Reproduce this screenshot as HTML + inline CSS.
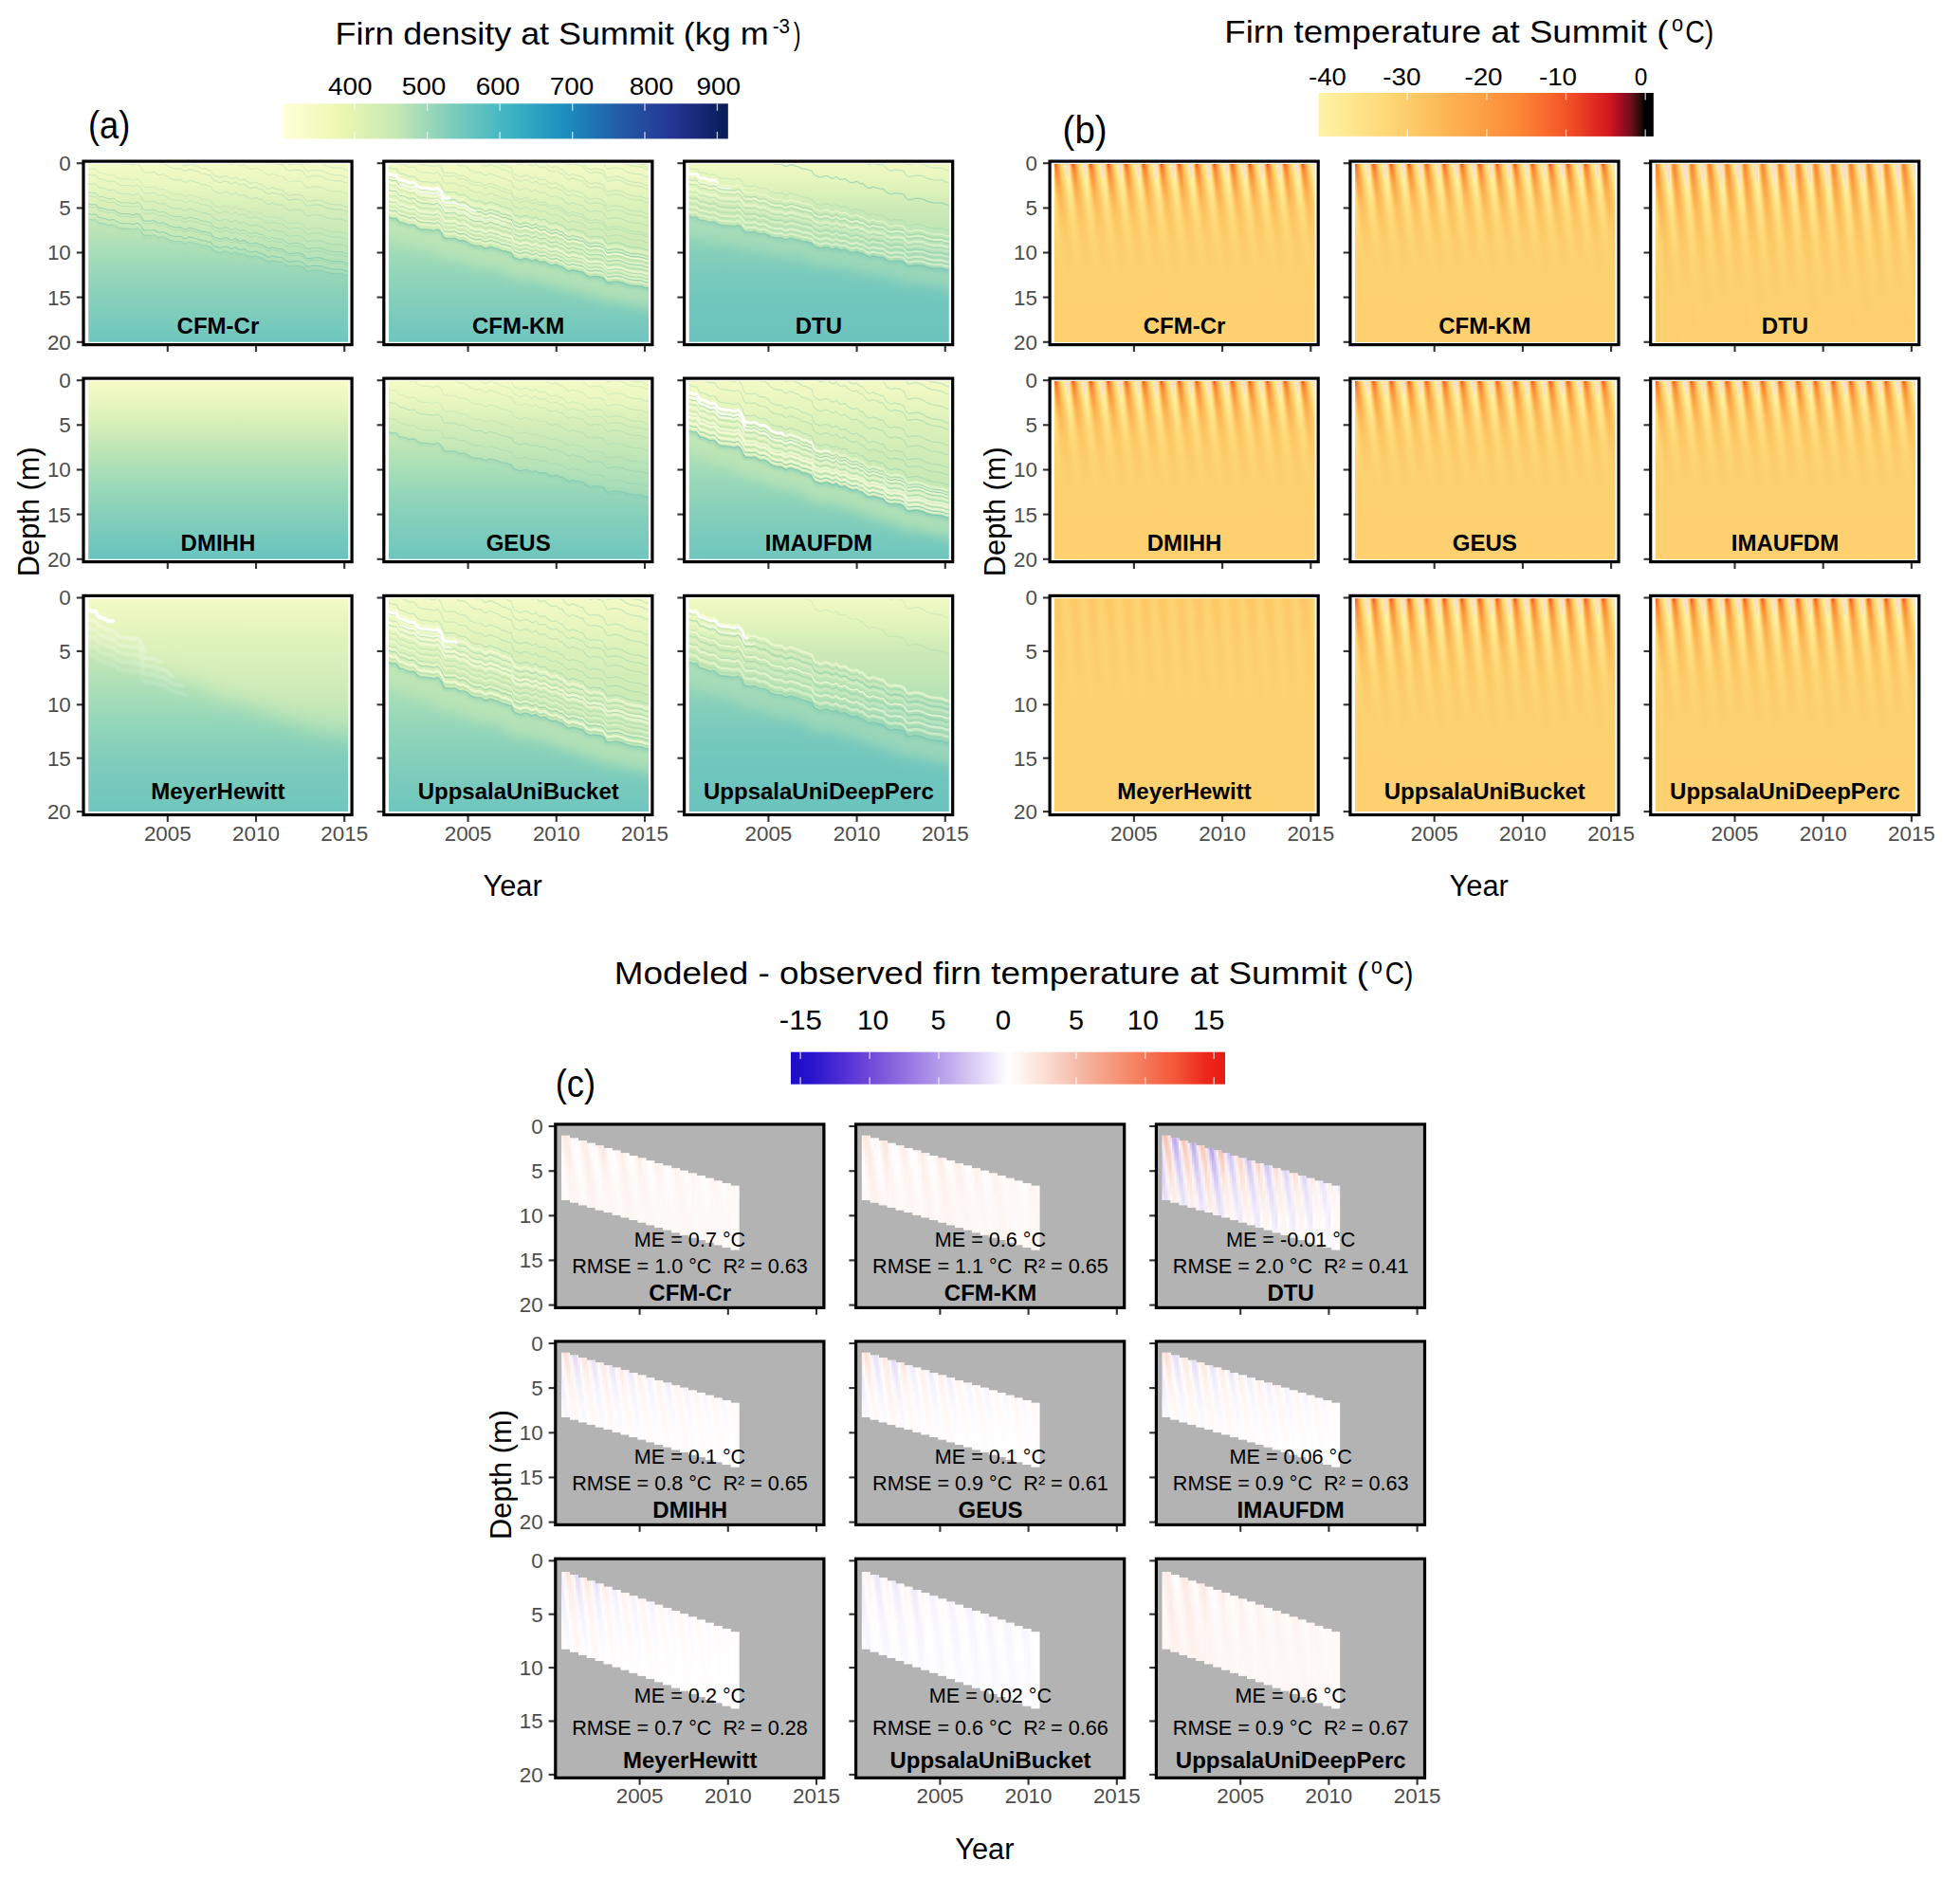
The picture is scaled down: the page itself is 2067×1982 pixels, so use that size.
<!DOCTYPE html>
<html><head><meta charset="utf-8"><title>Firn model comparison at Summit</title>
<style>html,body{margin:0;padding:0;background:#fff}svg{display:block}</style></head>
<body>
<svg width="2067" height="1982" viewBox="0 0 2067 1982" font-family='"Liberation Sans", sans-serif'>
<defs>
<clipPath id="cp0"><rect x="6.8" y="4.6" width="274" height="187.6"/></clipPath>
<clipPath id="cp2"><rect x="6.8" y="4.6" width="274" height="224.6"/></clipPath>
<linearGradient id="tn0" x1="0" y1="0" x2="0" y2="1"><stop offset="0" stop-color="#feea96"/><stop offset="0.0075" stop-color="#fee993"/><stop offset="0.0175" stop-color="#fee68f"/><stop offset="0.03" stop-color="#fee48a"/><stop offset="0.045" stop-color="#fee084"/><stop offset="0.065" stop-color="#fedc7d"/><stop offset="0.09" stop-color="#fed776"/><stop offset="0.12" stop-color="#fed06e"/><stop offset="0.155" stop-color="#fdc967"/><stop offset="0.2" stop-color="#fdc462"/><stop offset="0.25" stop-color="#fdc361"/><stop offset="0.31" stop-color="#fdc563"/><stop offset="0.375" stop-color="#fdca68"/><stop offset="0.45" stop-color="#fdce6d"/><stop offset="0.55" stop-color="#fed16f"/><stop offset="0.675" stop-color="#fed16f"/><stop offset="0.825" stop-color="#fed06f"/><stop offset="1" stop-color="#fed06f"/></linearGradient>
<linearGradient id="tn1" x1="0" y1="0" x2="0" y2="1"><stop offset="0" stop-color="#fff3a8"/><stop offset="0.0075" stop-color="#fff2a6"/><stop offset="0.0175" stop-color="#fff0a2"/><stop offset="0.03" stop-color="#ffed9c"/><stop offset="0.045" stop-color="#fee994"/><stop offset="0.065" stop-color="#fee48b"/><stop offset="0.09" stop-color="#fedf82"/><stop offset="0.12" stop-color="#fed978"/><stop offset="0.155" stop-color="#fed170"/><stop offset="0.2" stop-color="#fdca68"/><stop offset="0.25" stop-color="#fdc765"/><stop offset="0.31" stop-color="#fdc765"/><stop offset="0.375" stop-color="#fdc967"/><stop offset="0.45" stop-color="#fdcd6b"/><stop offset="0.55" stop-color="#fed06f"/><stop offset="0.675" stop-color="#fed16f"/><stop offset="0.825" stop-color="#fed06f"/><stop offset="1" stop-color="#fed06f"/></linearGradient>
<linearGradient id="tn2" x1="0" y1="0" x2="0" y2="1"><stop offset="0" stop-color="#fbdcd0"/><stop offset="0.0075" stop-color="#fbdcd0"/><stop offset="0.0175" stop-color="#fbdcd0"/><stop offset="0.03" stop-color="#fbdcd0"/><stop offset="0.045" stop-color="#fff2a7"/><stop offset="0.065" stop-color="#ffed9d"/><stop offset="0.09" stop-color="#fee790"/><stop offset="0.12" stop-color="#fee084"/><stop offset="0.155" stop-color="#feda79"/><stop offset="0.2" stop-color="#fed16f"/><stop offset="0.25" stop-color="#fdcb69"/><stop offset="0.31" stop-color="#fdc967"/><stop offset="0.375" stop-color="#fdca68"/><stop offset="0.45" stop-color="#fdcc6b"/><stop offset="0.55" stop-color="#fdcf6e"/><stop offset="0.675" stop-color="#fed16f"/><stop offset="0.825" stop-color="#fed06f"/><stop offset="1" stop-color="#fed06f"/></linearGradient>
<linearGradient id="tn3" x1="0" y1="0" x2="0" y2="1"><stop offset="0" stop-color="#fbdcd0"/><stop offset="0.0075" stop-color="#fbdcd0"/><stop offset="0.0175" stop-color="#fbdcd0"/><stop offset="0.03" stop-color="#fbdcd0"/><stop offset="0.045" stop-color="#fbdcd0"/><stop offset="0.065" stop-color="#fbdcd0"/><stop offset="0.09" stop-color="#ffefa0"/><stop offset="0.12" stop-color="#fee892"/><stop offset="0.155" stop-color="#fee085"/><stop offset="0.2" stop-color="#fed978"/><stop offset="0.25" stop-color="#fed06f"/><stop offset="0.31" stop-color="#fdcc6a"/><stop offset="0.375" stop-color="#fdcb69"/><stop offset="0.45" stop-color="#fdcc6b"/><stop offset="0.55" stop-color="#fdcf6d"/><stop offset="0.675" stop-color="#fed06f"/><stop offset="0.825" stop-color="#fed06f"/><stop offset="1" stop-color="#fed06f"/></linearGradient>
<linearGradient id="tn4" x1="0" y1="0" x2="0" y2="1"><stop offset="0" stop-color="#fff2a5"/><stop offset="0.0075" stop-color="#fbdcd0"/><stop offset="0.0175" stop-color="#fbdcd0"/><stop offset="0.03" stop-color="#fbdcd0"/><stop offset="0.045" stop-color="#fbdcd0"/><stop offset="0.065" stop-color="#fbdcd0"/><stop offset="0.09" stop-color="#fff3a8"/><stop offset="0.12" stop-color="#ffed9d"/><stop offset="0.155" stop-color="#fee68f"/><stop offset="0.2" stop-color="#fede81"/><stop offset="0.25" stop-color="#fed775"/><stop offset="0.31" stop-color="#fdcf6e"/><stop offset="0.375" stop-color="#fdcc6b"/><stop offset="0.45" stop-color="#fdcd6b"/><stop offset="0.55" stop-color="#fdcf6d"/><stop offset="0.675" stop-color="#fed06f"/><stop offset="0.825" stop-color="#fed06f"/><stop offset="1" stop-color="#fed06f"/></linearGradient>
<linearGradient id="tn5" x1="0" y1="0" x2="0" y2="1"><stop offset="0" stop-color="#fedd7f"/><stop offset="0.0075" stop-color="#fee084"/><stop offset="0.0175" stop-color="#fee48b"/><stop offset="0.03" stop-color="#fee893"/><stop offset="0.045" stop-color="#feec9a"/><stop offset="0.065" stop-color="#ffefa0"/><stop offset="0.09" stop-color="#fff0a2"/><stop offset="0.12" stop-color="#ffee9f"/><stop offset="0.155" stop-color="#feea96"/><stop offset="0.2" stop-color="#fee388"/><stop offset="0.25" stop-color="#fedb7c"/><stop offset="0.31" stop-color="#fed472"/><stop offset="0.375" stop-color="#fdcf6d"/><stop offset="0.45" stop-color="#fdcd6c"/><stop offset="0.55" stop-color="#fdce6d"/><stop offset="0.675" stop-color="#fed06e"/><stop offset="0.825" stop-color="#fed06f"/><stop offset="1" stop-color="#fed06f"/></linearGradient>
<linearGradient id="tn6" x1="0" y1="0" x2="0" y2="1"><stop offset="0" stop-color="#fdb756"/><stop offset="0.0075" stop-color="#fdbe5c"/><stop offset="0.0175" stop-color="#fdc664"/><stop offset="0.03" stop-color="#fdcf6e"/><stop offset="0.045" stop-color="#fed977"/><stop offset="0.065" stop-color="#fee083"/><stop offset="0.09" stop-color="#fee58d"/><stop offset="0.12" stop-color="#fee993"/><stop offset="0.155" stop-color="#fee893"/><stop offset="0.2" stop-color="#fee58c"/><stop offset="0.25" stop-color="#fedf81"/><stop offset="0.31" stop-color="#fed877"/><stop offset="0.375" stop-color="#fed270"/><stop offset="0.45" stop-color="#fdcf6d"/><stop offset="0.55" stop-color="#fdcf6d"/><stop offset="0.675" stop-color="#fed06e"/><stop offset="0.825" stop-color="#fed06f"/><stop offset="1" stop-color="#fed06f"/></linearGradient>
<linearGradient id="tn7" x1="0" y1="0" x2="0" y2="1"><stop offset="0" stop-color="#fc8636"/><stop offset="0.0075" stop-color="#fc903c"/><stop offset="0.0175" stop-color="#fd9d43"/><stop offset="0.03" stop-color="#fda94b"/><stop offset="0.045" stop-color="#fdb654"/><stop offset="0.065" stop-color="#fdc563"/><stop offset="0.09" stop-color="#fed372"/><stop offset="0.12" stop-color="#fedd7f"/><stop offset="0.155" stop-color="#fee287"/><stop offset="0.2" stop-color="#fee389"/><stop offset="0.25" stop-color="#fee083"/><stop offset="0.31" stop-color="#feda7a"/><stop offset="0.375" stop-color="#fed473"/><stop offset="0.45" stop-color="#fed06f"/><stop offset="0.55" stop-color="#fdcf6d"/><stop offset="0.675" stop-color="#fed06e"/><stop offset="0.825" stop-color="#fed06f"/><stop offset="1" stop-color="#fed06f"/></linearGradient>
<linearGradient id="tn8" x1="0" y1="0" x2="0" y2="1"><stop offset="0" stop-color="#cc171f"/><stop offset="0.0075" stop-color="#ec4524"/><stop offset="0.0175" stop-color="#f9692d"/><stop offset="0.03" stop-color="#fc8536"/><stop offset="0.045" stop-color="#fd963f"/><stop offset="0.065" stop-color="#fda749"/><stop offset="0.09" stop-color="#fdb857"/><stop offset="0.12" stop-color="#fdca68"/><stop offset="0.155" stop-color="#fed776"/><stop offset="0.2" stop-color="#fedd7f"/><stop offset="0.25" stop-color="#fede81"/><stop offset="0.31" stop-color="#fedb7c"/><stop offset="0.375" stop-color="#fed675"/><stop offset="0.45" stop-color="#fed270"/><stop offset="0.55" stop-color="#fdcf6e"/><stop offset="0.675" stop-color="#fed06e"/><stop offset="0.825" stop-color="#fed06f"/><stop offset="1" stop-color="#fed06f"/></linearGradient>
<linearGradient id="tn9" x1="0" y1="0" x2="0" y2="1"><stop offset="0" stop-color="#f75f2a"/><stop offset="0.0075" stop-color="#f9672c"/><stop offset="0.0175" stop-color="#f96f2f"/><stop offset="0.03" stop-color="#fb7932"/><stop offset="0.045" stop-color="#fc8736"/><stop offset="0.065" stop-color="#fd933d"/><stop offset="0.09" stop-color="#fda347"/><stop offset="0.12" stop-color="#fdb453"/><stop offset="0.155" stop-color="#fdc664"/><stop offset="0.2" stop-color="#fed472"/><stop offset="0.25" stop-color="#feda7a"/><stop offset="0.31" stop-color="#fedb7b"/><stop offset="0.375" stop-color="#fed876"/><stop offset="0.45" stop-color="#fed372"/><stop offset="0.55" stop-color="#fed06f"/><stop offset="0.675" stop-color="#fed06e"/><stop offset="0.825" stop-color="#fed06f"/><stop offset="1" stop-color="#fed06f"/></linearGradient>
<linearGradient id="tn10" x1="0" y1="0" x2="0" y2="1"><stop offset="0" stop-color="#fc8a38"/><stop offset="0.0075" stop-color="#fc8837"/><stop offset="0.0175" stop-color="#fc8736"/><stop offset="0.03" stop-color="#fc8736"/><stop offset="0.045" stop-color="#fc8938"/><stop offset="0.065" stop-color="#fc8e3b"/><stop offset="0.09" stop-color="#fd9941"/><stop offset="0.12" stop-color="#fda649"/><stop offset="0.155" stop-color="#fdb655"/><stop offset="0.2" stop-color="#fdc866"/><stop offset="0.25" stop-color="#fed371"/><stop offset="0.31" stop-color="#fed877"/><stop offset="0.375" stop-color="#fed776"/><stop offset="0.45" stop-color="#fed473"/><stop offset="0.55" stop-color="#fed16f"/><stop offset="0.675" stop-color="#fed06e"/><stop offset="0.825" stop-color="#fed06f"/><stop offset="1" stop-color="#fed06f"/></linearGradient>
<linearGradient id="tn11" x1="0" y1="0" x2="0" y2="1"><stop offset="0" stop-color="#fda649"/><stop offset="0.0075" stop-color="#fda347"/><stop offset="0.0175" stop-color="#fda045"/><stop offset="0.03" stop-color="#fd9c43"/><stop offset="0.045" stop-color="#fd9941"/><stop offset="0.065" stop-color="#fd9840"/><stop offset="0.09" stop-color="#fd9b42"/><stop offset="0.12" stop-color="#fda246"/><stop offset="0.155" stop-color="#fdad4e"/><stop offset="0.2" stop-color="#fdbd5b"/><stop offset="0.25" stop-color="#fdca69"/><stop offset="0.31" stop-color="#fed372"/><stop offset="0.375" stop-color="#fed674"/><stop offset="0.45" stop-color="#fed473"/><stop offset="0.55" stop-color="#fed170"/><stop offset="0.675" stop-color="#fed06f"/><stop offset="0.825" stop-color="#fed06f"/><stop offset="1" stop-color="#fed06f"/></linearGradient>
<linearGradient id="tn12" x1="0" y1="0" x2="0" y2="1"><stop offset="0" stop-color="#fdc05e"/><stop offset="0.0075" stop-color="#fdbc5b"/><stop offset="0.0175" stop-color="#fdb857"/><stop offset="0.03" stop-color="#fdb352"/><stop offset="0.045" stop-color="#fdae4e"/><stop offset="0.065" stop-color="#fda94b"/><stop offset="0.09" stop-color="#fda649"/><stop offset="0.12" stop-color="#fda74a"/><stop offset="0.155" stop-color="#fdac4d"/><stop offset="0.2" stop-color="#fdb756"/><stop offset="0.25" stop-color="#fdc462"/><stop offset="0.31" stop-color="#fdce6c"/><stop offset="0.375" stop-color="#fed372"/><stop offset="0.45" stop-color="#fed472"/><stop offset="0.55" stop-color="#fed270"/><stop offset="0.675" stop-color="#fed06f"/><stop offset="0.825" stop-color="#fed06f"/><stop offset="1" stop-color="#fed06f"/></linearGradient>
<linearGradient id="tn13" x1="0" y1="0" x2="0" y2="1"><stop offset="0" stop-color="#fed270"/><stop offset="0.0075" stop-color="#fdcf6e"/><stop offset="0.0175" stop-color="#fdcb6a"/><stop offset="0.03" stop-color="#fdc765"/><stop offset="0.045" stop-color="#fdc160"/><stop offset="0.065" stop-color="#fdbb59"/><stop offset="0.09" stop-color="#fdb554"/><stop offset="0.12" stop-color="#fdb150"/><stop offset="0.155" stop-color="#fdb150"/><stop offset="0.2" stop-color="#fdb655"/><stop offset="0.25" stop-color="#fdbf5e"/><stop offset="0.31" stop-color="#fdc968"/><stop offset="0.375" stop-color="#fed06f"/><stop offset="0.45" stop-color="#fed371"/><stop offset="0.55" stop-color="#fed271"/><stop offset="0.675" stop-color="#fed06f"/><stop offset="0.825" stop-color="#fed06f"/><stop offset="1" stop-color="#fed06f"/></linearGradient>
<linearGradient id="tn14" x1="0" y1="0" x2="0" y2="1"><stop offset="0" stop-color="#fedc7d"/><stop offset="0.0075" stop-color="#feda7a"/><stop offset="0.0175" stop-color="#fed877"/><stop offset="0.03" stop-color="#fed473"/><stop offset="0.045" stop-color="#fdcf6e"/><stop offset="0.065" stop-color="#fdc967"/><stop offset="0.09" stop-color="#fdc361"/><stop offset="0.12" stop-color="#fdbc5b"/><stop offset="0.155" stop-color="#fdb957"/><stop offset="0.2" stop-color="#fdb958"/><stop offset="0.25" stop-color="#fdbe5d"/><stop offset="0.31" stop-color="#fdc765"/><stop offset="0.375" stop-color="#fdcd6c"/><stop offset="0.45" stop-color="#fed170"/><stop offset="0.55" stop-color="#fed270"/><stop offset="0.675" stop-color="#fed16f"/><stop offset="0.825" stop-color="#fed06f"/><stop offset="1" stop-color="#fed06f"/></linearGradient>
<linearGradient id="tn15" x1="0" y1="0" x2="0" y2="1"><stop offset="0" stop-color="#fee288"/><stop offset="0.0075" stop-color="#fee185"/><stop offset="0.0175" stop-color="#fedf82"/><stop offset="0.03" stop-color="#fedc7e"/><stop offset="0.045" stop-color="#fed978"/><stop offset="0.065" stop-color="#fed472"/><stop offset="0.09" stop-color="#fdcd6c"/><stop offset="0.12" stop-color="#fdc765"/><stop offset="0.155" stop-color="#fdc15f"/><stop offset="0.2" stop-color="#fdbe5d"/><stop offset="0.25" stop-color="#fdc05e"/><stop offset="0.31" stop-color="#fdc563"/><stop offset="0.375" stop-color="#fdcb69"/><stop offset="0.45" stop-color="#fed06e"/><stop offset="0.55" stop-color="#fed170"/><stop offset="0.675" stop-color="#fed16f"/><stop offset="0.825" stop-color="#fed06f"/><stop offset="1" stop-color="#fed06f"/></linearGradient>
<g id="Tn0"><rect x="0" width="2.46" height="188.6" fill="url(#tn0)"/><rect x="1.17" width="2.46" height="188.6" fill="url(#tn1)"/><rect x="2.33" width="2.46" height="188.6" fill="url(#tn2)"/><rect x="3.5" width="2.46" height="188.6" fill="url(#tn3)"/><rect x="4.66" width="2.46" height="188.6" fill="url(#tn4)"/><rect x="5.83" width="2.46" height="188.6" fill="url(#tn5)"/><rect x="6.99" width="2.46" height="188.6" fill="url(#tn6)"/><rect x="8.16" width="2.46" height="188.6" fill="url(#tn7)"/><rect x="9.32" width="2.46" height="188.6" fill="url(#tn8)"/><rect x="10.48" width="2.46" height="188.6" fill="url(#tn9)"/><rect x="11.65" width="2.46" height="188.6" fill="url(#tn10)"/><rect x="12.82" width="2.46" height="188.6" fill="url(#tn11)"/><rect x="13.98" width="2.46" height="188.6" fill="url(#tn12)"/><rect x="15.14" width="2.46" height="188.6" fill="url(#tn13)"/><rect x="16.31" width="2.46" height="188.6" fill="url(#tn14)"/><rect x="17.48" width="2.46" height="188.6" fill="url(#tn15)"/></g>
<g id="Tn2"><rect x="0" width="2.46" height="225.6" fill="url(#tn0)"/><rect x="1.17" width="2.46" height="225.6" fill="url(#tn1)"/><rect x="2.33" width="2.46" height="225.6" fill="url(#tn2)"/><rect x="3.5" width="2.46" height="225.6" fill="url(#tn3)"/><rect x="4.66" width="2.46" height="225.6" fill="url(#tn4)"/><rect x="5.83" width="2.46" height="225.6" fill="url(#tn5)"/><rect x="6.99" width="2.46" height="225.6" fill="url(#tn6)"/><rect x="8.16" width="2.46" height="225.6" fill="url(#tn7)"/><rect x="9.32" width="2.46" height="225.6" fill="url(#tn8)"/><rect x="10.48" width="2.46" height="225.6" fill="url(#tn9)"/><rect x="11.65" width="2.46" height="225.6" fill="url(#tn10)"/><rect x="12.82" width="2.46" height="225.6" fill="url(#tn11)"/><rect x="13.98" width="2.46" height="225.6" fill="url(#tn12)"/><rect x="15.14" width="2.46" height="225.6" fill="url(#tn13)"/><rect x="16.31" width="2.46" height="225.6" fill="url(#tn14)"/><rect x="17.48" width="2.46" height="225.6" fill="url(#tn15)"/></g>
<linearGradient id="td0" x1="0" y1="0" x2="0" y2="1"><stop offset="0" stop-color="#fbdcd0"/><stop offset="0.0075" stop-color="#fff3a7"/><stop offset="0.0175" stop-color="#ffefa1"/><stop offset="0.03" stop-color="#feec99"/><stop offset="0.045" stop-color="#fee791"/><stop offset="0.065" stop-color="#fee287"/><stop offset="0.09" stop-color="#fedd7e"/><stop offset="0.12" stop-color="#fed675"/><stop offset="0.155" stop-color="#fdce6d"/><stop offset="0.2" stop-color="#fdc765"/><stop offset="0.25" stop-color="#fdc361"/><stop offset="0.31" stop-color="#fdc15f"/><stop offset="0.375" stop-color="#fdc362"/><stop offset="0.45" stop-color="#fdc866"/><stop offset="0.55" stop-color="#fdcd6b"/><stop offset="0.675" stop-color="#fed06f"/><stop offset="0.825" stop-color="#fed06f"/><stop offset="1" stop-color="#fed06e"/></linearGradient>
<linearGradient id="td1" x1="0" y1="0" x2="0" y2="1"><stop offset="0" stop-color="#fbdcd0"/><stop offset="0.0075" stop-color="#fbdcd0"/><stop offset="0.0175" stop-color="#fbdcd0"/><stop offset="0.03" stop-color="#fbdcd0"/><stop offset="0.045" stop-color="#fff2a6"/><stop offset="0.065" stop-color="#feec9a"/><stop offset="0.09" stop-color="#fee68e"/><stop offset="0.12" stop-color="#fedf83"/><stop offset="0.155" stop-color="#fed978"/><stop offset="0.2" stop-color="#fed06e"/><stop offset="0.25" stop-color="#fdc967"/><stop offset="0.31" stop-color="#fdc563"/><stop offset="0.375" stop-color="#fdc563"/><stop offset="0.45" stop-color="#fdc866"/><stop offset="0.55" stop-color="#fdcc6a"/><stop offset="0.675" stop-color="#fdcf6e"/><stop offset="0.825" stop-color="#fed06f"/><stop offset="1" stop-color="#fed06e"/></linearGradient>
<linearGradient id="td2" x1="0" y1="0" x2="0" y2="1"><stop offset="0" stop-color="#fbdcd0"/><stop offset="0.0075" stop-color="#fbdcd0"/><stop offset="0.0175" stop-color="#fbdcd0"/><stop offset="0.03" stop-color="#fbdcd0"/><stop offset="0.045" stop-color="#fbdcd0"/><stop offset="0.065" stop-color="#fbdcd0"/><stop offset="0.09" stop-color="#fff0a1"/><stop offset="0.12" stop-color="#fee993"/><stop offset="0.155" stop-color="#fee186"/><stop offset="0.2" stop-color="#fed979"/><stop offset="0.25" stop-color="#fed16f"/><stop offset="0.31" stop-color="#fdca69"/><stop offset="0.375" stop-color="#fdc866"/><stop offset="0.45" stop-color="#fdc866"/><stop offset="0.55" stop-color="#fdcb69"/><stop offset="0.675" stop-color="#fdcf6d"/><stop offset="0.825" stop-color="#fed06e"/><stop offset="1" stop-color="#fed06e"/></linearGradient>
<linearGradient id="td3" x1="0" y1="0" x2="0" y2="1"><stop offset="0" stop-color="#fbdcd0"/><stop offset="0.0075" stop-color="#fbdcd0"/><stop offset="0.0175" stop-color="#fbdcd0"/><stop offset="0.03" stop-color="#fbdcd0"/><stop offset="0.045" stop-color="#fbdcd0"/><stop offset="0.065" stop-color="#fbdcd0"/><stop offset="0.09" stop-color="#fbdcd0"/><stop offset="0.12" stop-color="#fff1a3"/><stop offset="0.155" stop-color="#fee994"/><stop offset="0.2" stop-color="#fee185"/><stop offset="0.25" stop-color="#fed978"/><stop offset="0.31" stop-color="#fed06f"/><stop offset="0.375" stop-color="#fdcb6a"/><stop offset="0.45" stop-color="#fdca68"/><stop offset="0.55" stop-color="#fdcb69"/><stop offset="0.675" stop-color="#fdce6c"/><stop offset="0.825" stop-color="#fed06e"/><stop offset="1" stop-color="#fed06e"/></linearGradient>
<linearGradient id="td4" x1="0" y1="0" x2="0" y2="1"><stop offset="0" stop-color="#fbdcd0"/><stop offset="0.0075" stop-color="#fbdcd0"/><stop offset="0.0175" stop-color="#fbdcd0"/><stop offset="0.03" stop-color="#fbdcd0"/><stop offset="0.045" stop-color="#fbdcd0"/><stop offset="0.065" stop-color="#fbdcd0"/><stop offset="0.09" stop-color="#fbdcd0"/><stop offset="0.12" stop-color="#fbdcd0"/><stop offset="0.155" stop-color="#ffefa0"/><stop offset="0.2" stop-color="#fee790"/><stop offset="0.25" stop-color="#fedf82"/><stop offset="0.31" stop-color="#fed776"/><stop offset="0.375" stop-color="#fed06e"/><stop offset="0.45" stop-color="#fdcc6a"/><stop offset="0.55" stop-color="#fdcc6a"/><stop offset="0.675" stop-color="#fdce6c"/><stop offset="0.825" stop-color="#fdcf6e"/><stop offset="1" stop-color="#fed06e"/></linearGradient>
<linearGradient id="td5" x1="0" y1="0" x2="0" y2="1"><stop offset="0" stop-color="#fee38a"/><stop offset="0.0075" stop-color="#fee58d"/><stop offset="0.0175" stop-color="#fee791"/><stop offset="0.03" stop-color="#feea96"/><stop offset="0.045" stop-color="#ffed9b"/><stop offset="0.065" stop-color="#ffefa1"/><stop offset="0.09" stop-color="#fff1a4"/><stop offset="0.12" stop-color="#fff1a5"/><stop offset="0.155" stop-color="#ffefa0"/><stop offset="0.2" stop-color="#feea97"/><stop offset="0.25" stop-color="#fee48a"/><stop offset="0.31" stop-color="#fedc7d"/><stop offset="0.375" stop-color="#fed574"/><stop offset="0.45" stop-color="#fdcf6e"/><stop offset="0.55" stop-color="#fdcd6b"/><stop offset="0.675" stop-color="#fdce6c"/><stop offset="0.825" stop-color="#fdcf6e"/><stop offset="1" stop-color="#fed06e"/></linearGradient>
<linearGradient id="td6" x1="0" y1="0" x2="0" y2="1"><stop offset="0" stop-color="#fdc160"/><stop offset="0.0075" stop-color="#fdc563"/><stop offset="0.0175" stop-color="#fdca68"/><stop offset="0.03" stop-color="#fdcf6e"/><stop offset="0.045" stop-color="#fed675"/><stop offset="0.065" stop-color="#fedc7e"/><stop offset="0.09" stop-color="#fee287"/><stop offset="0.12" stop-color="#fee78f"/><stop offset="0.155" stop-color="#fee994"/><stop offset="0.2" stop-color="#fee994"/><stop offset="0.25" stop-color="#fee58d"/><stop offset="0.31" stop-color="#fedf83"/><stop offset="0.375" stop-color="#fed979"/><stop offset="0.45" stop-color="#fed271"/><stop offset="0.55" stop-color="#fdce6d"/><stop offset="0.675" stop-color="#fdce6c"/><stop offset="0.825" stop-color="#fdcf6d"/><stop offset="1" stop-color="#fed06e"/></linearGradient>
<linearGradient id="td7" x1="0" y1="0" x2="0" y2="1"><stop offset="0" stop-color="#fd9b42"/><stop offset="0.0075" stop-color="#fd9f44"/><stop offset="0.0175" stop-color="#fda448"/><stop offset="0.03" stop-color="#fdaa4c"/><stop offset="0.045" stop-color="#fdb351"/><stop offset="0.065" stop-color="#fdbe5c"/><stop offset="0.09" stop-color="#fdca68"/><stop offset="0.12" stop-color="#fed675"/><stop offset="0.155" stop-color="#fede80"/><stop offset="0.2" stop-color="#fee288"/><stop offset="0.25" stop-color="#fee389"/><stop offset="0.31" stop-color="#fee084"/><stop offset="0.375" stop-color="#fedc7c"/><stop offset="0.45" stop-color="#fed674"/><stop offset="0.55" stop-color="#fed06e"/><stop offset="0.675" stop-color="#fdce6d"/><stop offset="0.825" stop-color="#fdcf6d"/><stop offset="1" stop-color="#fdcf6e"/></linearGradient>
<linearGradient id="td8" x1="0" y1="0" x2="0" y2="1"><stop offset="0" stop-color="#fa702f"/><stop offset="0.0075" stop-color="#fb7c33"/><stop offset="0.0175" stop-color="#fc8737"/><stop offset="0.03" stop-color="#fc8e3b"/><stop offset="0.045" stop-color="#fd973f"/><stop offset="0.065" stop-color="#fda146"/><stop offset="0.09" stop-color="#fdad4e"/><stop offset="0.12" stop-color="#fdbc5b"/><stop offset="0.155" stop-color="#fdcb69"/><stop offset="0.2" stop-color="#fed876"/><stop offset="0.25" stop-color="#fedd7f"/><stop offset="0.31" stop-color="#fede81"/><stop offset="0.375" stop-color="#fedc7d"/><stop offset="0.45" stop-color="#fed877"/><stop offset="0.55" stop-color="#fed270"/><stop offset="0.675" stop-color="#fdcf6d"/><stop offset="0.825" stop-color="#fdcf6d"/><stop offset="1" stop-color="#fdcf6e"/></linearGradient>
<linearGradient id="td9" x1="0" y1="0" x2="0" y2="1"><stop offset="0" stop-color="#fc8636"/><stop offset="0.0075" stop-color="#fc8636"/><stop offset="0.0175" stop-color="#fc8636"/><stop offset="0.03" stop-color="#fc8737"/><stop offset="0.045" stop-color="#fc8b39"/><stop offset="0.065" stop-color="#fc913c"/><stop offset="0.09" stop-color="#fd9b42"/><stop offset="0.12" stop-color="#fda84a"/><stop offset="0.155" stop-color="#fdb655"/><stop offset="0.2" stop-color="#fdc765"/><stop offset="0.25" stop-color="#fed372"/><stop offset="0.31" stop-color="#feda7a"/><stop offset="0.375" stop-color="#fedb7b"/><stop offset="0.45" stop-color="#fed877"/><stop offset="0.55" stop-color="#fed372"/><stop offset="0.675" stop-color="#fed06e"/><stop offset="0.825" stop-color="#fdcf6d"/><stop offset="1" stop-color="#fdcf6e"/></linearGradient>
<linearGradient id="td10" x1="0" y1="0" x2="0" y2="1"><stop offset="0" stop-color="#fd9c42"/><stop offset="0.0075" stop-color="#fd9840"/><stop offset="0.0175" stop-color="#fd953e"/><stop offset="0.03" stop-color="#fd923d"/><stop offset="0.045" stop-color="#fc903c"/><stop offset="0.065" stop-color="#fc913c"/><stop offset="0.09" stop-color="#fd953f"/><stop offset="0.12" stop-color="#fd9e43"/><stop offset="0.155" stop-color="#fda94b"/><stop offset="0.2" stop-color="#fdb857"/><stop offset="0.25" stop-color="#fdc765"/><stop offset="0.31" stop-color="#fed271"/><stop offset="0.375" stop-color="#fed776"/><stop offset="0.45" stop-color="#fed876"/><stop offset="0.55" stop-color="#fed473"/><stop offset="0.675" stop-color="#fed16f"/><stop offset="0.825" stop-color="#fdcf6e"/><stop offset="1" stop-color="#fdcf6e"/></linearGradient>
<linearGradient id="td11" x1="0" y1="0" x2="0" y2="1"><stop offset="0" stop-color="#fdb352"/><stop offset="0.0075" stop-color="#fdaf4f"/><stop offset="0.0175" stop-color="#fdab4c"/><stop offset="0.03" stop-color="#fda649"/><stop offset="0.045" stop-color="#fda246"/><stop offset="0.065" stop-color="#fd9e44"/><stop offset="0.09" stop-color="#fd9d43"/><stop offset="0.12" stop-color="#fd9f44"/><stop offset="0.155" stop-color="#fda548"/><stop offset="0.2" stop-color="#fdaf4f"/><stop offset="0.25" stop-color="#fdbc5b"/><stop offset="0.31" stop-color="#fdc968"/><stop offset="0.375" stop-color="#fed270"/><stop offset="0.45" stop-color="#fed574"/><stop offset="0.55" stop-color="#fed473"/><stop offset="0.675" stop-color="#fed170"/><stop offset="0.825" stop-color="#fdcf6e"/><stop offset="1" stop-color="#fdcf6e"/></linearGradient>
<linearGradient id="td12" x1="0" y1="0" x2="0" y2="1"><stop offset="0" stop-color="#fdcb69"/><stop offset="0.0075" stop-color="#fdc765"/><stop offset="0.0175" stop-color="#fdc160"/><stop offset="0.03" stop-color="#fdbc5a"/><stop offset="0.045" stop-color="#fdb654"/><stop offset="0.065" stop-color="#fdaf4f"/><stop offset="0.09" stop-color="#fdaa4c"/><stop offset="0.12" stop-color="#fda84a"/><stop offset="0.155" stop-color="#fda84a"/><stop offset="0.2" stop-color="#fdad4e"/><stop offset="0.25" stop-color="#fdb755"/><stop offset="0.31" stop-color="#fdc361"/><stop offset="0.375" stop-color="#fdcc6a"/><stop offset="0.45" stop-color="#fed270"/><stop offset="0.55" stop-color="#fed372"/><stop offset="0.675" stop-color="#fed270"/><stop offset="0.825" stop-color="#fed06e"/><stop offset="1" stop-color="#fdcf6e"/></linearGradient>
<linearGradient id="td13" x1="0" y1="0" x2="0" y2="1"><stop offset="0" stop-color="#feda7a"/><stop offset="0.0075" stop-color="#fed776"/><stop offset="0.0175" stop-color="#fed371"/><stop offset="0.03" stop-color="#fdcd6c"/><stop offset="0.045" stop-color="#fdc866"/><stop offset="0.065" stop-color="#fdc15f"/><stop offset="0.09" stop-color="#fdba58"/><stop offset="0.12" stop-color="#fdb453"/><stop offset="0.155" stop-color="#fdb150"/><stop offset="0.2" stop-color="#fdb150"/><stop offset="0.25" stop-color="#fdb654"/><stop offset="0.31" stop-color="#fdbe5d"/><stop offset="0.375" stop-color="#fdc766"/><stop offset="0.45" stop-color="#fdce6d"/><stop offset="0.55" stop-color="#fed271"/><stop offset="0.675" stop-color="#fed270"/><stop offset="0.825" stop-color="#fed06f"/><stop offset="1" stop-color="#fdcf6e"/></linearGradient>
<linearGradient id="td14" x1="0" y1="0" x2="0" y2="1"><stop offset="0" stop-color="#fee389"/><stop offset="0.0075" stop-color="#fee085"/><stop offset="0.0175" stop-color="#fedd7f"/><stop offset="0.03" stop-color="#feda7a"/><stop offset="0.045" stop-color="#fed574"/><stop offset="0.065" stop-color="#fdce6d"/><stop offset="0.09" stop-color="#fdc765"/><stop offset="0.12" stop-color="#fdc05f"/><stop offset="0.155" stop-color="#fdbb59"/><stop offset="0.2" stop-color="#fdb756"/><stop offset="0.25" stop-color="#fdb857"/><stop offset="0.31" stop-color="#fdbd5c"/><stop offset="0.375" stop-color="#fdc462"/><stop offset="0.45" stop-color="#fdcb6a"/><stop offset="0.55" stop-color="#fed06f"/><stop offset="0.675" stop-color="#fed170"/><stop offset="0.825" stop-color="#fed06f"/><stop offset="1" stop-color="#fed06e"/></linearGradient>
<linearGradient id="td15" x1="0" y1="0" x2="0" y2="1"><stop offset="0" stop-color="#feeb98"/><stop offset="0.0075" stop-color="#fee993"/><stop offset="0.0175" stop-color="#fee68d"/><stop offset="0.03" stop-color="#fee287"/><stop offset="0.045" stop-color="#fede81"/><stop offset="0.065" stop-color="#feda79"/><stop offset="0.09" stop-color="#fed271"/><stop offset="0.12" stop-color="#fdcb6a"/><stop offset="0.155" stop-color="#fdc563"/><stop offset="0.2" stop-color="#fdbf5d"/><stop offset="0.25" stop-color="#fdbd5b"/><stop offset="0.31" stop-color="#fdbe5d"/><stop offset="0.375" stop-color="#fdc361"/><stop offset="0.45" stop-color="#fdc967"/><stop offset="0.55" stop-color="#fdcf6d"/><stop offset="0.675" stop-color="#fed16f"/><stop offset="0.825" stop-color="#fed06f"/><stop offset="1" stop-color="#fed06e"/></linearGradient>
<g id="Td0"><rect x="0" width="2.46" height="188.6" fill="url(#td0)"/><rect x="1.17" width="2.46" height="188.6" fill="url(#td1)"/><rect x="2.33" width="2.46" height="188.6" fill="url(#td2)"/><rect x="3.5" width="2.46" height="188.6" fill="url(#td3)"/><rect x="4.66" width="2.46" height="188.6" fill="url(#td4)"/><rect x="5.83" width="2.46" height="188.6" fill="url(#td5)"/><rect x="6.99" width="2.46" height="188.6" fill="url(#td6)"/><rect x="8.16" width="2.46" height="188.6" fill="url(#td7)"/><rect x="9.32" width="2.46" height="188.6" fill="url(#td8)"/><rect x="10.48" width="2.46" height="188.6" fill="url(#td9)"/><rect x="11.65" width="2.46" height="188.6" fill="url(#td10)"/><rect x="12.82" width="2.46" height="188.6" fill="url(#td11)"/><rect x="13.98" width="2.46" height="188.6" fill="url(#td12)"/><rect x="15.14" width="2.46" height="188.6" fill="url(#td13)"/><rect x="16.31" width="2.46" height="188.6" fill="url(#td14)"/><rect x="17.48" width="2.46" height="188.6" fill="url(#td15)"/></g>
<g id="Td2"><rect x="0" width="2.46" height="225.6" fill="url(#td0)"/><rect x="1.17" width="2.46" height="225.6" fill="url(#td1)"/><rect x="2.33" width="2.46" height="225.6" fill="url(#td2)"/><rect x="3.5" width="2.46" height="225.6" fill="url(#td3)"/><rect x="4.66" width="2.46" height="225.6" fill="url(#td4)"/><rect x="5.83" width="2.46" height="225.6" fill="url(#td5)"/><rect x="6.99" width="2.46" height="225.6" fill="url(#td6)"/><rect x="8.16" width="2.46" height="225.6" fill="url(#td7)"/><rect x="9.32" width="2.46" height="225.6" fill="url(#td8)"/><rect x="10.48" width="2.46" height="225.6" fill="url(#td9)"/><rect x="11.65" width="2.46" height="225.6" fill="url(#td10)"/><rect x="12.82" width="2.46" height="225.6" fill="url(#td11)"/><rect x="13.98" width="2.46" height="225.6" fill="url(#td12)"/><rect x="15.14" width="2.46" height="225.6" fill="url(#td13)"/><rect x="16.31" width="2.46" height="225.6" fill="url(#td14)"/><rect x="17.48" width="2.46" height="225.6" fill="url(#td15)"/></g>
<linearGradient id="tm0" x1="0" y1="0" x2="0" y2="1"><stop offset="0" stop-color="#fed271"/><stop offset="0.0075" stop-color="#fed271"/><stop offset="0.0175" stop-color="#fed271"/><stop offset="0.03" stop-color="#fed271"/><stop offset="0.045" stop-color="#fed271"/><stop offset="0.065" stop-color="#fed270"/><stop offset="0.09" stop-color="#fed170"/><stop offset="0.12" stop-color="#fed16f"/><stop offset="0.155" stop-color="#fed06f"/><stop offset="0.2" stop-color="#fed06e"/><stop offset="0.25" stop-color="#fdcf6e"/><stop offset="0.31" stop-color="#fdcf6d"/><stop offset="0.375" stop-color="#fdcf6e"/><stop offset="0.45" stop-color="#fed06e"/><stop offset="0.55" stop-color="#fed06f"/><stop offset="0.675" stop-color="#fed16f"/><stop offset="0.825" stop-color="#fed170"/><stop offset="1" stop-color="#fed170"/></linearGradient>
<linearGradient id="tm1" x1="0" y1="0" x2="0" y2="1"><stop offset="0" stop-color="#fed372"/><stop offset="0.0075" stop-color="#fed372"/><stop offset="0.0175" stop-color="#fed372"/><stop offset="0.03" stop-color="#fed372"/><stop offset="0.045" stop-color="#fed372"/><stop offset="0.065" stop-color="#fed372"/><stop offset="0.09" stop-color="#fed372"/><stop offset="0.12" stop-color="#fed271"/><stop offset="0.155" stop-color="#fed270"/><stop offset="0.2" stop-color="#fed170"/><stop offset="0.25" stop-color="#fed06f"/><stop offset="0.31" stop-color="#fed06e"/><stop offset="0.375" stop-color="#fed06e"/><stop offset="0.45" stop-color="#fed06e"/><stop offset="0.55" stop-color="#fed06f"/><stop offset="0.675" stop-color="#fed16f"/><stop offset="0.825" stop-color="#fed16f"/><stop offset="1" stop-color="#fed170"/></linearGradient>
<linearGradient id="tm2" x1="0" y1="0" x2="0" y2="1"><stop offset="0" stop-color="#fed372"/><stop offset="0.0075" stop-color="#fed372"/><stop offset="0.0175" stop-color="#fed372"/><stop offset="0.03" stop-color="#fed472"/><stop offset="0.045" stop-color="#fed472"/><stop offset="0.065" stop-color="#fed472"/><stop offset="0.09" stop-color="#fed472"/><stop offset="0.12" stop-color="#fed372"/><stop offset="0.155" stop-color="#fed372"/><stop offset="0.2" stop-color="#fed271"/><stop offset="0.25" stop-color="#fed170"/><stop offset="0.31" stop-color="#fed16f"/><stop offset="0.375" stop-color="#fed06f"/><stop offset="0.45" stop-color="#fed06e"/><stop offset="0.55" stop-color="#fed06f"/><stop offset="0.675" stop-color="#fed16f"/><stop offset="0.825" stop-color="#fed16f"/><stop offset="1" stop-color="#fed170"/></linearGradient>
<linearGradient id="tm3" x1="0" y1="0" x2="0" y2="1"><stop offset="0" stop-color="#fed270"/><stop offset="0.0075" stop-color="#fed271"/><stop offset="0.0175" stop-color="#fed271"/><stop offset="0.03" stop-color="#fed371"/><stop offset="0.045" stop-color="#fed372"/><stop offset="0.065" stop-color="#fed472"/><stop offset="0.09" stop-color="#fed472"/><stop offset="0.12" stop-color="#fed472"/><stop offset="0.155" stop-color="#fed472"/><stop offset="0.2" stop-color="#fed372"/><stop offset="0.25" stop-color="#fed271"/><stop offset="0.31" stop-color="#fed170"/><stop offset="0.375" stop-color="#fed16f"/><stop offset="0.45" stop-color="#fed06f"/><stop offset="0.55" stop-color="#fed06f"/><stop offset="0.675" stop-color="#fed16f"/><stop offset="0.825" stop-color="#fed16f"/><stop offset="1" stop-color="#fed16f"/></linearGradient>
<linearGradient id="tm4" x1="0" y1="0" x2="0" y2="1"><stop offset="0" stop-color="#fed06e"/><stop offset="0.0075" stop-color="#fed06f"/><stop offset="0.0175" stop-color="#fed16f"/><stop offset="0.03" stop-color="#fed170"/><stop offset="0.045" stop-color="#fed270"/><stop offset="0.065" stop-color="#fed271"/><stop offset="0.09" stop-color="#fed372"/><stop offset="0.12" stop-color="#fed372"/><stop offset="0.155" stop-color="#fed472"/><stop offset="0.2" stop-color="#fed372"/><stop offset="0.25" stop-color="#fed372"/><stop offset="0.31" stop-color="#fed271"/><stop offset="0.375" stop-color="#fed170"/><stop offset="0.45" stop-color="#fed16f"/><stop offset="0.55" stop-color="#fed06f"/><stop offset="0.675" stop-color="#fed16f"/><stop offset="0.825" stop-color="#fed16f"/><stop offset="1" stop-color="#fed16f"/></linearGradient>
<linearGradient id="tm5" x1="0" y1="0" x2="0" y2="1"><stop offset="0" stop-color="#fdcd6c"/><stop offset="0.0075" stop-color="#fdce6c"/><stop offset="0.0175" stop-color="#fdcf6d"/><stop offset="0.03" stop-color="#fdcf6e"/><stop offset="0.045" stop-color="#fed06e"/><stop offset="0.065" stop-color="#fed16f"/><stop offset="0.09" stop-color="#fed270"/><stop offset="0.12" stop-color="#fed271"/><stop offset="0.155" stop-color="#fed372"/><stop offset="0.2" stop-color="#fed372"/><stop offset="0.25" stop-color="#fed372"/><stop offset="0.31" stop-color="#fed371"/><stop offset="0.375" stop-color="#fed270"/><stop offset="0.45" stop-color="#fed170"/><stop offset="0.55" stop-color="#fed16f"/><stop offset="0.675" stop-color="#fed16f"/><stop offset="0.825" stop-color="#fed16f"/><stop offset="1" stop-color="#fed16f"/></linearGradient>
<linearGradient id="tm6" x1="0" y1="0" x2="0" y2="1"><stop offset="0" stop-color="#fdcb69"/><stop offset="0.0075" stop-color="#fdcc6a"/><stop offset="0.0175" stop-color="#fdcc6a"/><stop offset="0.03" stop-color="#fdcd6b"/><stop offset="0.045" stop-color="#fdce6c"/><stop offset="0.065" stop-color="#fdcf6d"/><stop offset="0.09" stop-color="#fed06e"/><stop offset="0.12" stop-color="#fed16f"/><stop offset="0.155" stop-color="#fed270"/><stop offset="0.2" stop-color="#fed271"/><stop offset="0.25" stop-color="#fed371"/><stop offset="0.31" stop-color="#fed371"/><stop offset="0.375" stop-color="#fed271"/><stop offset="0.45" stop-color="#fed270"/><stop offset="0.55" stop-color="#fed170"/><stop offset="0.675" stop-color="#fed16f"/><stop offset="0.825" stop-color="#fed16f"/><stop offset="1" stop-color="#fed16f"/></linearGradient>
<linearGradient id="tm7" x1="0" y1="0" x2="0" y2="1"><stop offset="0" stop-color="#fdc967"/><stop offset="0.0075" stop-color="#fdc967"/><stop offset="0.0175" stop-color="#fdca68"/><stop offset="0.03" stop-color="#fdcb69"/><stop offset="0.045" stop-color="#fdcc6a"/><stop offset="0.065" stop-color="#fdcd6b"/><stop offset="0.09" stop-color="#fdce6c"/><stop offset="0.12" stop-color="#fdcf6e"/><stop offset="0.155" stop-color="#fed06f"/><stop offset="0.2" stop-color="#fed170"/><stop offset="0.25" stop-color="#fed271"/><stop offset="0.31" stop-color="#fed271"/><stop offset="0.375" stop-color="#fed271"/><stop offset="0.45" stop-color="#fed270"/><stop offset="0.55" stop-color="#fed170"/><stop offset="0.675" stop-color="#fed16f"/><stop offset="0.825" stop-color="#fed16f"/><stop offset="1" stop-color="#fed16f"/></linearGradient>
<linearGradient id="tm8" x1="0" y1="0" x2="0" y2="1"><stop offset="0" stop-color="#fdc765"/><stop offset="0.0075" stop-color="#fdc866"/><stop offset="0.0175" stop-color="#fdc866"/><stop offset="0.03" stop-color="#fdc967"/><stop offset="0.045" stop-color="#fdca68"/><stop offset="0.065" stop-color="#fdcb69"/><stop offset="0.09" stop-color="#fdcc6a"/><stop offset="0.12" stop-color="#fdcd6c"/><stop offset="0.155" stop-color="#fdcf6d"/><stop offset="0.2" stop-color="#fed06f"/><stop offset="0.25" stop-color="#fed170"/><stop offset="0.31" stop-color="#fed270"/><stop offset="0.375" stop-color="#fed271"/><stop offset="0.45" stop-color="#fed270"/><stop offset="0.55" stop-color="#fed170"/><stop offset="0.675" stop-color="#fed170"/><stop offset="0.825" stop-color="#fed16f"/><stop offset="1" stop-color="#fed16f"/></linearGradient>
<linearGradient id="tm9" x1="0" y1="0" x2="0" y2="1"><stop offset="0" stop-color="#fdc765"/><stop offset="0.0075" stop-color="#fdc765"/><stop offset="0.0175" stop-color="#fdc765"/><stop offset="0.03" stop-color="#fdc866"/><stop offset="0.045" stop-color="#fdc867"/><stop offset="0.065" stop-color="#fdc968"/><stop offset="0.09" stop-color="#fdcb69"/><stop offset="0.12" stop-color="#fdcc6a"/><stop offset="0.155" stop-color="#fdcd6c"/><stop offset="0.2" stop-color="#fdcf6d"/><stop offset="0.25" stop-color="#fed06f"/><stop offset="0.31" stop-color="#fed170"/><stop offset="0.375" stop-color="#fed270"/><stop offset="0.45" stop-color="#fed270"/><stop offset="0.55" stop-color="#fed170"/><stop offset="0.675" stop-color="#fed170"/><stop offset="0.825" stop-color="#fed16f"/><stop offset="1" stop-color="#fed16f"/></linearGradient>
<linearGradient id="tm10" x1="0" y1="0" x2="0" y2="1"><stop offset="0" stop-color="#fdc765"/><stop offset="0.0075" stop-color="#fdc765"/><stop offset="0.0175" stop-color="#fdc765"/><stop offset="0.03" stop-color="#fdc866"/><stop offset="0.045" stop-color="#fdc866"/><stop offset="0.065" stop-color="#fdc967"/><stop offset="0.09" stop-color="#fdca68"/><stop offset="0.12" stop-color="#fdcb69"/><stop offset="0.155" stop-color="#fdcc6a"/><stop offset="0.2" stop-color="#fdce6c"/><stop offset="0.25" stop-color="#fdcf6d"/><stop offset="0.31" stop-color="#fed06f"/><stop offset="0.375" stop-color="#fed170"/><stop offset="0.45" stop-color="#fed170"/><stop offset="0.55" stop-color="#fed170"/><stop offset="0.675" stop-color="#fed170"/><stop offset="0.825" stop-color="#fed170"/><stop offset="1" stop-color="#fed16f"/></linearGradient>
<linearGradient id="tm11" x1="0" y1="0" x2="0" y2="1"><stop offset="0" stop-color="#fdc866"/><stop offset="0.0075" stop-color="#fdc866"/><stop offset="0.0175" stop-color="#fdc866"/><stop offset="0.03" stop-color="#fdc866"/><stop offset="0.045" stop-color="#fdc967"/><stop offset="0.065" stop-color="#fdc967"/><stop offset="0.09" stop-color="#fdca68"/><stop offset="0.12" stop-color="#fdca69"/><stop offset="0.155" stop-color="#fdcb6a"/><stop offset="0.2" stop-color="#fdcd6b"/><stop offset="0.25" stop-color="#fdce6c"/><stop offset="0.31" stop-color="#fdcf6e"/><stop offset="0.375" stop-color="#fed06f"/><stop offset="0.45" stop-color="#fed170"/><stop offset="0.55" stop-color="#fed170"/><stop offset="0.675" stop-color="#fed170"/><stop offset="0.825" stop-color="#fed170"/><stop offset="1" stop-color="#fed16f"/></linearGradient>
<linearGradient id="tm12" x1="0" y1="0" x2="0" y2="1"><stop offset="0" stop-color="#fdca68"/><stop offset="0.0075" stop-color="#fdca68"/><stop offset="0.0175" stop-color="#fdca68"/><stop offset="0.03" stop-color="#fdca68"/><stop offset="0.045" stop-color="#fdca68"/><stop offset="0.065" stop-color="#fdca68"/><stop offset="0.09" stop-color="#fdca69"/><stop offset="0.12" stop-color="#fdcb69"/><stop offset="0.155" stop-color="#fdcb6a"/><stop offset="0.2" stop-color="#fdcc6b"/><stop offset="0.25" stop-color="#fdcd6c"/><stop offset="0.31" stop-color="#fdcf6d"/><stop offset="0.375" stop-color="#fed06e"/><stop offset="0.45" stop-color="#fed16f"/><stop offset="0.55" stop-color="#fed170"/><stop offset="0.675" stop-color="#fed170"/><stop offset="0.825" stop-color="#fed170"/><stop offset="1" stop-color="#fed16f"/></linearGradient>
<linearGradient id="tm13" x1="0" y1="0" x2="0" y2="1"><stop offset="0" stop-color="#fdcc6b"/><stop offset="0.0075" stop-color="#fdcc6a"/><stop offset="0.0175" stop-color="#fdcc6a"/><stop offset="0.03" stop-color="#fdcc6a"/><stop offset="0.045" stop-color="#fdcc6a"/><stop offset="0.065" stop-color="#fdcc6a"/><stop offset="0.09" stop-color="#fdcc6a"/><stop offset="0.12" stop-color="#fdcc6a"/><stop offset="0.155" stop-color="#fdcc6a"/><stop offset="0.2" stop-color="#fdcd6b"/><stop offset="0.25" stop-color="#fdcd6c"/><stop offset="0.31" stop-color="#fdce6d"/><stop offset="0.375" stop-color="#fdcf6e"/><stop offset="0.45" stop-color="#fed06f"/><stop offset="0.55" stop-color="#fed16f"/><stop offset="0.675" stop-color="#fed170"/><stop offset="0.825" stop-color="#fed170"/><stop offset="1" stop-color="#fed16f"/></linearGradient>
<linearGradient id="tm14" x1="0" y1="0" x2="0" y2="1"><stop offset="0" stop-color="#fdcf6d"/><stop offset="0.0075" stop-color="#fdcf6d"/><stop offset="0.0175" stop-color="#fdce6d"/><stop offset="0.03" stop-color="#fdce6d"/><stop offset="0.045" stop-color="#fdce6d"/><stop offset="0.065" stop-color="#fdce6c"/><stop offset="0.09" stop-color="#fdce6c"/><stop offset="0.12" stop-color="#fdcd6c"/><stop offset="0.155" stop-color="#fdcd6c"/><stop offset="0.2" stop-color="#fdcd6c"/><stop offset="0.25" stop-color="#fdce6c"/><stop offset="0.31" stop-color="#fdce6d"/><stop offset="0.375" stop-color="#fdcf6d"/><stop offset="0.45" stop-color="#fed06e"/><stop offset="0.55" stop-color="#fed16f"/><stop offset="0.675" stop-color="#fed170"/><stop offset="0.825" stop-color="#fed170"/><stop offset="1" stop-color="#fed170"/></linearGradient>
<linearGradient id="tm15" x1="0" y1="0" x2="0" y2="1"><stop offset="0" stop-color="#fed16f"/><stop offset="0.0075" stop-color="#fed16f"/><stop offset="0.0175" stop-color="#fed16f"/><stop offset="0.03" stop-color="#fed16f"/><stop offset="0.045" stop-color="#fed06f"/><stop offset="0.065" stop-color="#fed06e"/><stop offset="0.09" stop-color="#fed06e"/><stop offset="0.12" stop-color="#fdcf6e"/><stop offset="0.155" stop-color="#fdcf6d"/><stop offset="0.2" stop-color="#fdce6d"/><stop offset="0.25" stop-color="#fdce6d"/><stop offset="0.31" stop-color="#fdce6d"/><stop offset="0.375" stop-color="#fdcf6d"/><stop offset="0.45" stop-color="#fed06e"/><stop offset="0.55" stop-color="#fed06f"/><stop offset="0.675" stop-color="#fed16f"/><stop offset="0.825" stop-color="#fed170"/><stop offset="1" stop-color="#fed170"/></linearGradient>
<g id="Tm0"><rect x="0" width="2.46" height="188.6" fill="url(#tm0)"/><rect x="1.17" width="2.46" height="188.6" fill="url(#tm1)"/><rect x="2.33" width="2.46" height="188.6" fill="url(#tm2)"/><rect x="3.5" width="2.46" height="188.6" fill="url(#tm3)"/><rect x="4.66" width="2.46" height="188.6" fill="url(#tm4)"/><rect x="5.83" width="2.46" height="188.6" fill="url(#tm5)"/><rect x="6.99" width="2.46" height="188.6" fill="url(#tm6)"/><rect x="8.16" width="2.46" height="188.6" fill="url(#tm7)"/><rect x="9.32" width="2.46" height="188.6" fill="url(#tm8)"/><rect x="10.48" width="2.46" height="188.6" fill="url(#tm9)"/><rect x="11.65" width="2.46" height="188.6" fill="url(#tm10)"/><rect x="12.82" width="2.46" height="188.6" fill="url(#tm11)"/><rect x="13.98" width="2.46" height="188.6" fill="url(#tm12)"/><rect x="15.14" width="2.46" height="188.6" fill="url(#tm13)"/><rect x="16.31" width="2.46" height="188.6" fill="url(#tm14)"/><rect x="17.48" width="2.46" height="188.6" fill="url(#tm15)"/></g>
<g id="Tm2"><rect x="0" width="2.46" height="225.6" fill="url(#tm0)"/><rect x="1.17" width="2.46" height="225.6" fill="url(#tm1)"/><rect x="2.33" width="2.46" height="225.6" fill="url(#tm2)"/><rect x="3.5" width="2.46" height="225.6" fill="url(#tm3)"/><rect x="4.66" width="2.46" height="225.6" fill="url(#tm4)"/><rect x="5.83" width="2.46" height="225.6" fill="url(#tm5)"/><rect x="6.99" width="2.46" height="225.6" fill="url(#tm6)"/><rect x="8.16" width="2.46" height="225.6" fill="url(#tm7)"/><rect x="9.32" width="2.46" height="225.6" fill="url(#tm8)"/><rect x="10.48" width="2.46" height="225.6" fill="url(#tm9)"/><rect x="11.65" width="2.46" height="225.6" fill="url(#tm10)"/><rect x="12.82" width="2.46" height="225.6" fill="url(#tm11)"/><rect x="13.98" width="2.46" height="225.6" fill="url(#tm12)"/><rect x="15.14" width="2.46" height="225.6" fill="url(#tm13)"/><rect x="16.31" width="2.46" height="225.6" fill="url(#tm14)"/><rect x="17.48" width="2.46" height="225.6" fill="url(#tm15)"/></g>
<linearGradient id="c0_0" x1="0" y1="0" x2="0" y2="1"><stop offset="0" stop-color="#f8f6fd"/><stop offset="0.05" stop-color="#fef9f7"/><stop offset="0.1" stop-color="#fef0eb"/><stop offset="0.15" stop-color="#fdece5"/><stop offset="0.225" stop-color="#fdebe5"/><stop offset="0.3" stop-color="#fef0eb"/><stop offset="0.4" stop-color="#fef5f2"/><stop offset="0.525" stop-color="#fef7f4"/><stop offset="0.7" stop-color="#fef5f1"/><stop offset="1" stop-color="#fef5f1"/></linearGradient>
<linearGradient id="c0_1" x1="0" y1="0" x2="0" y2="1"><stop offset="0" stop-color="#eee7fa"/><stop offset="0.05" stop-color="#f8f5fd"/><stop offset="0.1" stop-color="#fffcfb"/><stop offset="0.15" stop-color="#fef4f1"/><stop offset="0.225" stop-color="#fdeee9"/><stop offset="0.3" stop-color="#fdeee9"/><stop offset="0.4" stop-color="#fef2ee"/><stop offset="0.525" stop-color="#fef6f3"/><stop offset="0.7" stop-color="#fef5f2"/><stop offset="1" stop-color="#fef4f1"/></linearGradient>
<linearGradient id="c0_2" x1="0" y1="0" x2="0" y2="1"><stop offset="0" stop-color="#f5f1fc"/><stop offset="0.05" stop-color="#f4f0fc"/><stop offset="0.1" stop-color="#f9f7fd"/><stop offset="0.15" stop-color="#fffdfd"/><stop offset="0.225" stop-color="#fef5f2"/><stop offset="0.3" stop-color="#fef0eb"/><stop offset="0.4" stop-color="#fef0ec"/><stop offset="0.525" stop-color="#fef4f1"/><stop offset="0.7" stop-color="#fef6f3"/><stop offset="1" stop-color="#fef4f1"/></linearGradient>
<linearGradient id="c0_3" x1="0" y1="0" x2="0" y2="1"><stop offset="0" stop-color="#fef6f4"/><stop offset="0.05" stop-color="#fffeff"/><stop offset="0.1" stop-color="#fbf9fe"/><stop offset="0.15" stop-color="#fcfbfe"/><stop offset="0.225" stop-color="#fffbfa"/><stop offset="0.3" stop-color="#fef5f2"/><stop offset="0.4" stop-color="#fef1ed"/><stop offset="0.525" stop-color="#fef3ef"/><stop offset="0.7" stop-color="#fef5f2"/><stop offset="1" stop-color="#fef4f1"/></linearGradient>
<linearGradient id="c0_4" x1="0" y1="0" x2="0" y2="1"><stop offset="0" stop-color="#fce5dc"/><stop offset="0.05" stop-color="#fef0ec"/><stop offset="0.1" stop-color="#fef9f7"/><stop offset="0.15" stop-color="#fffefd"/><stop offset="0.225" stop-color="#fffefd"/><stop offset="0.3" stop-color="#fef9f8"/><stop offset="0.4" stop-color="#fef4f0"/><stop offset="0.525" stop-color="#fef2ee"/><stop offset="0.7" stop-color="#fef5f1"/><stop offset="1" stop-color="#fef5f1"/></linearGradient>
<linearGradient id="c0_5" x1="0" y1="0" x2="0" y2="1"><stop offset="0" stop-color="#fbdbd0"/><stop offset="0.05" stop-color="#fce4db"/><stop offset="0.1" stop-color="#fdede7"/><stop offset="0.15" stop-color="#fef5f1"/><stop offset="0.225" stop-color="#fffbf9"/><stop offset="0.3" stop-color="#fffbfa"/><stop offset="0.4" stop-color="#fef7f4"/><stop offset="0.525" stop-color="#fef3ef"/><stop offset="0.7" stop-color="#fef4f0"/><stop offset="1" stop-color="#fef5f1"/></linearGradient>
<linearGradient id="c0_6" x1="0" y1="0" x2="0" y2="1"><stop offset="0" stop-color="#fce2d8"/><stop offset="0.05" stop-color="#fce1d8"/><stop offset="0.1" stop-color="#fde5dd"/><stop offset="0.15" stop-color="#fdece5"/><stop offset="0.225" stop-color="#fef4f1"/><stop offset="0.3" stop-color="#fef9f7"/><stop offset="0.4" stop-color="#fef9f7"/><stop offset="0.525" stop-color="#fef5f2"/><stop offset="0.7" stop-color="#fef3f0"/><stop offset="1" stop-color="#fef5f2"/></linearGradient>
<linearGradient id="c0_7" x1="0" y1="0" x2="0" y2="1"><stop offset="0" stop-color="#fef3ef"/><stop offset="0.05" stop-color="#fdeae3"/><stop offset="0.1" stop-color="#fde7df"/><stop offset="0.15" stop-color="#fde8e0"/><stop offset="0.225" stop-color="#fdeee8"/><stop offset="0.3" stop-color="#fef4f1"/><stop offset="0.4" stop-color="#fef8f6"/><stop offset="0.525" stop-color="#fef6f4"/><stop offset="0.7" stop-color="#fef4f0"/><stop offset="1" stop-color="#fef5f1"/></linearGradient>
<g id="C0"><rect x="0" width="3.63" height="188.6" fill="url(#c0_0)"/><rect x="2.33" width="3.63" height="188.6" fill="url(#c0_1)"/><rect x="4.66" width="3.63" height="188.6" fill="url(#c0_2)"/><rect x="6.99" width="3.63" height="188.6" fill="url(#c0_3)"/><rect x="9.32" width="3.63" height="188.6" fill="url(#c0_4)"/><rect x="11.65" width="3.63" height="188.6" fill="url(#c0_5)"/><rect x="13.98" width="3.63" height="188.6" fill="url(#c0_6)"/><rect x="16.31" width="3.63" height="188.6" fill="url(#c0_7)"/></g>
<linearGradient id="c1_0" x1="0" y1="0" x2="0" y2="1"><stop offset="0" stop-color="#f7f4fd"/><stop offset="0.05" stop-color="#fef9f7"/><stop offset="0.1" stop-color="#fef0eb"/><stop offset="0.15" stop-color="#fdebe5"/><stop offset="0.225" stop-color="#fdebe5"/><stop offset="0.3" stop-color="#fdefea"/><stop offset="0.4" stop-color="#fef5f2"/><stop offset="0.525" stop-color="#fef7f4"/><stop offset="0.7" stop-color="#fef5f1"/><stop offset="1" stop-color="#fef5f1"/></linearGradient>
<linearGradient id="c1_1" x1="0" y1="0" x2="0" y2="1"><stop offset="0" stop-color="#ece5f9"/><stop offset="0.05" stop-color="#f7f3fc"/><stop offset="0.1" stop-color="#fffcfc"/><stop offset="0.15" stop-color="#fef4f1"/><stop offset="0.225" stop-color="#fdeee9"/><stop offset="0.3" stop-color="#fdeee8"/><stop offset="0.4" stop-color="#fef2ee"/><stop offset="0.525" stop-color="#fef6f3"/><stop offset="0.7" stop-color="#fef5f2"/><stop offset="1" stop-color="#fef4f1"/></linearGradient>
<linearGradient id="c1_2" x1="0" y1="0" x2="0" y2="1"><stop offset="0" stop-color="#f4f0fb"/><stop offset="0.05" stop-color="#f3effb"/><stop offset="0.1" stop-color="#f8f6fd"/><stop offset="0.15" stop-color="#fffefd"/><stop offset="0.225" stop-color="#fef5f2"/><stop offset="0.3" stop-color="#fef0eb"/><stop offset="0.4" stop-color="#fef0eb"/><stop offset="0.525" stop-color="#fef4f1"/><stop offset="0.7" stop-color="#fef6f3"/><stop offset="1" stop-color="#fef4f1"/></linearGradient>
<linearGradient id="c1_3" x1="0" y1="0" x2="0" y2="1"><stop offset="0" stop-color="#fef7f4"/><stop offset="0.05" stop-color="#fefeff"/><stop offset="0.1" stop-color="#faf8fd"/><stop offset="0.15" stop-color="#fcfafe"/><stop offset="0.225" stop-color="#fffbfa"/><stop offset="0.3" stop-color="#fef5f2"/><stop offset="0.4" stop-color="#fef1ed"/><stop offset="0.525" stop-color="#fef2ee"/><stop offset="0.7" stop-color="#fef5f2"/><stop offset="1" stop-color="#fef4f1"/></linearGradient>
<linearGradient id="c1_4" x1="0" y1="0" x2="0" y2="1"><stop offset="0" stop-color="#fce4db"/><stop offset="0.05" stop-color="#fef0ec"/><stop offset="0.1" stop-color="#fef9f8"/><stop offset="0.15" stop-color="#fffefe"/><stop offset="0.225" stop-color="#fffefe"/><stop offset="0.3" stop-color="#fefaf8"/><stop offset="0.4" stop-color="#fef4f0"/><stop offset="0.525" stop-color="#fef2ee"/><stop offset="0.7" stop-color="#fef5f1"/><stop offset="1" stop-color="#fef5f1"/></linearGradient>
<linearGradient id="c1_5" x1="0" y1="0" x2="0" y2="1"><stop offset="0" stop-color="#fbdace"/><stop offset="0.05" stop-color="#fce3da"/><stop offset="0.1" stop-color="#fdede7"/><stop offset="0.15" stop-color="#fef5f1"/><stop offset="0.225" stop-color="#fffbfa"/><stop offset="0.3" stop-color="#fffbfa"/><stop offset="0.4" stop-color="#fef7f5"/><stop offset="0.525" stop-color="#fef3ef"/><stop offset="0.7" stop-color="#fef4f0"/><stop offset="1" stop-color="#fef5f1"/></linearGradient>
<linearGradient id="c1_6" x1="0" y1="0" x2="0" y2="1"><stop offset="0" stop-color="#fce1d7"/><stop offset="0.05" stop-color="#fce0d6"/><stop offset="0.1" stop-color="#fce5dc"/><stop offset="0.15" stop-color="#fdebe5"/><stop offset="0.225" stop-color="#fef4f1"/><stop offset="0.3" stop-color="#fef9f7"/><stop offset="0.4" stop-color="#fef9f7"/><stop offset="0.525" stop-color="#fef5f2"/><stop offset="0.7" stop-color="#fef3f0"/><stop offset="1" stop-color="#fef5f2"/></linearGradient>
<linearGradient id="c1_7" x1="0" y1="0" x2="0" y2="1"><stop offset="0" stop-color="#fef3ee"/><stop offset="0.05" stop-color="#fde9e2"/><stop offset="0.1" stop-color="#fde6de"/><stop offset="0.15" stop-color="#fde7e0"/><stop offset="0.225" stop-color="#fdeee8"/><stop offset="0.3" stop-color="#fef4f1"/><stop offset="0.4" stop-color="#fef8f6"/><stop offset="0.525" stop-color="#fef7f4"/><stop offset="0.7" stop-color="#fef4f0"/><stop offset="1" stop-color="#fef5f1"/></linearGradient>
<g id="C1"><rect x="0" width="3.63" height="188.6" fill="url(#c1_0)"/><rect x="2.33" width="3.63" height="188.6" fill="url(#c1_1)"/><rect x="4.66" width="3.63" height="188.6" fill="url(#c1_2)"/><rect x="6.99" width="3.63" height="188.6" fill="url(#c1_3)"/><rect x="9.32" width="3.63" height="188.6" fill="url(#c1_4)"/><rect x="11.65" width="3.63" height="188.6" fill="url(#c1_5)"/><rect x="13.98" width="3.63" height="188.6" fill="url(#c1_6)"/><rect x="16.31" width="3.63" height="188.6" fill="url(#c1_7)"/></g>
<linearGradient id="c2_0" x1="0" y1="0" x2="0" y2="1"><stop offset="0" stop-color="#9373e1"/><stop offset="0.05" stop-color="#c9b7ee"/><stop offset="0.1" stop-color="#fefdff"/><stop offset="0.15" stop-color="#fce1d8"/><stop offset="0.225" stop-color="#f8ccbd"/><stop offset="0.3" stop-color="#fad8cc"/><stop offset="0.4" stop-color="#fef7f5"/><stop offset="0.525" stop-color="#ece5f9"/><stop offset="0.7" stop-color="#f7f4fd"/><stop offset="1" stop-color="#fffdfc"/></linearGradient>
<linearGradient id="c2_1" x1="0" y1="0" x2="0" y2="1"><stop offset="0" stop-color="#7f5adc"/><stop offset="0.05" stop-color="#9575e1"/><stop offset="0.1" stop-color="#b9a3ea"/><stop offset="0.15" stop-color="#e5dbf7"/><stop offset="0.225" stop-color="#fdebe5"/><stop offset="0.3" stop-color="#fbdacf"/><stop offset="0.4" stop-color="#fde6de"/><stop offset="0.525" stop-color="#fcfafe"/><stop offset="0.7" stop-color="#f1ecfb"/><stop offset="1" stop-color="#fffcfb"/></linearGradient>
<linearGradient id="c2_2" x1="0" y1="0" x2="0" y2="1"><stop offset="0" stop-color="#b198e7"/><stop offset="0.05" stop-color="#9c7ee3"/><stop offset="0.1" stop-color="#a083e4"/><stop offset="0.15" stop-color="#b59de9"/><stop offset="0.225" stop-color="#e6ddf7"/><stop offset="0.3" stop-color="#fef2ee"/><stop offset="0.4" stop-color="#fce4db"/><stop offset="0.525" stop-color="#fef4f0"/><stop offset="0.7" stop-color="#f3effb"/><stop offset="1" stop-color="#fffdfc"/></linearGradient>
<linearGradient id="c2_3" x1="0" y1="0" x2="0" y2="1"><stop offset="0" stop-color="#fdede7"/><stop offset="0.05" stop-color="#dccff4"/><stop offset="0.1" stop-color="#baa4ea"/><stop offset="0.15" stop-color="#b098e7"/><stop offset="0.225" stop-color="#c3afed"/><stop offset="0.3" stop-color="#e8e0f8"/><stop offset="0.4" stop-color="#fef2ed"/><stop offset="0.525" stop-color="#fdede7"/><stop offset="0.7" stop-color="#fbfafe"/><stop offset="1" stop-color="#fefdff"/></linearGradient>
<linearGradient id="c2_4" x1="0" y1="0" x2="0" y2="1"><stop offset="0" stop-color="#f69c82"/><stop offset="0.05" stop-color="#f9d2c4"/><stop offset="0.1" stop-color="#ffffff"/><stop offset="0.15" stop-color="#d9cbf3"/><stop offset="0.225" stop-color="#c3afed"/><stop offset="0.3" stop-color="#cfbef0"/><stop offset="0.4" stop-color="#f4f0fc"/><stop offset="0.525" stop-color="#fef1ec"/><stop offset="0.7" stop-color="#fefaf8"/><stop offset="1" stop-color="#fbf9fe"/></linearGradient>
<linearGradient id="c2_5" x1="0" y1="0" x2="0" y2="1"><stop offset="0" stop-color="#f68868"/><stop offset="0.05" stop-color="#f69e83"/><stop offset="0.1" stop-color="#f6c2b1"/><stop offset="0.15" stop-color="#fdebe4"/><stop offset="0.225" stop-color="#e5dcf7"/><stop offset="0.3" stop-color="#d1c1f1"/><stop offset="0.4" stop-color="#dfd3f5"/><stop offset="0.525" stop-color="#fffdfd"/><stop offset="0.7" stop-color="#fef5f2"/><stop offset="1" stop-color="#f9f7fd"/></linearGradient>
<linearGradient id="c2_6" x1="0" y1="0" x2="0" y2="1"><stop offset="0" stop-color="#f5baa7"/><stop offset="0.05" stop-color="#f5a58c"/><stop offset="0.1" stop-color="#f5a991"/><stop offset="0.15" stop-color="#f6beac"/><stop offset="0.225" stop-color="#fdece6"/><stop offset="0.3" stop-color="#eee8fa"/><stop offset="0.4" stop-color="#dccff4"/><stop offset="0.525" stop-color="#f0eafa"/><stop offset="0.7" stop-color="#fef7f4"/><stop offset="1" stop-color="#fbfafe"/></linearGradient>
<linearGradient id="c2_7" x1="0" y1="0" x2="0" y2="1"><stop offset="0" stop-color="#e7def7"/><stop offset="0.05" stop-color="#fce4db"/><stop offset="0.1" stop-color="#f7c3b2"/><stop offset="0.15" stop-color="#f5baa6"/><stop offset="0.225" stop-color="#f8ccbd"/><stop offset="0.3" stop-color="#fdeee8"/><stop offset="0.4" stop-color="#ede7f9"/><stop offset="0.525" stop-color="#e7def7"/><stop offset="0.7" stop-color="#fffdfd"/><stop offset="1" stop-color="#fffeff"/></linearGradient>
<g id="C2"><rect x="0" width="3.63" height="188.6" fill="url(#c2_0)"/><rect x="2.33" width="3.63" height="188.6" fill="url(#c2_1)"/><rect x="4.66" width="3.63" height="188.6" fill="url(#c2_2)"/><rect x="6.99" width="3.63" height="188.6" fill="url(#c2_3)"/><rect x="9.32" width="3.63" height="188.6" fill="url(#c2_4)"/><rect x="11.65" width="3.63" height="188.6" fill="url(#c2_5)"/><rect x="13.98" width="3.63" height="188.6" fill="url(#c2_6)"/><rect x="16.31" width="3.63" height="188.6" fill="url(#c2_7)"/></g>
<linearGradient id="c3_0" x1="0" y1="0" x2="0" y2="1"><stop offset="0" stop-color="#e3d9f6"/><stop offset="0.05" stop-color="#fefdff"/><stop offset="0.1" stop-color="#fef2ed"/><stop offset="0.15" stop-color="#fdebe5"/><stop offset="0.225" stop-color="#fdede7"/><stop offset="0.3" stop-color="#fef5f2"/><stop offset="0.4" stop-color="#ffffff"/><stop offset="0.525" stop-color="#fcfbfe"/><stop offset="0.7" stop-color="#fffdfc"/><stop offset="1" stop-color="#fffdfd"/></linearGradient>
<linearGradient id="c3_1" x1="0" y1="0" x2="0" y2="1"><stop offset="0" stop-color="#ccbbef"/><stop offset="0.05" stop-color="#e0d5f5"/><stop offset="0.1" stop-color="#f5f1fc"/><stop offset="0.15" stop-color="#fffaf9"/><stop offset="0.225" stop-color="#fef1ec"/><stop offset="0.3" stop-color="#fef2ed"/><stop offset="0.4" stop-color="#fefaf8"/><stop offset="0.525" stop-color="#fefdff"/><stop offset="0.7" stop-color="#fffefe"/><stop offset="1" stop-color="#fffdfc"/></linearGradient>
<linearGradient id="c3_2" x1="0" y1="0" x2="0" y2="1"><stop offset="0" stop-color="#d4c5f2"/><stop offset="0.05" stop-color="#d6c7f2"/><stop offset="0.1" stop-color="#e1d7f6"/><stop offset="0.15" stop-color="#f0ebfa"/><stop offset="0.225" stop-color="#fffcfa"/><stop offset="0.3" stop-color="#fef4f1"/><stop offset="0.4" stop-color="#fef6f3"/><stop offset="0.525" stop-color="#fffdfc"/><stop offset="0.7" stop-color="#ffffff"/><stop offset="1" stop-color="#fffdfc"/></linearGradient>
<linearGradient id="c3_3" x1="0" y1="0" x2="0" y2="1"><stop offset="0" stop-color="#f6f3fc"/><stop offset="0.05" stop-color="#e5dcf7"/><stop offset="0.1" stop-color="#e1d6f5"/><stop offset="0.15" stop-color="#e6dcf7"/><stop offset="0.225" stop-color="#f5f1fc"/><stop offset="0.3" stop-color="#fffcfc"/><stop offset="0.4" stop-color="#fef7f4"/><stop offset="0.525" stop-color="#fffaf8"/><stop offset="0.7" stop-color="#ffffff"/><stop offset="1" stop-color="#fffdfc"/></linearGradient>
<linearGradient id="c3_4" x1="0" y1="0" x2="0" y2="1"><stop offset="0" stop-color="#fce5dc"/><stop offset="0.05" stop-color="#fffaf9"/><stop offset="0.1" stop-color="#f3effb"/><stop offset="0.15" stop-color="#ebe4f9"/><stop offset="0.225" stop-color="#ede7f9"/><stop offset="0.3" stop-color="#f8f5fd"/><stop offset="0.4" stop-color="#fffbfa"/><stop offset="0.525" stop-color="#fef9f7"/><stop offset="0.7" stop-color="#fffdfd"/><stop offset="1" stop-color="#fffdfd"/></linearGradient>
<linearGradient id="c3_5" x1="0" y1="0" x2="0" y2="1"><stop offset="0" stop-color="#f9cfc1"/><stop offset="0.05" stop-color="#fce2d9"/><stop offset="0.1" stop-color="#fef3ef"/><stop offset="0.15" stop-color="#fefdff"/><stop offset="0.225" stop-color="#f2edfb"/><stop offset="0.3" stop-color="#f3effb"/><stop offset="0.4" stop-color="#fdfcfe"/><stop offset="0.525" stop-color="#fffaf9"/><stop offset="0.7" stop-color="#fffcfb"/><stop offset="1" stop-color="#fffefd"/></linearGradient>
<linearGradient id="c3_6" x1="0" y1="0" x2="0" y2="1"><stop offset="0" stop-color="#fad7ca"/><stop offset="0.05" stop-color="#fbd9cd"/><stop offset="0.1" stop-color="#fce3da"/><stop offset="0.15" stop-color="#fdefea"/><stop offset="0.225" stop-color="#ffffff"/><stop offset="0.3" stop-color="#f7f3fc"/><stop offset="0.4" stop-color="#f8f6fd"/><stop offset="0.525" stop-color="#fffdfd"/><stop offset="0.7" stop-color="#fffbfa"/><stop offset="1" stop-color="#fffefd"/></linearGradient>
<linearGradient id="c3_7" x1="0" y1="0" x2="0" y2="1"><stop offset="0" stop-color="#fef4f1"/><stop offset="0.05" stop-color="#fde6de"/><stop offset="0.1" stop-color="#fce3da"/><stop offset="0.15" stop-color="#fde7df"/><stop offset="0.225" stop-color="#fef3ef"/><stop offset="0.3" stop-color="#fffefe"/><stop offset="0.4" stop-color="#f9f7fd"/><stop offset="0.525" stop-color="#fdfdfe"/><stop offset="0.7" stop-color="#fffcfa"/><stop offset="1" stop-color="#fffefd"/></linearGradient>
<g id="C3"><rect x="0" width="3.63" height="188.6" fill="url(#c3_0)"/><rect x="2.33" width="3.63" height="188.6" fill="url(#c3_1)"/><rect x="4.66" width="3.63" height="188.6" fill="url(#c3_2)"/><rect x="6.99" width="3.63" height="188.6" fill="url(#c3_3)"/><rect x="9.32" width="3.63" height="188.6" fill="url(#c3_4)"/><rect x="11.65" width="3.63" height="188.6" fill="url(#c3_5)"/><rect x="13.98" width="3.63" height="188.6" fill="url(#c3_6)"/><rect x="16.31" width="3.63" height="188.6" fill="url(#c3_7)"/></g>
<linearGradient id="c4_0" x1="0" y1="0" x2="0" y2="1"><stop offset="0" stop-color="#e5dcf7"/><stop offset="0.05" stop-color="#fefeff"/><stop offset="0.1" stop-color="#fef2ee"/><stop offset="0.15" stop-color="#fdece6"/><stop offset="0.225" stop-color="#fdeee8"/><stop offset="0.3" stop-color="#fef6f3"/><stop offset="0.4" stop-color="#ffffff"/><stop offset="0.525" stop-color="#fcfbfe"/><stop offset="0.7" stop-color="#fffdfc"/><stop offset="1" stop-color="#fffdfd"/></linearGradient>
<linearGradient id="c4_1" x1="0" y1="0" x2="0" y2="1"><stop offset="0" stop-color="#cfbef0"/><stop offset="0.05" stop-color="#e2d7f6"/><stop offset="0.1" stop-color="#f5f2fc"/><stop offset="0.15" stop-color="#fffaf9"/><stop offset="0.225" stop-color="#fef1ed"/><stop offset="0.3" stop-color="#fef2ee"/><stop offset="0.4" stop-color="#fefaf8"/><stop offset="0.525" stop-color="#fefdff"/><stop offset="0.7" stop-color="#fffefe"/><stop offset="1" stop-color="#fffdfc"/></linearGradient>
<linearGradient id="c4_2" x1="0" y1="0" x2="0" y2="1"><stop offset="0" stop-color="#d6c8f2"/><stop offset="0.05" stop-color="#d8caf3"/><stop offset="0.1" stop-color="#e3d9f6"/><stop offset="0.15" stop-color="#f1ecfb"/><stop offset="0.225" stop-color="#fffcfb"/><stop offset="0.3" stop-color="#fef5f2"/><stop offset="0.4" stop-color="#fef6f4"/><stop offset="0.525" stop-color="#fffdfc"/><stop offset="0.7" stop-color="#ffffff"/><stop offset="1" stop-color="#fffdfc"/></linearGradient>
<linearGradient id="c4_3" x1="0" y1="0" x2="0" y2="1"><stop offset="0" stop-color="#f7f4fc"/><stop offset="0.05" stop-color="#e7def7"/><stop offset="0.1" stop-color="#e3d8f6"/><stop offset="0.15" stop-color="#e7def7"/><stop offset="0.225" stop-color="#f5f2fc"/><stop offset="0.3" stop-color="#fffcfc"/><stop offset="0.4" stop-color="#fef7f4"/><stop offset="0.525" stop-color="#fffaf9"/><stop offset="0.7" stop-color="#ffffff"/><stop offset="1" stop-color="#fffdfc"/></linearGradient>
<linearGradient id="c4_4" x1="0" y1="0" x2="0" y2="1"><stop offset="0" stop-color="#fde6de"/><stop offset="0.05" stop-color="#fffaf9"/><stop offset="0.1" stop-color="#f4f0fb"/><stop offset="0.15" stop-color="#ece5f9"/><stop offset="0.225" stop-color="#eee8fa"/><stop offset="0.3" stop-color="#f8f6fd"/><stop offset="0.4" stop-color="#fffbfa"/><stop offset="0.525" stop-color="#fef9f7"/><stop offset="0.7" stop-color="#fffdfd"/><stop offset="1" stop-color="#fffdfd"/></linearGradient>
<linearGradient id="c4_5" x1="0" y1="0" x2="0" y2="1"><stop offset="0" stop-color="#f9d2c4"/><stop offset="0.05" stop-color="#fce4db"/><stop offset="0.1" stop-color="#fef4f0"/><stop offset="0.15" stop-color="#fefdff"/><stop offset="0.225" stop-color="#f3eefb"/><stop offset="0.3" stop-color="#f4f0fb"/><stop offset="0.4" stop-color="#fdfcfe"/><stop offset="0.525" stop-color="#fffaf9"/><stop offset="0.7" stop-color="#fffcfb"/><stop offset="1" stop-color="#fffefd"/></linearGradient>
<linearGradient id="c4_6" x1="0" y1="0" x2="0" y2="1"><stop offset="0" stop-color="#fbd9cd"/><stop offset="0.05" stop-color="#fbdbd0"/><stop offset="0.1" stop-color="#fce5dc"/><stop offset="0.15" stop-color="#fef0eb"/><stop offset="0.225" stop-color="#ffffff"/><stop offset="0.3" stop-color="#f7f4fd"/><stop offset="0.4" stop-color="#f9f7fd"/><stop offset="0.525" stop-color="#fffdfd"/><stop offset="0.7" stop-color="#fffbfa"/><stop offset="1" stop-color="#fffefd"/></linearGradient>
<linearGradient id="c4_7" x1="0" y1="0" x2="0" y2="1"><stop offset="0" stop-color="#fef5f1"/><stop offset="0.05" stop-color="#fde7e0"/><stop offset="0.1" stop-color="#fce4db"/><stop offset="0.15" stop-color="#fde8e0"/><stop offset="0.225" stop-color="#fef3f0"/><stop offset="0.3" stop-color="#fffefd"/><stop offset="0.4" stop-color="#faf8fd"/><stop offset="0.525" stop-color="#fefdff"/><stop offset="0.7" stop-color="#fffcfb"/><stop offset="1" stop-color="#fffdfd"/></linearGradient>
<g id="C4"><rect x="0" width="3.63" height="188.6" fill="url(#c4_0)"/><rect x="2.33" width="3.63" height="188.6" fill="url(#c4_1)"/><rect x="4.66" width="3.63" height="188.6" fill="url(#c4_2)"/><rect x="6.99" width="3.63" height="188.6" fill="url(#c4_3)"/><rect x="9.32" width="3.63" height="188.6" fill="url(#c4_4)"/><rect x="11.65" width="3.63" height="188.6" fill="url(#c4_5)"/><rect x="13.98" width="3.63" height="188.6" fill="url(#c4_6)"/><rect x="16.31" width="3.63" height="188.6" fill="url(#c4_7)"/></g>
<linearGradient id="c5_0" x1="0" y1="0" x2="0" y2="1"><stop offset="0" stop-color="#ded2f5"/><stop offset="0.05" stop-color="#f8f6fd"/><stop offset="0.1" stop-color="#fef5f2"/><stop offset="0.15" stop-color="#fdede7"/><stop offset="0.225" stop-color="#fdede7"/><stop offset="0.3" stop-color="#fef4f1"/><stop offset="0.4" stop-color="#fffefe"/><stop offset="0.525" stop-color="#fcfbfe"/><stop offset="0.7" stop-color="#fffdfd"/><stop offset="1" stop-color="#fffdfc"/></linearGradient>
<linearGradient id="c5_1" x1="0" y1="0" x2="0" y2="1"><stop offset="0" stop-color="#cbb9ef"/><stop offset="0.05" stop-color="#ddd0f4"/><stop offset="0.1" stop-color="#f1ecfb"/><stop offset="0.15" stop-color="#fffdfc"/><stop offset="0.225" stop-color="#fef2ee"/><stop offset="0.3" stop-color="#fef2ed"/><stop offset="0.4" stop-color="#fef9f7"/><stop offset="0.525" stop-color="#fefeff"/><stop offset="0.7" stop-color="#fffffe"/><stop offset="1" stop-color="#fffdfc"/></linearGradient>
<linearGradient id="c5_2" x1="0" y1="0" x2="0" y2="1"><stop offset="0" stop-color="#d8caf3"/><stop offset="0.05" stop-color="#d7c8f2"/><stop offset="0.1" stop-color="#e0d4f5"/><stop offset="0.15" stop-color="#eee7fa"/><stop offset="0.225" stop-color="#fffefd"/><stop offset="0.3" stop-color="#fef5f2"/><stop offset="0.4" stop-color="#fef6f3"/><stop offset="0.525" stop-color="#fffcfc"/><stop offset="0.7" stop-color="#ffffff"/><stop offset="1" stop-color="#fffdfc"/></linearGradient>
<linearGradient id="c5_3" x1="0" y1="0" x2="0" y2="1"><stop offset="0" stop-color="#fdfcfe"/><stop offset="0.05" stop-color="#e9e2f8"/><stop offset="0.1" stop-color="#e3d8f6"/><stop offset="0.15" stop-color="#e5dcf7"/><stop offset="0.225" stop-color="#f3eefb"/><stop offset="0.3" stop-color="#fffefe"/><stop offset="0.4" stop-color="#fef7f5"/><stop offset="0.525" stop-color="#fefaf8"/><stop offset="0.7" stop-color="#fffffe"/><stop offset="1" stop-color="#fffdfc"/></linearGradient>
<linearGradient id="c5_4" x1="0" y1="0" x2="0" y2="1"><stop offset="0" stop-color="#fce0d7"/><stop offset="0.05" stop-color="#fef6f3"/><stop offset="0.1" stop-color="#f7f4fd"/><stop offset="0.15" stop-color="#ede7f9"/><stop offset="0.225" stop-color="#ede7f9"/><stop offset="0.3" stop-color="#f7f3fc"/><stop offset="0.4" stop-color="#fffcfb"/><stop offset="0.525" stop-color="#fef9f7"/><stop offset="0.7" stop-color="#fffdfd"/><stop offset="1" stop-color="#fffdfd"/></linearGradient>
<linearGradient id="c5_5" x1="0" y1="0" x2="0" y2="1"><stop offset="0" stop-color="#f9cec0"/><stop offset="0.05" stop-color="#fcdfd5"/><stop offset="0.1" stop-color="#fef0eb"/><stop offset="0.15" stop-color="#fffdfd"/><stop offset="0.225" stop-color="#f4effb"/><stop offset="0.3" stop-color="#f3effb"/><stop offset="0.4" stop-color="#fcfbfe"/><stop offset="0.525" stop-color="#fffbf9"/><stop offset="0.7" stop-color="#fffcfb"/><stop offset="1" stop-color="#fffefd"/></linearGradient>
<linearGradient id="c5_6" x1="0" y1="0" x2="0" y2="1"><stop offset="0" stop-color="#fbdbcf"/><stop offset="0.05" stop-color="#fbd9ce"/><stop offset="0.1" stop-color="#fce2d9"/><stop offset="0.15" stop-color="#fdede7"/><stop offset="0.225" stop-color="#fffdfc"/><stop offset="0.3" stop-color="#f8f5fd"/><stop offset="0.4" stop-color="#f8f6fd"/><stop offset="0.525" stop-color="#fffefe"/><stop offset="0.7" stop-color="#fffbfa"/><stop offset="1" stop-color="#fffefd"/></linearGradient>
<linearGradient id="c5_7" x1="0" y1="0" x2="0" y2="1"><stop offset="0" stop-color="#fefaf8"/><stop offset="0.05" stop-color="#fdeae3"/><stop offset="0.1" stop-color="#fce4db"/><stop offset="0.15" stop-color="#fde6de"/><stop offset="0.225" stop-color="#fef1ed"/><stop offset="0.3" stop-color="#fffcfc"/><stop offset="0.4" stop-color="#faf8fd"/><stop offset="0.525" stop-color="#fdfcfe"/><stop offset="0.7" stop-color="#fffcfb"/><stop offset="1" stop-color="#fffdfd"/></linearGradient>
<g id="C5"><rect x="0" width="3.63" height="188.6" fill="url(#c5_0)"/><rect x="2.33" width="3.63" height="188.6" fill="url(#c5_1)"/><rect x="4.66" width="3.63" height="188.6" fill="url(#c5_2)"/><rect x="6.99" width="3.63" height="188.6" fill="url(#c5_3)"/><rect x="9.32" width="3.63" height="188.6" fill="url(#c5_4)"/><rect x="11.65" width="3.63" height="188.6" fill="url(#c5_5)"/><rect x="13.98" width="3.63" height="188.6" fill="url(#c5_6)"/><rect x="16.31" width="3.63" height="188.6" fill="url(#c5_7)"/></g>
<linearGradient id="c6_0" x1="0" y1="0" x2="0" y2="1"><stop offset="0" stop-color="#fef5f1"/><stop offset="0.05" stop-color="#fdeae3"/><stop offset="0.1" stop-color="#fde8e1"/><stop offset="0.15" stop-color="#fdece6"/><stop offset="0.225" stop-color="#fef6f3"/><stop offset="0.3" stop-color="#fffefe"/><stop offset="0.4" stop-color="#fcfbfe"/><stop offset="0.525" stop-color="#ffffff"/><stop offset="0.7" stop-color="#fffcfb"/><stop offset="1" stop-color="#fffdfd"/></linearGradient>
<linearGradient id="c6_1" x1="0" y1="0" x2="0" y2="1"><stop offset="0" stop-color="#eae2f8"/><stop offset="0.05" stop-color="#fffffe"/><stop offset="0.1" stop-color="#fef3f0"/><stop offset="0.15" stop-color="#fdefea"/><stop offset="0.225" stop-color="#fef1ed"/><stop offset="0.3" stop-color="#fef8f6"/><stop offset="0.4" stop-color="#ffffff"/><stop offset="0.525" stop-color="#fefeff"/><stop offset="0.7" stop-color="#fffdfc"/><stop offset="1" stop-color="#fffdfd"/></linearGradient>
<linearGradient id="c6_2" x1="0" y1="0" x2="0" y2="1"><stop offset="0" stop-color="#d5c6f2"/><stop offset="0.05" stop-color="#e7def7"/><stop offset="0.1" stop-color="#f8f6fd"/><stop offset="0.15" stop-color="#fffaf9"/><stop offset="0.225" stop-color="#fef4f0"/><stop offset="0.3" stop-color="#fef5f2"/><stop offset="0.4" stop-color="#fffbfa"/><stop offset="0.525" stop-color="#ffffff"/><stop offset="0.7" stop-color="#fffefd"/><stop offset="1" stop-color="#fffdfc"/></linearGradient>
<linearGradient id="c6_3" x1="0" y1="0" x2="0" y2="1"><stop offset="0" stop-color="#dbcdf4"/><stop offset="0.05" stop-color="#ded2f5"/><stop offset="0.1" stop-color="#e9e0f8"/><stop offset="0.15" stop-color="#f5f1fc"/><stop offset="0.225" stop-color="#fffcfb"/><stop offset="0.3" stop-color="#fef7f4"/><stop offset="0.4" stop-color="#fef8f6"/><stop offset="0.525" stop-color="#fffdfd"/><stop offset="0.7" stop-color="#fffefe"/><stop offset="1" stop-color="#fffdfc"/></linearGradient>
<linearGradient id="c6_4" x1="0" y1="0" x2="0" y2="1"><stop offset="0" stop-color="#f7f4fc"/><stop offset="0.05" stop-color="#eae2f8"/><stop offset="0.1" stop-color="#e7dff8"/><stop offset="0.15" stop-color="#ece5f9"/><stop offset="0.225" stop-color="#f8f6fd"/><stop offset="0.3" stop-color="#fffcfc"/><stop offset="0.4" stop-color="#fef9f7"/><stop offset="0.525" stop-color="#fffbfa"/><stop offset="0.7" stop-color="#fffefe"/><stop offset="1" stop-color="#fffdfc"/></linearGradient>
<linearGradient id="c6_5" x1="0" y1="0" x2="0" y2="1"><stop offset="0" stop-color="#fdeae3"/><stop offset="0.05" stop-color="#fffcfb"/><stop offset="0.1" stop-color="#f5f2fc"/><stop offset="0.15" stop-color="#f0eafa"/><stop offset="0.225" stop-color="#f3eefb"/><stop offset="0.3" stop-color="#fbf9fe"/><stop offset="0.4" stop-color="#fffcfb"/><stop offset="0.525" stop-color="#fffaf9"/><stop offset="0.7" stop-color="#fffdfd"/><stop offset="1" stop-color="#fffdfd"/></linearGradient>
<linearGradient id="c6_6" x1="0" y1="0" x2="0" y2="1"><stop offset="0" stop-color="#fad8cc"/><stop offset="0.05" stop-color="#fde8e0"/><stop offset="0.1" stop-color="#fef6f3"/><stop offset="0.15" stop-color="#fefdff"/><stop offset="0.225" stop-color="#f6f2fc"/><stop offset="0.3" stop-color="#f7f4fd"/><stop offset="0.4" stop-color="#fefeff"/><stop offset="0.525" stop-color="#fffbfa"/><stop offset="0.7" stop-color="#fffdfc"/><stop offset="1" stop-color="#fffdfd"/></linearGradient>
<linearGradient id="c6_7" x1="0" y1="0" x2="0" y2="1"><stop offset="0" stop-color="#fbddd3"/><stop offset="0.05" stop-color="#fce0d7"/><stop offset="0.1" stop-color="#fde9e2"/><stop offset="0.15" stop-color="#fef3ef"/><stop offset="0.225" stop-color="#ffffff"/><stop offset="0.3" stop-color="#f9f7fd"/><stop offset="0.4" stop-color="#fbfafe"/><stop offset="0.525" stop-color="#fffdfd"/><stop offset="0.7" stop-color="#fffcfb"/><stop offset="1" stop-color="#fffdfd"/></linearGradient>
<g id="C6"><rect x="0" width="3.63" height="225.6" fill="url(#c6_0)"/><rect x="2.33" width="3.63" height="225.6" fill="url(#c6_1)"/><rect x="4.66" width="3.63" height="225.6" fill="url(#c6_2)"/><rect x="6.99" width="3.63" height="225.6" fill="url(#c6_3)"/><rect x="9.32" width="3.63" height="225.6" fill="url(#c6_4)"/><rect x="11.65" width="3.63" height="225.6" fill="url(#c6_5)"/><rect x="13.98" width="3.63" height="225.6" fill="url(#c6_6)"/><rect x="16.31" width="3.63" height="225.6" fill="url(#c6_7)"/></g>
<linearGradient id="c7_0" x1="0" y1="0" x2="0" y2="1"><stop offset="0" stop-color="#f9f6fd"/><stop offset="0.05" stop-color="#fef9f8"/><stop offset="0.1" stop-color="#fef5f2"/><stop offset="0.15" stop-color="#fef5f2"/><stop offset="0.225" stop-color="#fffbf9"/><stop offset="0.3" stop-color="#fdfcfe"/><stop offset="0.4" stop-color="#f8f6fd"/><stop offset="0.525" stop-color="#f9f7fd"/><stop offset="0.7" stop-color="#fcfbfe"/><stop offset="1" stop-color="#fbfafe"/></linearGradient>
<linearGradient id="c7_1" x1="0" y1="0" x2="0" y2="1"><stop offset="0" stop-color="#e2d7f6"/><stop offset="0.05" stop-color="#f2edfb"/><stop offset="0.1" stop-color="#fefeff"/><stop offset="0.15" stop-color="#fffaf9"/><stop offset="0.225" stop-color="#fef9f8"/><stop offset="0.3" stop-color="#fffdfc"/><stop offset="0.4" stop-color="#fbfafe"/><stop offset="0.525" stop-color="#f9f7fd"/><stop offset="0.7" stop-color="#fbfafe"/><stop offset="1" stop-color="#fbfafe"/></linearGradient>
<linearGradient id="c7_2" x1="0" y1="0" x2="0" y2="1"><stop offset="0" stop-color="#dacdf3"/><stop offset="0.05" stop-color="#e4daf6"/><stop offset="0.1" stop-color="#efe9fa"/><stop offset="0.15" stop-color="#f9f7fd"/><stop offset="0.225" stop-color="#fffdfc"/><stop offset="0.3" stop-color="#fffcfb"/><stop offset="0.4" stop-color="#fefeff"/><stop offset="0.525" stop-color="#faf8fd"/><stop offset="0.7" stop-color="#faf9fe"/><stop offset="1" stop-color="#fbfafe"/></linearGradient>
<linearGradient id="c7_3" x1="0" y1="0" x2="0" y2="1"><stop offset="0" stop-color="#e6dcf7"/><stop offset="0.05" stop-color="#e3d9f6"/><stop offset="0.1" stop-color="#e7dff8"/><stop offset="0.15" stop-color="#efe9fa"/><stop offset="0.225" stop-color="#f9f7fd"/><stop offset="0.3" stop-color="#ffffff"/><stop offset="0.4" stop-color="#fffefe"/><stop offset="0.525" stop-color="#fcfbfe"/><stop offset="0.7" stop-color="#faf8fd"/><stop offset="1" stop-color="#fbfafe"/></linearGradient>
<linearGradient id="c7_4" x1="0" y1="0" x2="0" y2="1"><stop offset="0" stop-color="#fefdff"/><stop offset="0.05" stop-color="#f1ebfa"/><stop offset="0.1" stop-color="#ebe4f9"/><stop offset="0.15" stop-color="#ece5f9"/><stop offset="0.225" stop-color="#f2eefb"/><stop offset="0.3" stop-color="#faf8fd"/><stop offset="0.4" stop-color="#fefeff"/><stop offset="0.525" stop-color="#fdfdfe"/><stop offset="0.7" stop-color="#fbf9fe"/><stop offset="1" stop-color="#fbfafe"/></linearGradient>
<linearGradient id="c7_5" x1="0" y1="0" x2="0" y2="1"><stop offset="0" stop-color="#fdede8"/><stop offset="0.05" stop-color="#fffbf9"/><stop offset="0.1" stop-color="#f9f6fd"/><stop offset="0.15" stop-color="#f2edfb"/><stop offset="0.225" stop-color="#f1ebfa"/><stop offset="0.3" stop-color="#f5f1fc"/><stop offset="0.4" stop-color="#fbfafe"/><stop offset="0.525" stop-color="#fefdff"/><stop offset="0.7" stop-color="#fbfafe"/><stop offset="1" stop-color="#fbfafe"/></linearGradient>
<linearGradient id="c7_6" x1="0" y1="0" x2="0" y2="1"><stop offset="0" stop-color="#fde7df"/><stop offset="0.05" stop-color="#fdefea"/><stop offset="0.1" stop-color="#fef8f6"/><stop offset="0.15" stop-color="#fefdff"/><stop offset="0.225" stop-color="#f5f2fc"/><stop offset="0.3" stop-color="#f4f0fc"/><stop offset="0.4" stop-color="#f8f5fd"/><stop offset="0.525" stop-color="#fcfbfe"/><stop offset="0.7" stop-color="#fcfbfe"/><stop offset="1" stop-color="#fbfafe"/></linearGradient>
<linearGradient id="c7_7" x1="0" y1="0" x2="0" y2="1"><stop offset="0" stop-color="#fef0ec"/><stop offset="0.05" stop-color="#fdeee9"/><stop offset="0.1" stop-color="#fef2ee"/><stop offset="0.15" stop-color="#fef8f5"/><stop offset="0.225" stop-color="#fdfdfe"/><stop offset="0.3" stop-color="#f7f4fd"/><stop offset="0.4" stop-color="#f7f4fc"/><stop offset="0.525" stop-color="#faf9fe"/><stop offset="0.7" stop-color="#fcfbfe"/><stop offset="1" stop-color="#fbfafe"/></linearGradient>
<g id="C7"><rect x="0" width="3.63" height="225.6" fill="url(#c7_0)"/><rect x="2.33" width="3.63" height="225.6" fill="url(#c7_1)"/><rect x="4.66" width="3.63" height="225.6" fill="url(#c7_2)"/><rect x="6.99" width="3.63" height="225.6" fill="url(#c7_3)"/><rect x="9.32" width="3.63" height="225.6" fill="url(#c7_4)"/><rect x="11.65" width="3.63" height="225.6" fill="url(#c7_5)"/><rect x="13.98" width="3.63" height="225.6" fill="url(#c7_6)"/><rect x="16.31" width="3.63" height="225.6" fill="url(#c7_7)"/></g>
<linearGradient id="c8_0" x1="0" y1="0" x2="0" y2="1"><stop offset="0" stop-color="#fffefe"/><stop offset="0.05" stop-color="#fef6f3"/><stop offset="0.1" stop-color="#fef0eb"/><stop offset="0.15" stop-color="#fdede7"/><stop offset="0.225" stop-color="#fdece6"/><stop offset="0.3" stop-color="#fdefea"/><stop offset="0.4" stop-color="#fef4f0"/><stop offset="0.525" stop-color="#fef5f2"/><stop offset="0.7" stop-color="#fef3f0"/><stop offset="1" stop-color="#fef3ef"/></linearGradient>
<linearGradient id="c8_1" x1="0" y1="0" x2="0" y2="1"><stop offset="0" stop-color="#f8f6fd"/><stop offset="0.05" stop-color="#ffffff"/><stop offset="0.1" stop-color="#fef9f7"/><stop offset="0.15" stop-color="#fef3ef"/><stop offset="0.225" stop-color="#fdefe9"/><stop offset="0.3" stop-color="#fdeee9"/><stop offset="0.4" stop-color="#fef1ed"/><stop offset="0.525" stop-color="#fef5f1"/><stop offset="0.7" stop-color="#fef4f1"/><stop offset="1" stop-color="#fef3ef"/></linearGradient>
<linearGradient id="c8_2" x1="0" y1="0" x2="0" y2="1"><stop offset="0" stop-color="#fdfdfe"/><stop offset="0.05" stop-color="#fcfbfe"/><stop offset="0.1" stop-color="#fffefe"/><stop offset="0.15" stop-color="#fffaf8"/><stop offset="0.225" stop-color="#fef4f0"/><stop offset="0.3" stop-color="#fef0eb"/><stop offset="0.4" stop-color="#fef0eb"/><stop offset="0.525" stop-color="#fef3ef"/><stop offset="0.7" stop-color="#fef4f1"/><stop offset="1" stop-color="#fef3ef"/></linearGradient>
<linearGradient id="c8_3" x1="0" y1="0" x2="0" y2="1"><stop offset="0" stop-color="#fef5f1"/><stop offset="0.05" stop-color="#fffbfa"/><stop offset="0.1" stop-color="#fffdfd"/><stop offset="0.15" stop-color="#fffdfc"/><stop offset="0.225" stop-color="#fef8f6"/><stop offset="0.3" stop-color="#fef4f0"/><stop offset="0.4" stop-color="#fef1ec"/><stop offset="0.525" stop-color="#fef2ed"/><stop offset="0.7" stop-color="#fef4f1"/><stop offset="1" stop-color="#fef3ef"/></linearGradient>
<linearGradient id="c8_4" x1="0" y1="0" x2="0" y2="1"><stop offset="0" stop-color="#fde8e1"/><stop offset="0.05" stop-color="#fef0ec"/><stop offset="0.1" stop-color="#fef7f4"/><stop offset="0.15" stop-color="#fffaf8"/><stop offset="0.225" stop-color="#fffaf9"/><stop offset="0.3" stop-color="#fef7f5"/><stop offset="0.4" stop-color="#fef3ef"/><stop offset="0.525" stop-color="#fef1ed"/><stop offset="0.7" stop-color="#fef3f0"/><stop offset="1" stop-color="#fef3f0"/></linearGradient>
<linearGradient id="c8_5" x1="0" y1="0" x2="0" y2="1"><stop offset="0" stop-color="#fce2d9"/><stop offset="0.05" stop-color="#fde8e0"/><stop offset="0.1" stop-color="#fdeee8"/><stop offset="0.15" stop-color="#fef3f0"/><stop offset="0.225" stop-color="#fef8f6"/><stop offset="0.3" stop-color="#fef8f6"/><stop offset="0.4" stop-color="#fef5f2"/><stop offset="0.525" stop-color="#fef2ee"/><stop offset="0.7" stop-color="#fef3ef"/><stop offset="1" stop-color="#fef4f0"/></linearGradient>
<linearGradient id="c8_6" x1="0" y1="0" x2="0" y2="1"><stop offset="0" stop-color="#fde6de"/><stop offset="0.05" stop-color="#fde6dd"/><stop offset="0.1" stop-color="#fde8e1"/><stop offset="0.15" stop-color="#fdede7"/><stop offset="0.225" stop-color="#fef3ef"/><stop offset="0.3" stop-color="#fef7f4"/><stop offset="0.4" stop-color="#fef7f4"/><stop offset="0.525" stop-color="#fef4f0"/><stop offset="0.7" stop-color="#fef2ee"/><stop offset="1" stop-color="#fef4f0"/></linearGradient>
<linearGradient id="c8_7" x1="0" y1="0" x2="0" y2="1"><stop offset="0" stop-color="#fef2ee"/><stop offset="0.05" stop-color="#fdece5"/><stop offset="0.1" stop-color="#fde9e2"/><stop offset="0.15" stop-color="#fdeae3"/><stop offset="0.225" stop-color="#fdeee9"/><stop offset="0.3" stop-color="#fef3ef"/><stop offset="0.4" stop-color="#fef6f3"/><stop offset="0.525" stop-color="#fef5f2"/><stop offset="0.7" stop-color="#fef3ef"/><stop offset="1" stop-color="#fef4f0"/></linearGradient>
<g id="C8"><rect x="0" width="3.63" height="225.6" fill="url(#c8_0)"/><rect x="2.33" width="3.63" height="225.6" fill="url(#c8_1)"/><rect x="4.66" width="3.63" height="225.6" fill="url(#c8_2)"/><rect x="6.99" width="3.63" height="225.6" fill="url(#c8_3)"/><rect x="9.32" width="3.63" height="225.6" fill="url(#c8_4)"/><rect x="11.65" width="3.63" height="225.6" fill="url(#c8_5)"/><rect x="13.98" width="3.63" height="225.6" fill="url(#c8_6)"/><rect x="16.31" width="3.63" height="225.6" fill="url(#c8_7)"/></g>
<clipPath id="cw0"><path d="M7.9 13.4L16.8 13.4L16.8 16.1L25.8 16.1L25.8 18.7L34.7 18.7L34.7 21.4L43.6 21.4L43.6 24L52.5 24L52.5 26.7L61.5 26.7L61.5 29.3L70.4 29.3L70.4 32L79.3 32L79.3 34.6L88.3 34.6L88.3 37.3L97.2 37.3L97.2 39.9L106.1 39.9L106.1 42.6L115 42.6L115 45.2L124 45.2L124 47.9L132.9 47.9L132.9 50.5L141.8 50.5L141.8 53.2L150.8 53.2L150.8 55.8L159.7 55.8L159.7 58.5L168.6 58.5L168.6 61.1L177.5 61.1L177.5 63.8L186.5 63.8L186.5 66.4L195.4 66.4L195.4 134.3L186.5 134.3L186.5 131.7L177.5 131.7L177.5 129L168.6 129L168.6 126.4L159.7 126.4L159.7 123.8L150.8 123.8L150.8 121.1L141.8 121.1L141.8 118.5L132.9 118.5L132.9 115.9L124 115.9L124 113.2L115 113.2L115 110.6L106.1 110.6L106.1 107.9L97.2 107.9L97.2 105.3L88.3 105.3L88.3 102.7L79.3 102.7L79.3 100L70.4 100L70.4 97.4L61.5 97.4L61.5 94.8L52.5 94.8L52.5 92.1L43.6 92.1L43.6 89.5L34.7 89.5L34.7 86.9L25.8 86.9L25.8 84.2L16.8 84.2L16.8 81.6L7.9 81.6Z"/></clipPath>
<clipPath id="cw2"><path d="M7.9 15.3L16.8 15.3L16.8 18.5L25.8 18.5L25.8 21.7L34.7 21.7L34.7 24.8L43.6 24.8L43.6 28L52.5 28L52.5 31.2L61.5 31.2L61.5 34.3L70.4 34.3L70.4 37.5L79.3 37.5L79.3 40.7L88.3 40.7L88.3 43.8L97.2 43.8L97.2 47L106.1 47L106.1 50.2L115 50.2L115 53.4L124 53.4L124 56.5L132.9 56.5L132.9 59.7L141.8 59.7L141.8 62.9L150.8 62.9L150.8 66L159.7 66L159.7 69.2L168.6 69.2L168.6 72.4L177.5 72.4L177.5 75.5L186.5 75.5L186.5 78.7L195.4 78.7L195.4 159.9L186.5 159.9L186.5 156.8L177.5 156.8L177.5 153.6L168.6 153.6L168.6 150.5L159.7 150.5L159.7 147.3L150.8 147.3L150.8 144.2L141.8 144.2L141.8 141L132.9 141L132.9 137.9L124 137.9L124 134.7L115 134.7L115 131.6L106.1 131.6L106.1 128.4L97.2 128.4L97.2 125.2L88.3 125.2L88.3 122.1L79.3 122.1L79.3 118.9L70.4 118.9L70.4 115.8L61.5 115.8L61.5 112.6L52.5 112.6L52.5 109.5L43.6 109.5L43.6 106.3L34.7 106.3L34.7 103.2L25.8 103.2L25.8 100L16.8 100L16.8 96.9L7.9 96.9Z"/></clipPath>
<filter id="bl3" filterUnits="userSpaceOnUse" x="-60" y="-60" width="410" height="360"><feGaussianBlur stdDeviation="4"/></filter>
<filter id="bl9" filterUnits="userSpaceOnUse" x="-60" y="-60" width="410" height="360"><feGaussianBlur stdDeviation="11"/></filter>
<filter id="bl0" filterUnits="userSpaceOnUse" x="-60" y="-60" width="410" height="360"><feGaussianBlur stdDeviation="0.7"/></filter>
<filter id="bl6" filterUnits="userSpaceOnUse" x="-60" y="-60" width="410" height="360"><feGaussianBlur stdDeviation="6.5"/></filter>
<filter id="bl1" filterUnits="userSpaceOnUse" x="-60" y="-60" width="410" height="360"><feGaussianBlur stdDeviation="1.2"/></filter>
<linearGradient id="ab0" gradientUnits="userSpaceOnUse" x1="0" y1="3.7" x2="0" y2="192.3"><stop offset="0" stop-color="#f5fbc6"/><stop offset="0.125" stop-color="#e6f5bf"/><stop offset="0.25" stop-color="#cfebb6"/><stop offset="0.375" stop-color="#bbe4b6"/><stop offset="0.5" stop-color="#a7deb8"/><stop offset="0.625" stop-color="#96d6b9"/><stop offset="0.75" stop-color="#87d0ba"/><stop offset="0.875" stop-color="#7acbbc"/><stop offset="1" stop-color="#6fc6be"/></linearGradient>
<path id="ar0" d="M-38.2 57.1L6.8 62.5L8.8 63L10.8 63.5L12.8 63.2L14.7 63.3L16.7 65.6L18.7 67L20.7 66.9L22.7 67.2L24.7 67.8L26.7 68.6L28.6 69.2L30.6 68.9L32.6 68.6L34.6 69.1L36.6 70.8L38.6 71.6L40.6 72.3L42.5 72.6L44.5 72.5L46.5 72.8L48.5 72.7L50.5 73L52.5 73.3L54.5 73.6L56.4 72.8L58.4 72.2L60.4 73.4L62.4 75.2L64.4 78.8L66.4 80L68.4 79.7L70.3 79.7L72.3 80.1L74.3 79.5L76.3 79.4L78.3 80.6L80.3 81.8L82.2 82L84.2 81.6L86.2 81.5L88.2 82.6L90.2 83.5L92.2 84.8L94.2 85.4L96.1 85.8L98.1 86.4L100.1 86.3L102.1 86.2L104.1 86.1L106.1 87.4L108.1 88.2L110 88.1L112 87.2L114 86.7L116 87.1L118 87.8L120 88.3L122 88.6L123.9 89.4L125.9 90.3L127.9 90.5L129.9 90.4L131.9 91.1L133.9 91.8L135.9 91.8L137.8 94.9L139.8 96.2L141.8 96.8L143.8 97.6L145.8 98L147.8 97.4L149.8 96.7L151.7 96.7L153.7 97.1L155.7 98.2L157.7 98.9L159.7 98.6L161.7 97.3L163.7 98.5L165.6 99.7L167.6 99.8L169.6 99.4L171.6 99.2L173.6 100.8L175.6 101.8L177.6 102.5L179.5 102.5L181.5 102L183.5 101.6L185.5 102.5L187.5 103.6L189.5 103.2L191.5 104.7L193.4 105.9L195.4 107.2L197.4 107.5L199.4 106.6L201.4 106.3L203.4 107.2L205.4 107.3L207.3 107.8L209.3 107.9L211.3 107.9L213.3 109.6L215.3 111.2L217.3 112L219.2 112.6L221.2 112.4L223.2 112L225.2 111.8L227.2 112.1L229.2 112L231.2 112.5L233.1 113L235.1 115.7L237.1 117.3L239.1 117.4L241.1 117.2L243.1 116.8L245.1 116.5L247 116.6L249 116.6L251 116.8L253 117L255 117.8L257 118.7L259 119L260.9 119.6L262.9 119.9L264.9 120.1L266.9 120.2L268.9 120.3L270.9 120.2L272.9 120.3L274.8 120.7L276.8 121.6L278.8 121.9L280.8 122.2L325.8 133.2"/>
<linearGradient id="an0" gradientUnits="userSpaceOnUse" x1="0" y1="3.7" x2="0" y2="192.3"><stop offset="0" stop-color="#f7fcc8" stop-opacity="0.0"/><stop offset="0.15" stop-color="#eef8c2" stop-opacity="0.3"/><stop offset="0.4" stop-color="#d9f0b9" stop-opacity="0.45"/><stop offset="0.65" stop-color="#c2e7b6" stop-opacity="0.4"/><stop offset="1" stop-color="#b0e0b7" stop-opacity="0.3"/></linearGradient>
<linearGradient id="ab1" gradientUnits="userSpaceOnUse" x1="0" y1="3.7" x2="0" y2="192.3"><stop offset="0" stop-color="#d8efb8"/><stop offset="0.25" stop-color="#bfe6b6"/><stop offset="0.375" stop-color="#b0e0b7"/><stop offset="0.5" stop-color="#a0dbb8"/><stop offset="0.625" stop-color="#92d5b9"/><stop offset="0.75" stop-color="#85cfba"/><stop offset="0.875" stop-color="#79cabc"/><stop offset="1" stop-color="#6fc6be"/></linearGradient>
<path id="ar1" d="M-38.2 53.3L6.8 60.6L8.8 61.2L10.8 61.8L12.8 61.6L14.7 61.7L16.7 64.6L18.7 66.2L20.7 66.1L22.7 66.6L24.7 67.4L26.7 68.2L28.6 69L30.6 68.7L32.6 68.5L34.6 69.2L36.6 71.5L38.6 72.5L40.6 73.1L42.5 73.5L44.5 73.4L46.5 73.7L48.5 73.7L50.5 74L52.5 74.4L54.5 74.7L56.4 74L58.4 73.4L60.4 74.9L62.4 77L64.4 81.3L66.4 83L68.4 82.7L70.3 82.8L72.3 83.2L74.3 82.6L76.3 82.6L78.3 83.8L80.3 85L82.2 85.4L84.2 85.1L86.2 85.1L88.2 86.2L90.2 87.1L92.2 89L94.2 89.7L96.1 90.3L98.1 91L100.1 91L102.1 90.9L104.1 90.9L106.1 92.4L108.1 93.3L110 93.2L112 92.3L114 91.8L116 92.4L118 93.1L120 93.6L122 93.9L123.9 94.9L125.9 96L127.9 96.3L129.9 96.2L131.9 97.1L133.9 97.9L135.9 97.9L137.8 101.9L139.8 103.7L141.8 104.2L143.8 105.1L145.8 105.5L147.8 104.9L149.8 104.2L151.7 104.3L153.7 104.7L155.7 105.8L157.7 106.6L159.7 106.4L161.7 105.1L163.7 106.5L165.6 107.8L167.6 108L169.6 107.6L171.6 107.4L173.6 109.1L175.6 110.2L177.6 111L179.5 111.2L181.5 110.8L183.5 110.4L185.5 111.5L187.5 112.8L189.5 112.4L191.5 114.3L193.4 115.7L195.4 116.9L197.4 117.4L199.4 116.5L201.4 116.2L203.4 117.1L205.4 117.2L207.3 117.9L209.3 118.2L211.3 118.2L213.3 120.3L215.3 122.1L217.3 122.9L219.2 123.6L221.2 123.4L223.2 122.9L225.2 122.9L227.2 123.3L229.2 123.2L231.2 124L233.1 124.5L235.1 127.5L237.1 129.4L239.1 129.5L241.1 129.2L243.1 128.9L245.1 128.6L247 128.7L249 128.7L251 129.2L253 129.5L255 130.4L257 131.4L259 131.7L260.9 132.3L262.9 132.6L264.9 132.9L266.9 133L268.9 133.1L270.9 133.2L272.9 133.4L274.8 133.8L276.8 134.8L278.8 135.1L280.8 135.4L325.8 147.1"/>
<linearGradient id="an1" gradientUnits="userSpaceOnUse" x1="0" y1="3.7" x2="0" y2="192.3"><stop offset="0" stop-color="#f4fac5"/><stop offset="0.15" stop-color="#e6f5be"/><stop offset="0.25" stop-color="#dbf1ba"/><stop offset="0.375" stop-color="#d3edb7"/><stop offset="0.5" stop-color="#cbeab5"/><stop offset="0.675" stop-color="#c2e7b5"/><stop offset="1" stop-color="#b5e2b6"/></linearGradient>
<linearGradient id="ab2" gradientUnits="userSpaceOnUse" x1="0" y1="3.7" x2="0" y2="192.3"><stop offset="0" stop-color="#cfebb6"/><stop offset="0.25" stop-color="#b0e0b7"/><stop offset="0.375" stop-color="#99d8b9"/><stop offset="0.5" stop-color="#85cfba"/><stop offset="0.625" stop-color="#78cabc"/><stop offset="0.75" stop-color="#72c7bd"/><stop offset="1" stop-color="#6ac3be"/></linearGradient>
<path id="ar2" d="M-38.2 54.6L6.8 59.7L8.8 60.2L10.8 60.7L12.8 60.3L14.7 60.4L16.7 62.7L18.7 63.9L20.7 63.8L22.7 64.1L24.7 64.7L26.7 65.4L28.6 66.1L30.6 65.7L32.6 65.5L34.6 65.9L36.6 67.5L38.6 68.3L40.6 68.9L42.5 69.3L44.5 69.2L46.5 69.4L48.5 69.4L50.5 69.6L52.5 69.9L54.5 70.2L56.4 69.4L58.4 68.8L60.4 69.9L62.4 71.7L64.4 75.1L66.4 76.3L68.4 76L70.3 76L72.3 76.4L74.3 75.8L76.3 75.7L78.3 76.8L80.3 78L82.2 78.2L84.2 77.7L86.2 77.7L88.2 78.8L90.2 79.6L92.2 80.9L94.2 81.4L96.1 81.8L98.1 82.4L100.1 82.3L102.1 82.2L104.1 82.1L106.1 83.4L108.1 84.1L110 84L112 83.1L114 82.6L116 83L118 83.7L120 84.1L122 84.4L123.9 85.2L125.9 86L127.9 86.3L129.9 86.1L131.9 86.8L133.9 87.5L135.9 87.5L137.8 90.5L139.8 91.7L141.8 92.2L143.8 93.1L145.8 93.4L147.8 92.8L149.8 92.1L151.7 92.2L153.7 92.5L155.7 93.6L157.7 94.3L159.7 94L161.7 92.6L163.7 93.8L165.6 95L167.6 95.1L169.6 94.7L171.6 94.5L173.6 96L175.6 97.1L177.6 97.8L179.5 97.7L181.5 97.2L183.5 96.8L185.5 97.6L187.5 98.7L189.5 98.3L191.5 99.7L193.4 100.9L195.4 102.2L197.4 102.5L199.4 101.5L201.4 101.3L203.4 102.1L205.4 102.3L207.3 102.7L209.3 102.8L211.3 102.8L213.3 104.4L215.3 106L217.3 106.7L219.2 107.4L221.2 107.2L223.2 106.7L225.2 106.6L227.2 106.8L229.2 106.7L231.2 107.2L233.1 107.7L235.1 110.3L237.1 111.9L239.1 112L241.1 111.7L243.1 111.4L245.1 111L247 111.1L249 111.1L251 111.3L253 111.4L255 112.2L257 113.2L259 113.5L260.9 114L262.9 114.3L264.9 114.6L266.9 114.7L268.9 114.7L270.9 114.5L272.9 114.6L274.8 115.1L276.8 116L278.8 116.2L280.8 116.5L325.8 127.4"/>
<linearGradient id="an2" gradientUnits="userSpaceOnUse" x1="0" y1="3.7" x2="0" y2="192.3"><stop offset="0" stop-color="#f2fac3"/><stop offset="0.15" stop-color="#ddf2ba"/><stop offset="0.25" stop-color="#cdeab6"/><stop offset="0.4" stop-color="#bde5b5"/><stop offset="0.5" stop-color="#b0e0b7"/><stop offset="0.6" stop-color="#a6dcb8"/><stop offset="1" stop-color="#98d7b9"/></linearGradient>
<linearGradient id="ab3" gradientUnits="userSpaceOnUse" x1="0" y1="3.7" x2="0" y2="192.3"><stop offset="0" stop-color="#f6fbc6"/><stop offset="0.125" stop-color="#e8f6c0"/><stop offset="0.25" stop-color="#d5eeb7"/><stop offset="0.375" stop-color="#c0e6b6"/><stop offset="0.5" stop-color="#aadfb8"/><stop offset="0.625" stop-color="#97d7b9"/><stop offset="0.75" stop-color="#85cfba"/><stop offset="0.875" stop-color="#76c9bc"/><stop offset="1" stop-color="#69c3be"/></linearGradient>
<linearGradient id="ab4" gradientUnits="userSpaceOnUse" x1="0" y1="3.7" x2="0" y2="192.3"><stop offset="0" stop-color="#f5fbc6"/><stop offset="0.125" stop-color="#e6f5bf"/><stop offset="0.25" stop-color="#cfebb6"/><stop offset="0.375" stop-color="#bbe4b6"/><stop offset="0.5" stop-color="#a7deb8"/><stop offset="0.625" stop-color="#96d6b9"/><stop offset="0.75" stop-color="#87d0ba"/><stop offset="0.875" stop-color="#7acbbc"/><stop offset="1" stop-color="#6fc6be"/></linearGradient>
<path id="ar4" d="M-38.2 51.8L6.8 58.3L8.8 58.8L10.8 59.4L12.8 59.1L14.7 59.2L16.7 61.9L18.7 63.4L20.7 63.3L22.7 63.7L24.7 64.4L26.7 65.2L28.6 65.9L30.6 65.6L32.6 65.4L34.6 66L36.6 68L38.6 69L40.6 69.6L42.5 70L44.5 69.9L46.5 70.2L48.5 70.2L50.5 70.5L52.5 70.8L54.5 71.1L56.4 70.4L58.4 69.8L60.4 71.1L62.4 73.1L64.4 77.1L66.4 78.6L68.4 78.3L70.3 78.4L72.3 78.8L74.3 78.2L76.3 78.1L78.3 79.3L80.3 80.5L82.2 80.9L84.2 80.5L86.2 80.5L88.2 81.6L90.2 82.5L92.2 84.1L94.2 84.8L96.1 85.3L98.1 86L100.1 85.9L102.1 85.8L104.1 85.8L106.1 87.2L108.1 88.1L110 88L112 87.1L114 86.5L116 87.1L118 87.8L120 88.2L122 88.6L123.9 89.5L125.9 90.5L127.9 90.8L129.9 90.7L131.9 91.5L133.9 92.2L135.9 92.2L137.8 95.9L139.8 97.5L141.8 98L143.8 98.9L145.8 99.3L147.8 98.7L149.8 98L151.7 98.1L153.7 98.5L155.7 99.5L157.7 100.3L159.7 100.1L161.7 98.7L163.7 100.1L165.6 101.4L167.6 101.5L169.6 101.1L171.6 100.9L173.6 102.5L175.6 103.6L177.6 104.4L179.5 104.5L181.5 104.1L183.5 103.7L185.5 104.7L187.5 105.9L189.5 105.5L191.5 107.2L193.4 108.5L195.4 109.8L197.4 110.2L199.4 109.3L201.4 109.1L203.4 109.9L205.4 110L207.3 110.6L209.3 110.9L211.3 110.8L213.3 112.8L215.3 114.5L217.3 115.3L219.2 116L221.2 115.8L223.2 115.3L225.2 115.3L227.2 115.6L229.2 115.5L231.2 116.2L233.1 116.7L235.1 119.6L237.1 121.3L239.1 121.5L241.1 121.2L243.1 120.8L245.1 120.5L247 120.7L249 120.7L251 121.1L253 121.2L255 122.1L257 123.1L259 123.4L260.9 124L262.9 124.3L264.9 124.6L266.9 124.7L268.9 124.8L270.9 124.8L272.9 124.9L274.8 125.4L276.8 126.3L278.8 126.6L280.8 126.9L325.8 138.3"/>
<linearGradient id="an4" gradientUnits="userSpaceOnUse" x1="0" y1="3.7" x2="0" y2="192.3"><stop offset="0" stop-color="#f7fcc8" stop-opacity="0.0"/><stop offset="0.15" stop-color="#eef8c2" stop-opacity="0.2"/><stop offset="0.4" stop-color="#daf0b9" stop-opacity="0.32"/><stop offset="0.65" stop-color="#c4e8b6" stop-opacity="0.3"/><stop offset="1" stop-color="#b0e0b7" stop-opacity="0.2"/></linearGradient>
<linearGradient id="ab5" gradientUnits="userSpaceOnUse" x1="0" y1="3.7" x2="0" y2="192.3"><stop offset="0" stop-color="#d8efb8"/><stop offset="0.25" stop-color="#bfe6b6"/><stop offset="0.375" stop-color="#b0e0b7"/><stop offset="0.5" stop-color="#a0dbb8"/><stop offset="0.625" stop-color="#92d5b9"/><stop offset="0.75" stop-color="#85cfba"/><stop offset="0.875" stop-color="#79cabc"/><stop offset="1" stop-color="#6fc6be"/></linearGradient>
<path id="ar5" d="M-38.2 47.3L6.8 56.8L8.8 57.4L10.8 58.2L12.8 58.1L14.7 58.2L16.7 61.8L18.7 63.8L20.7 63.7L22.7 64.4L24.7 65.3L26.7 66.2L28.6 67.1L30.6 66.9L32.6 66.8L34.6 67.8L36.6 70.7L38.6 72L40.6 72.6L42.5 73L44.5 72.9L46.5 73.3L48.5 73.4L50.5 73.8L52.5 74.2L54.5 74.6L56.4 73.9L58.4 73.4L60.4 75.1L62.4 77.6L64.4 82.8L66.4 84.9L68.4 84.7L70.3 84.8L72.3 85.3L74.3 84.7L76.3 84.7L78.3 85.9L80.3 87.2L82.2 87.9L84.2 87.7L86.2 87.7L88.2 88.9L90.2 89.9L92.2 92.2L94.2 93.2L96.1 93.9L98.1 94.7L100.1 94.8L102.1 94.8L104.1 94.9L106.1 96.5L108.1 97.6L110 97.5L112 96.6L114 96.1L116 96.9L118 97.7L120 98.2L122 98.6L123.9 99.8L125.9 101.1L127.9 101.5L129.9 101.4L131.9 102.4L133.9 103.3L135.9 103.4L137.8 108.4L139.8 110.7L141.8 111.2L143.8 112.2L145.8 112.6L147.8 112L149.8 111.3L151.7 111.4L153.7 111.9L155.7 112.9L157.7 113.9L159.7 113.7L161.7 112.4L163.7 114.1L165.6 115.6L167.6 115.8L169.6 115.4L171.6 115.3L173.6 117.1L175.6 118.2L177.6 119.1L179.5 119.6L181.5 119.3L183.5 119L185.5 120.3L187.5 121.7L189.5 121.4L191.5 123.6L193.4 125.2L195.4 126.5L197.4 127L199.4 126.2L201.4 125.9L203.4 126.8L205.4 126.9L207.3 127.9L209.3 128.3L211.3 128.3L213.3 130.9L215.3 132.9L217.3 133.7L219.2 134.4L221.2 134.2L223.2 133.7L225.2 133.9L227.2 134.4L229.2 134.3L231.2 135.3L233.1 136L235.1 139.3L237.1 141.4L239.1 141.5L241.1 141.2L243.1 140.9L245.1 140.7L247 140.9L249 140.9L251 141.6L253 141.9L255 142.9L257 144L259 144.3L260.9 145L262.9 145.4L264.9 145.6L266.9 145.8L268.9 145.9L270.9 146.2L272.9 146.5L274.8 146.9L276.8 147.9L278.8 148.2L280.8 148.6L325.8 161"/>
<linearGradient id="an5" gradientUnits="userSpaceOnUse" x1="0" y1="3.7" x2="0" y2="192.3"><stop offset="0" stop-color="#f4fac5"/><stop offset="0.15" stop-color="#e6f5be"/><stop offset="0.25" stop-color="#dbf1ba"/><stop offset="0.375" stop-color="#d3edb7"/><stop offset="0.5" stop-color="#cbeab5"/><stop offset="0.675" stop-color="#c2e7b5"/><stop offset="1" stop-color="#b5e2b6"/></linearGradient>
<linearGradient id="ab6" gradientUnits="userSpaceOnUse" x1="0" y1="3.7" x2="0" y2="229.3"><stop offset="0" stop-color="#f5fbc6"/><stop offset="0.125" stop-color="#e2f4bc"/><stop offset="0.25" stop-color="#c6e8b5"/><stop offset="0.375" stop-color="#b2e1b7"/><stop offset="0.5" stop-color="#a0dbb8"/><stop offset="0.625" stop-color="#8ed4b9"/><stop offset="0.75" stop-color="#80cdbb"/><stop offset="0.875" stop-color="#77c9bc"/><stop offset="1" stop-color="#70c6be"/></linearGradient>
<path id="ar6" d="M-38.2 36.1L6.8 46.9L8.8 47.5L10.8 48.4L12.8 48.3L14.7 48.5L16.7 52.4L18.7 54.6L20.7 54.5L22.7 55.4L24.7 56.3L26.7 57.2L28.6 58.2L30.6 58.1L32.6 58L34.6 59.2L36.6 62.5L38.6 63.8L40.6 64.5L42.5 64.9L44.5 64.8L46.5 65.3L48.5 65.4L50.5 65.8L52.5 66.3L54.5 66.7L56.4 66L58.4 65.5L60.4 67.5L62.4 70.1L64.4 75.9L66.4 78.3L68.4 78.1L70.3 78.2L72.3 78.7L74.3 78.2L76.3 78.2L78.3 79.5L80.3 80.8L82.2 81.6L84.2 81.6L86.2 81.6L88.2 82.8L90.2 83.9L92.2 86.5L94.2 87.7L96.1 88.5L98.1 89.3L100.1 89.5L102.1 89.6L104.1 89.6L106.1 91.4L108.1 92.5L110 92.5L112 91.6L114 91.1L116 92L118 92.9L120 93.4L122 93.8L123.9 95.1L125.9 96.6L127.9 97.1L129.9 97.1L131.9 98.2L133.9 99.1L135.9 99.2L137.8 104.9L139.8 107.6L141.8 108.2L143.8 109.1L145.8 109.6L147.8 109L149.8 108.4L151.7 108.5L153.7 108.9L155.7 110L157.7 111.1L159.7 111L161.7 109.6L163.7 111.6L165.6 113.2L167.6 113.4L169.6 113L171.6 112.9L173.6 114.8L175.6 116L177.6 116.9L179.5 117.6L181.5 117.5L183.5 117.1L185.5 118.7L187.5 120.2L189.5 119.9L191.5 122.4L193.4 124.2L195.4 125.5L197.4 126.1L199.4 125.3L201.4 125.1L203.4 125.9L205.4 126L207.3 127.3L209.3 127.8L211.3 127.8L213.3 130.7L215.3 133L217.3 133.8L219.2 134.5L221.2 134.3L223.2 133.8L225.2 134.2L227.2 134.8L229.2 134.7L231.2 135.8L233.1 136.6L235.1 140.3L237.1 142.5L239.1 142.7L241.1 142.4L243.1 142.2L245.1 141.9L247 142.2L249 142.2L251 143.1L253 143.5L255 144.7L257 145.8L259 146.1L260.9 146.8L262.9 147.2L264.9 147.5L266.9 147.7L268.9 147.9L270.9 148.3L272.9 148.7L274.8 149.2L276.8 150.3L278.8 150.6L280.8 150.9L325.8 164.1"/>
<linearGradient id="an6" gradientUnits="userSpaceOnUse" x1="0" y1="3.7" x2="0" y2="229.3"><stop offset="0" stop-color="#f5fbc6" stop-opacity="0.0"/><stop offset="0.15" stop-color="#ebf7c0" stop-opacity="0.6"/><stop offset="0.3" stop-color="#dff2bb" stop-opacity="0.85"/><stop offset="0.5" stop-color="#cfebb6" stop-opacity="0.85"/><stop offset="0.65" stop-color="#b8e4b7" stop-opacity="0.7"/><stop offset="1" stop-color="#a0dbb8" stop-opacity="0.5"/></linearGradient>
<linearGradient id="ab7" gradientUnits="userSpaceOnUse" x1="0" y1="3.7" x2="0" y2="229.3"><stop offset="0" stop-color="#d8efb8"/><stop offset="0.25" stop-color="#bfe6b6"/><stop offset="0.375" stop-color="#b0e0b7"/><stop offset="0.5" stop-color="#a0dbb8"/><stop offset="0.625" stop-color="#92d5b9"/><stop offset="0.75" stop-color="#85cfba"/><stop offset="0.875" stop-color="#79cabc"/><stop offset="1" stop-color="#6fc6be"/></linearGradient>
<path id="ar7" d="M-38.2 62.4L6.8 71.7L8.8 72.3L10.8 73.1L12.8 72.9L14.7 73.1L16.7 76.5L18.7 78.5L20.7 78.4L22.7 79.1L24.7 80L26.7 80.8L28.6 81.7L30.6 81.5L32.6 81.4L34.6 82.4L36.6 85.2L38.6 86.4L40.6 87.1L42.5 87.5L44.5 87.4L46.5 87.8L48.5 87.9L50.5 88.2L52.5 88.7L54.5 89L56.4 88.3L58.4 87.8L60.4 89.5L62.4 92L64.4 97.1L66.4 99.2L68.4 99L70.3 99L72.3 99.5L74.3 99L76.3 99L78.3 100.2L80.3 101.5L82.2 102.1L84.2 102L86.2 102L88.2 103.1L90.2 104.1L92.2 106.4L94.2 107.4L96.1 108.1L98.1 108.9L100.1 109L102.1 109L104.1 109L106.1 110.7L108.1 111.7L110 111.7L112 110.8L114 110.3L116 111L118 111.9L120 112.4L122 112.7L123.9 113.9L125.9 115.2L127.9 115.6L129.9 115.6L131.9 116.6L133.9 117.5L135.9 117.5L137.8 122.5L139.8 124.8L141.8 125.4L143.8 126.3L145.8 126.8L147.8 126.1L149.8 125.5L151.7 125.6L153.7 126L155.7 127.1L157.7 128.1L159.7 127.9L161.7 126.6L163.7 128.3L165.6 129.8L167.6 130L169.6 129.6L171.6 129.5L173.6 131.2L175.6 132.4L177.6 133.3L179.5 133.8L181.5 133.5L183.5 133.2L185.5 134.6L187.5 135.9L189.5 135.6L191.5 137.9L193.4 139.5L195.4 140.8L197.4 141.3L199.4 140.5L201.4 140.2L203.4 141.1L205.4 141.2L207.3 142.2L209.3 142.7L211.3 142.6L213.3 145.3L215.3 147.3L217.3 148.1L219.2 148.8L221.2 148.6L223.2 148.1L225.2 148.4L227.2 148.8L229.2 148.7L231.2 149.7L233.1 150.4L235.1 153.8L237.1 155.9L239.1 156L241.1 155.8L243.1 155.5L245.1 155.2L247 155.4L249 155.5L251 156.2L253 156.5L255 157.6L257 158.7L259 159L260.9 159.6L262.9 160L264.9 160.3L266.9 160.5L268.9 160.6L270.9 160.9L272.9 161.2L274.8 161.7L276.8 162.7L278.8 163L280.8 163.3L325.8 175.9"/>
<linearGradient id="an7" gradientUnits="userSpaceOnUse" x1="0" y1="3.7" x2="0" y2="229.3"><stop offset="0" stop-color="#f4fac5"/><stop offset="0.15" stop-color="#e6f5be"/><stop offset="0.25" stop-color="#dbf1ba"/><stop offset="0.375" stop-color="#d3edb7"/><stop offset="0.5" stop-color="#cbeab5"/><stop offset="0.675" stop-color="#c2e7b5"/><stop offset="1" stop-color="#b5e2b6"/></linearGradient>
<linearGradient id="ab8" gradientUnits="userSpaceOnUse" x1="0" y1="3.7" x2="0" y2="229.3"><stop offset="0" stop-color="#cfebb6"/><stop offset="0.25" stop-color="#b0e0b7"/><stop offset="0.375" stop-color="#99d8b9"/><stop offset="0.5" stop-color="#85cfba"/><stop offset="0.625" stop-color="#78cabc"/><stop offset="0.75" stop-color="#72c7bd"/><stop offset="1" stop-color="#6ac3be"/></linearGradient>
<path id="ar8" d="M-38.2 63.3L6.8 71.7L8.8 72.3L10.8 73L12.8 72.8L14.7 72.9L16.7 76.1L18.7 77.9L20.7 77.9L22.7 78.5L24.7 79.3L26.7 80.1L28.6 81L30.6 80.8L32.6 80.6L34.6 81.5L36.6 84L38.6 85.2L40.6 85.8L42.5 86.2L44.5 86.1L46.5 86.5L48.5 86.5L50.5 86.9L52.5 87.3L54.5 87.6L56.4 86.9L58.4 86.4L60.4 88L62.4 90.3L64.4 95.1L66.4 97L68.4 96.7L70.3 96.8L72.3 97.3L74.3 96.7L76.3 96.7L78.3 97.9L80.3 99.1L82.2 99.7L84.2 99.5L86.2 99.5L88.2 100.6L90.2 101.6L92.2 103.7L94.2 104.6L96.1 105.2L98.1 106L100.1 106L102.1 106L104.1 106L106.1 107.6L108.1 108.6L110 108.5L112 107.6L114 107.1L116 107.8L118 108.6L120 109.1L122 109.4L123.9 110.5L125.9 111.7L127.9 112.1L129.9 112.1L131.9 113L133.9 113.8L135.9 113.9L137.8 118.5L139.8 120.6L141.8 121.1L143.8 122.1L145.8 122.5L147.8 121.9L149.8 121.2L151.7 121.3L153.7 121.7L155.7 122.8L157.7 123.7L159.7 123.5L161.7 122.2L163.7 123.8L165.6 125.2L167.6 125.4L169.6 125L171.6 124.9L173.6 126.6L175.6 127.8L177.6 128.6L179.5 129L181.5 128.7L183.5 128.3L185.5 129.6L187.5 130.9L189.5 130.6L191.5 132.7L193.4 134.2L195.4 135.5L197.4 136L199.4 135.1L201.4 134.9L203.4 135.7L205.4 135.9L207.3 136.8L209.3 137.2L211.3 137.1L213.3 139.6L215.3 141.5L217.3 142.3L219.2 143L221.2 142.8L223.2 142.3L225.2 142.5L227.2 143L229.2 142.8L231.2 143.8L233.1 144.4L235.1 147.6L237.1 149.7L239.1 149.8L241.1 149.5L243.1 149.2L245.1 148.9L247 149.1L249 149.1L251 149.8L253 150.1L255 151.1L257 152.1L259 152.5L260.9 153.1L262.9 153.5L264.9 153.7L266.9 153.9L268.9 154L270.9 154.2L272.9 154.5L274.8 154.9L276.8 156L278.8 156.3L280.8 156.6L325.8 168.8"/>
<linearGradient id="an8" gradientUnits="userSpaceOnUse" x1="0" y1="3.7" x2="0" y2="229.3"><stop offset="0" stop-color="#f2fac3"/><stop offset="0.15" stop-color="#ddf2ba"/><stop offset="0.25" stop-color="#cdeab6"/><stop offset="0.4" stop-color="#bde5b5"/><stop offset="0.5" stop-color="#b0e0b7"/><stop offset="0.6" stop-color="#a6dcb8"/><stop offset="1" stop-color="#98d7b9"/></linearGradient>
<linearGradient id="gA" x1="0" y1="0" x2="1" y2="0"><stop offset="0" stop-color="#FFFFD9"/><stop offset="0.125" stop-color="#EDF8B1"/><stop offset="0.25" stop-color="#C7E9B4"/><stop offset="0.375" stop-color="#7FCDBB"/><stop offset="0.5" stop-color="#41B6C4"/><stop offset="0.625" stop-color="#1D91C0"/><stop offset="0.75" stop-color="#225EA8"/><stop offset="0.875" stop-color="#253494"/><stop offset="1" stop-color="#081D58"/></linearGradient>
<linearGradient id="gB" x1="0" y1="0" x2="1" y2="0"><stop offset="0" stop-color="#FFF3A8"/><stop offset="0.1" stop-color="#FEE68E"/><stop offset="0.2" stop-color="#FED978"/><stop offset="0.3" stop-color="#FDC664"/><stop offset="0.4" stop-color="#FDB150"/><stop offset="0.5" stop-color="#FD9D43"/><stop offset="0.6" stop-color="#FC8636"/><stop offset="0.7" stop-color="#F8622B"/><stop offset="0.76" stop-color="#EF4B25"/><stop offset="0.82" stop-color="#E22C20"/><stop offset="0.87" stop-color="#D0181F"/><stop offset="0.9" stop-color="#A80C23"/><stop offset="0.935" stop-color="#6A0F1B"/><stop offset="0.96" stop-color="#2A0B0B"/><stop offset="0.975" stop-color="#000000"/><stop offset="1" stop-color="#000000"/></linearGradient>
<linearGradient id="gC" x1="0" y1="0" x2="1" y2="0"><stop offset="0" stop-color="#1C0CCB"/><stop offset="0.05" stop-color="#2A14CD"/><stop offset="0.18" stop-color="#7047D9"/><stop offset="0.34" stop-color="#B39BE8"/><stop offset="0.42" stop-color="#D9CBF3"/><stop offset="0.5" stop-color="#FFFFFF"/><stop offset="0.58" stop-color="#FCE0D6"/><stop offset="0.66" stop-color="#F5BBA8"/><stop offset="0.78" stop-color="#F68868"/><stop offset="0.88" stop-color="#F4593A"/><stop offset="0.96" stop-color="#EC2519"/><stop offset="1" stop-color="#E81C16"/></linearGradient>
</defs>
<rect width="2067" height="1982" fill="#fff"/>
<g transform="translate(1105.5,168.5)">
<g transform="translate(0,0)" clip-path="url(#cp0)"><rect x="0" y="0" width="286.3" height="196.7" fill="#fecf6f"/><use href="#Tn0" x="-2.8" y="3.7"/><use href="#Tn0" x="15.84" y="3.7"/><use href="#Tn0" x="34.48" y="3.7"/><use href="#Tn0" x="53.12" y="3.7"/><use href="#Tn0" x="71.76" y="3.7"/><use href="#Tn0" x="90.4" y="3.7"/><use href="#Tn0" x="109.04" y="3.7"/><use href="#Tn0" x="127.68" y="3.7"/><use href="#Tn0" x="146.32" y="3.7"/><use href="#Tn0" x="164.96" y="3.7"/><use href="#Tn0" x="183.6" y="3.7"/><use href="#Tn0" x="202.24" y="3.7"/><use href="#Tn0" x="220.88" y="3.7"/><use href="#Tn0" x="239.52" y="3.7"/><use href="#Tn0" x="258.16" y="3.7"/><use href="#Tn0" x="276.8" y="3.7"/></g>
<g transform="translate(316.8,0)" clip-path="url(#cp0)"><rect x="0" y="0" width="286.3" height="196.7" fill="#fecf6f"/><use href="#Tn0" x="-2.8" y="3.7"/><use href="#Tn0" x="15.84" y="3.7"/><use href="#Tn0" x="34.48" y="3.7"/><use href="#Tn0" x="53.12" y="3.7"/><use href="#Tn0" x="71.76" y="3.7"/><use href="#Tn0" x="90.4" y="3.7"/><use href="#Tn0" x="109.04" y="3.7"/><use href="#Tn0" x="127.68" y="3.7"/><use href="#Tn0" x="146.32" y="3.7"/><use href="#Tn0" x="164.96" y="3.7"/><use href="#Tn0" x="183.6" y="3.7"/><use href="#Tn0" x="202.24" y="3.7"/><use href="#Tn0" x="220.88" y="3.7"/><use href="#Tn0" x="239.52" y="3.7"/><use href="#Tn0" x="258.16" y="3.7"/><use href="#Tn0" x="276.8" y="3.7"/></g>
<g transform="translate(633.6,0)" clip-path="url(#cp0)"><rect x="0" y="0" width="286.3" height="196.7" fill="#fecf6f"/><use href="#Td0" x="-2.8" y="3.7"/><use href="#Td0" x="15.84" y="3.7"/><use href="#Td0" x="34.48" y="3.7"/><use href="#Td0" x="53.12" y="3.7"/><use href="#Td0" x="71.76" y="3.7"/><use href="#Td0" x="90.4" y="3.7"/><use href="#Td0" x="109.04" y="3.7"/><use href="#Td0" x="127.68" y="3.7"/><use href="#Td0" x="146.32" y="3.7"/><use href="#Td0" x="164.96" y="3.7"/><use href="#Td0" x="183.6" y="3.7"/><use href="#Td0" x="202.24" y="3.7"/><use href="#Td0" x="220.88" y="3.7"/><use href="#Td0" x="239.52" y="3.7"/><use href="#Td0" x="258.16" y="3.7"/><use href="#Td0" x="276.8" y="3.7"/></g>
<g transform="translate(0,229)" clip-path="url(#cp0)"><rect x="0" y="0" width="286.3" height="196.7" fill="#fecf6f"/><use href="#Tn0" x="-2.8" y="3.7"/><use href="#Tn0" x="15.84" y="3.7"/><use href="#Tn0" x="34.48" y="3.7"/><use href="#Tn0" x="53.12" y="3.7"/><use href="#Tn0" x="71.76" y="3.7"/><use href="#Tn0" x="90.4" y="3.7"/><use href="#Tn0" x="109.04" y="3.7"/><use href="#Tn0" x="127.68" y="3.7"/><use href="#Tn0" x="146.32" y="3.7"/><use href="#Tn0" x="164.96" y="3.7"/><use href="#Tn0" x="183.6" y="3.7"/><use href="#Tn0" x="202.24" y="3.7"/><use href="#Tn0" x="220.88" y="3.7"/><use href="#Tn0" x="239.52" y="3.7"/><use href="#Tn0" x="258.16" y="3.7"/><use href="#Tn0" x="276.8" y="3.7"/></g>
<g transform="translate(316.8,229)" clip-path="url(#cp0)"><rect x="0" y="0" width="286.3" height="196.7" fill="#fecf6f"/><use href="#Tn0" x="-2.8" y="3.7"/><use href="#Tn0" x="15.84" y="3.7"/><use href="#Tn0" x="34.48" y="3.7"/><use href="#Tn0" x="53.12" y="3.7"/><use href="#Tn0" x="71.76" y="3.7"/><use href="#Tn0" x="90.4" y="3.7"/><use href="#Tn0" x="109.04" y="3.7"/><use href="#Tn0" x="127.68" y="3.7"/><use href="#Tn0" x="146.32" y="3.7"/><use href="#Tn0" x="164.96" y="3.7"/><use href="#Tn0" x="183.6" y="3.7"/><use href="#Tn0" x="202.24" y="3.7"/><use href="#Tn0" x="220.88" y="3.7"/><use href="#Tn0" x="239.52" y="3.7"/><use href="#Tn0" x="258.16" y="3.7"/><use href="#Tn0" x="276.8" y="3.7"/></g>
<g transform="translate(633.6,229)" clip-path="url(#cp0)"><rect x="0" y="0" width="286.3" height="196.7" fill="#fecf6f"/><use href="#Tn0" x="-2.8" y="3.7"/><use href="#Tn0" x="15.84" y="3.7"/><use href="#Tn0" x="34.48" y="3.7"/><use href="#Tn0" x="53.12" y="3.7"/><use href="#Tn0" x="71.76" y="3.7"/><use href="#Tn0" x="90.4" y="3.7"/><use href="#Tn0" x="109.04" y="3.7"/><use href="#Tn0" x="127.68" y="3.7"/><use href="#Tn0" x="146.32" y="3.7"/><use href="#Tn0" x="164.96" y="3.7"/><use href="#Tn0" x="183.6" y="3.7"/><use href="#Tn0" x="202.24" y="3.7"/><use href="#Tn0" x="220.88" y="3.7"/><use href="#Tn0" x="239.52" y="3.7"/><use href="#Tn0" x="258.16" y="3.7"/><use href="#Tn0" x="276.8" y="3.7"/></g>
<g transform="translate(0,458.3)" clip-path="url(#cp2)"><rect x="0" y="0" width="286.3" height="234.3" fill="#fecf6f"/><use href="#Tm2" x="-2.8" y="3.7"/><use href="#Tm2" x="15.84" y="3.7"/><use href="#Tm2" x="34.48" y="3.7"/><use href="#Tm2" x="53.12" y="3.7"/><use href="#Tm2" x="71.76" y="3.7"/><use href="#Tm2" x="90.4" y="3.7"/><use href="#Tm2" x="109.04" y="3.7"/><use href="#Tm2" x="127.68" y="3.7"/><use href="#Tm2" x="146.32" y="3.7"/><use href="#Tm2" x="164.96" y="3.7"/><use href="#Tm2" x="183.6" y="3.7"/><use href="#Tm2" x="202.24" y="3.7"/><use href="#Tm2" x="220.88" y="3.7"/><use href="#Tm2" x="239.52" y="3.7"/><use href="#Tm2" x="258.16" y="3.7"/><use href="#Tm2" x="276.8" y="3.7"/></g>
<g transform="translate(316.8,458.3)" clip-path="url(#cp2)"><rect x="0" y="0" width="286.3" height="234.3" fill="#fecf6f"/><use href="#Tn2" x="-2.8" y="3.7"/><use href="#Tn2" x="15.84" y="3.7"/><use href="#Tn2" x="34.48" y="3.7"/><use href="#Tn2" x="53.12" y="3.7"/><use href="#Tn2" x="71.76" y="3.7"/><use href="#Tn2" x="90.4" y="3.7"/><use href="#Tn2" x="109.04" y="3.7"/><use href="#Tn2" x="127.68" y="3.7"/><use href="#Tn2" x="146.32" y="3.7"/><use href="#Tn2" x="164.96" y="3.7"/><use href="#Tn2" x="183.6" y="3.7"/><use href="#Tn2" x="202.24" y="3.7"/><use href="#Tn2" x="220.88" y="3.7"/><use href="#Tn2" x="239.52" y="3.7"/><use href="#Tn2" x="258.16" y="3.7"/><use href="#Tn2" x="276.8" y="3.7"/></g>
<g transform="translate(633.6,458.3)" clip-path="url(#cp2)"><rect x="0" y="0" width="286.3" height="234.3" fill="#fecf6f"/><use href="#Tn2" x="-2.8" y="3.7"/><use href="#Tn2" x="15.84" y="3.7"/><use href="#Tn2" x="34.48" y="3.7"/><use href="#Tn2" x="53.12" y="3.7"/><use href="#Tn2" x="71.76" y="3.7"/><use href="#Tn2" x="90.4" y="3.7"/><use href="#Tn2" x="109.04" y="3.7"/><use href="#Tn2" x="127.68" y="3.7"/><use href="#Tn2" x="146.32" y="3.7"/><use href="#Tn2" x="164.96" y="3.7"/><use href="#Tn2" x="183.6" y="3.7"/><use href="#Tn2" x="202.24" y="3.7"/><use href="#Tn2" x="220.88" y="3.7"/><use href="#Tn2" x="239.52" y="3.7"/><use href="#Tn2" x="258.16" y="3.7"/><use href="#Tn2" x="276.8" y="3.7"/></g>
</g>
<g transform="translate(584.2,1184.3)">
<g transform="translate(0,0)"><rect x="1" y="1" width="284.3" height="194.7" fill="#b3b3b3"/><g clip-path="url(#cw0)"><rect x="0" y="0" width="220" height="196.7" fill="#fff"/><use href="#C0" x="-2.8" y="3.7" opacity="0.76"/><use href="#C0" x="15.84" y="3.7" opacity="0.68"/><use href="#C0" x="34.48" y="3.7" opacity="0.82"/><use href="#C0" x="53.12" y="3.7" opacity="0.6"/><use href="#C0" x="71.76" y="3.7" opacity="0.72"/><use href="#C0" x="90.4" y="3.7" opacity="0.64"/><use href="#C0" x="109.04" y="3.7" opacity="0.53"/><use href="#C0" x="127.68" y="3.7" opacity="0.62"/><use href="#C0" x="146.32" y="3.7" opacity="0.48"/><use href="#C0" x="164.96" y="3.7" opacity="0.55"/><use href="#C0" x="183.6" y="3.7" opacity="0.44"/><use href="#C0" x="202.24" y="3.7" opacity="0.42"/></g></g>
<g transform="translate(316.8,0)"><rect x="1" y="1" width="284.3" height="194.7" fill="#b3b3b3"/><g clip-path="url(#cw0)"><rect x="0" y="0" width="220" height="196.7" fill="#fff"/><use href="#C1" x="-2.8" y="3.7" opacity="0.8"/><use href="#C1" x="15.84" y="3.7" opacity="0.91"/><use href="#C1" x="34.48" y="3.7" opacity="0.64"/><use href="#C1" x="53.12" y="3.7" opacity="0.65"/><use href="#C1" x="71.76" y="3.7" opacity="0.75"/><use href="#C1" x="90.4" y="3.7" opacity="0.81"/><use href="#C1" x="109.04" y="3.7" opacity="0.67"/><use href="#C1" x="127.68" y="3.7" opacity="0.6"/><use href="#C1" x="146.32" y="3.7" opacity="0.71"/><use href="#C1" x="164.96" y="3.7" opacity="0.46"/><use href="#C1" x="183.6" y="3.7" opacity="0.62"/><use href="#C1" x="202.24" y="3.7" opacity="0.46"/></g></g>
<g transform="translate(633.6,0)"><rect x="1" y="1" width="284.3" height="194.7" fill="#b3b3b3"/><g clip-path="url(#cw0)"><rect x="0" y="0" width="220" height="196.7" fill="#fff"/><use href="#C2" x="-2.8" y="3.7" opacity="0.7"/><use href="#C2" x="15.84" y="3.7" opacity="0.67"/><use href="#C2" x="34.48" y="3.7" opacity="0.7"/><use href="#C2" x="53.12" y="3.7" opacity="0.84"/><use href="#C2" x="71.76" y="3.7" opacity="0.61"/><use href="#C2" x="90.4" y="3.7" opacity="0.7"/><use href="#C2" x="109.04" y="3.7" opacity="0.69"/><use href="#C2" x="127.68" y="3.7" opacity="0.59"/><use href="#C2" x="146.32" y="3.7" opacity="0.61"/><use href="#C2" x="164.96" y="3.7" opacity="0.46"/><use href="#C2" x="183.6" y="3.7" opacity="0.44"/><use href="#C2" x="202.24" y="3.7" opacity="0.44"/></g></g>
<g transform="translate(0,229)"><rect x="1" y="1" width="284.3" height="194.7" fill="#b3b3b3"/><g clip-path="url(#cw0)"><rect x="0" y="0" width="220" height="196.7" fill="#fff"/><use href="#C3" x="-2.8" y="3.7" opacity="0.89"/><use href="#C3" x="15.84" y="3.7" opacity="0.77"/><use href="#C3" x="34.48" y="3.7" opacity="0.71"/><use href="#C3" x="53.12" y="3.7" opacity="0.77"/><use href="#C3" x="71.76" y="3.7" opacity="0.7"/><use href="#C3" x="90.4" y="3.7" opacity="0.62"/><use href="#C3" x="109.04" y="3.7" opacity="0.73"/><use href="#C3" x="127.68" y="3.7" opacity="0.68"/><use href="#C3" x="146.32" y="3.7" opacity="0.53"/><use href="#C3" x="164.96" y="3.7" opacity="0.58"/><use href="#C3" x="183.6" y="3.7" opacity="0.54"/><use href="#C3" x="202.24" y="3.7" opacity="0.59"/></g></g>
<g transform="translate(316.8,229)"><rect x="1" y="1" width="284.3" height="194.7" fill="#b3b3b3"/><g clip-path="url(#cw0)"><rect x="0" y="0" width="220" height="196.7" fill="#fff"/><use href="#C4" x="-2.8" y="3.7" opacity="0.91"/><use href="#C4" x="15.84" y="3.7" opacity="0.72"/><use href="#C4" x="34.48" y="3.7" opacity="0.92"/><use href="#C4" x="53.12" y="3.7" opacity="0.62"/><use href="#C4" x="71.76" y="3.7" opacity="0.68"/><use href="#C4" x="90.4" y="3.7" opacity="0.75"/><use href="#C4" x="109.04" y="3.7" opacity="0.56"/><use href="#C4" x="127.68" y="3.7" opacity="0.62"/><use href="#C4" x="146.32" y="3.7" opacity="0.48"/><use href="#C4" x="164.96" y="3.7" opacity="0.61"/><use href="#C4" x="183.6" y="3.7" opacity="0.6"/><use href="#C4" x="202.24" y="3.7" opacity="0.52"/></g></g>
<g transform="translate(633.6,229)"><rect x="1" y="1" width="284.3" height="194.7" fill="#b3b3b3"/><g clip-path="url(#cw0)"><rect x="0" y="0" width="220" height="196.7" fill="#fff"/><use href="#C5" x="-2.8" y="3.7" opacity="0.96"/><use href="#C5" x="15.84" y="3.7" opacity="0.73"/><use href="#C5" x="34.48" y="3.7" opacity="0.83"/><use href="#C5" x="53.12" y="3.7" opacity="0.77"/><use href="#C5" x="71.76" y="3.7" opacity="0.73"/><use href="#C5" x="90.4" y="3.7" opacity="0.67"/><use href="#C5" x="109.04" y="3.7" opacity="0.75"/><use href="#C5" x="127.68" y="3.7" opacity="0.74"/><use href="#C5" x="146.32" y="3.7" opacity="0.59"/><use href="#C5" x="164.96" y="3.7" opacity="0.6"/><use href="#C5" x="183.6" y="3.7" opacity="0.44"/><use href="#C5" x="202.24" y="3.7" opacity="0.55"/></g></g>
<g transform="translate(0,458.3)"><rect x="1" y="1" width="284.3" height="232.3" fill="#b3b3b3"/><g clip-path="url(#cw2)"><rect x="0" y="0" width="220" height="234.3" fill="#fff"/><use href="#C6" x="-2.8" y="3.7" opacity="0.88"/><use href="#C6" x="15.84" y="3.7" opacity="0.96"/><use href="#C6" x="34.48" y="3.7" opacity="0.87"/><use href="#C6" x="53.12" y="3.7" opacity="0.67"/><use href="#C6" x="71.76" y="3.7" opacity="0.68"/><use href="#C6" x="90.4" y="3.7" opacity="0.73"/><use href="#C6" x="109.04" y="3.7" opacity="0.52"/><use href="#C6" x="127.68" y="3.7" opacity="0.61"/><use href="#C6" x="146.32" y="3.7" opacity="0.51"/><use href="#C6" x="164.96" y="3.7" opacity="0.47"/><use href="#C6" x="183.6" y="3.7" opacity="0.44"/><use href="#C6" x="202.24" y="3.7" opacity="0.57"/></g></g>
<g transform="translate(316.8,458.3)"><rect x="1" y="1" width="284.3" height="232.3" fill="#b3b3b3"/><g clip-path="url(#cw2)"><rect x="0" y="0" width="220" height="234.3" fill="#fff"/><use href="#C7" x="-2.8" y="3.7" opacity="0.7"/><use href="#C7" x="15.84" y="3.7" opacity="0.71"/><use href="#C7" x="34.48" y="3.7" opacity="0.73"/><use href="#C7" x="53.12" y="3.7" opacity="0.85"/><use href="#C7" x="71.76" y="3.7" opacity="0.58"/><use href="#C7" x="90.4" y="3.7" opacity="0.67"/><use href="#C7" x="109.04" y="3.7" opacity="0.67"/><use href="#C7" x="127.68" y="3.7" opacity="0.72"/><use href="#C7" x="146.32" y="3.7" opacity="0.67"/><use href="#C7" x="164.96" y="3.7" opacity="0.65"/><use href="#C7" x="183.6" y="3.7" opacity="0.49"/><use href="#C7" x="202.24" y="3.7" opacity="0.49"/></g></g>
<g transform="translate(633.6,458.3)"><rect x="1" y="1" width="284.3" height="232.3" fill="#b3b3b3"/><g clip-path="url(#cw2)"><rect x="0" y="0" width="220" height="234.3" fill="#fff"/><use href="#C8" x="-2.8" y="3.7" opacity="0.78"/><use href="#C8" x="15.84" y="3.7" opacity="0.93"/><use href="#C8" x="34.48" y="3.7" opacity="0.92"/><use href="#C8" x="53.12" y="3.7" opacity="0.63"/><use href="#C8" x="71.76" y="3.7" opacity="0.61"/><use href="#C8" x="90.4" y="3.7" opacity="0.6"/><use href="#C8" x="109.04" y="3.7" opacity="0.58"/><use href="#C8" x="127.68" y="3.7" opacity="0.62"/><use href="#C8" x="146.32" y="3.7" opacity="0.62"/><use href="#C8" x="164.96" y="3.7" opacity="0.51"/><use href="#C8" x="183.6" y="3.7" opacity="0.42"/><use href="#C8" x="202.24" y="3.7" opacity="0.49"/></g></g>
</g>
<g transform="translate(584.2,1184.3)" font-size="21.6" text-anchor="middle" fill="#000" style="white-space:pre">
<text x="143.3" y="130.5">ME = 0.7 °C</text><text x="143.3" y="158.9">RMSE = 1.0 °C  R² = 0.63</text>
<text x="460.2" y="130.5">ME = 0.6 °C</text><text x="460.2" y="158.9">RMSE = 1.1 °C  R² = 0.65</text>
<text x="777" y="130.5">ME = -0.01 °C</text><text x="777" y="158.9">RMSE = 2.0 °C  R² = 0.41</text>
<text x="143.3" y="359.5">ME = 0.1 °C</text><text x="143.3" y="387.9">RMSE = 0.8 °C  R² = 0.65</text>
<text x="460.2" y="359.5">ME = 0.1 °C</text><text x="460.2" y="387.9">RMSE = 0.9 °C  R² = 0.61</text>
<text x="777" y="359.5">ME = 0.06 °C</text><text x="777" y="387.9">RMSE = 0.9 °C  R² = 0.63</text>
<text x="143.3" y="611.9">ME = 0.2 °C</text><text x="143.3" y="645.5">RMSE = 0.7 °C  R² = 0.28</text>
<text x="460.2" y="611.9">ME = 0.02 °C</text><text x="460.2" y="645.5">RMSE = 0.6 °C  R² = 0.66</text>
<text x="777" y="611.9">ME = 0.6 °C</text><text x="777" y="645.5">RMSE = 0.9 °C  R² = 0.67</text>
</g>
<g transform="translate(86.4,168.5)" fill="none" stroke-linejoin="round">
<g transform="translate(0,0)" clip-path="url(#cp0)"><rect x="0" y="0" width="286.3" height="196.7" fill="url(#ab0)"/><path d="M-38.2 -41.3L-38.2 53.5L6.8 62.5L8.8 63L10.8 63.5L12.8 63.2L14.7 63.3L16.7 65.6L18.7 67L20.7 66.9L22.7 67.2L24.7 67.8L26.7 68.6L28.6 69.2L30.6 68.9L32.6 68.6L34.6 69.1L36.6 70.8L38.6 71.6L40.6 72.3L42.5 72.6L44.5 72.5L46.5 72.8L48.5 72.7L50.5 73L52.5 73.3L54.5 73.6L56.4 72.8L58.4 72.2L60.4 73.4L62.4 75.2L64.4 78.8L66.4 80L68.4 79.7L70.3 79.7L72.3 80.1L74.3 79.5L76.3 79.4L78.3 80.6L80.3 81.8L82.2 82L84.2 81.6L86.2 81.5L88.2 82.6L90.2 83.5L92.2 84.8L94.2 85.4L96.1 85.8L98.1 86.4L100.1 86.3L102.1 86.2L104.1 86.1L106.1 87.4L108.1 88.2L110 88.1L112 87.2L114 86.7L116 87.1L118 87.8L120 88.3L122 88.6L123.9 89.4L125.9 90.3L127.9 90.5L129.9 90.4L131.9 91.1L133.9 91.8L135.9 91.8L137.8 94.9L139.8 96.2L141.8 96.8L143.8 97.6L145.8 98L147.8 97.4L149.8 96.7L151.7 96.7L153.7 97.1L155.7 98.2L157.7 98.9L159.7 98.6L161.7 97.3L163.7 98.5L165.6 99.7L167.6 99.8L169.6 99.4L171.6 99.2L173.6 100.8L175.6 101.8L177.6 102.5L179.5 102.5L181.5 102L183.5 101.6L185.5 102.5L187.5 103.6L189.5 103.2L191.5 104.7L193.4 105.9L195.4 107.2L197.4 107.5L199.4 106.6L201.4 106.3L203.4 107.2L205.4 107.3L207.3 107.8L209.3 107.9L211.3 107.9L213.3 109.6L215.3 111.2L217.3 112L219.2 112.6L221.2 112.4L223.2 112L225.2 111.8L227.2 112.1L229.2 112L231.2 112.5L233.1 113L235.1 115.7L237.1 117.3L239.1 117.4L241.1 117.2L243.1 116.8L245.1 116.5L247 116.6L249 116.6L251 116.8L253 117L255 117.8L257 118.7L259 119L260.9 119.6L262.9 119.9L264.9 120.1L266.9 120.2L268.9 120.3L270.9 120.2L272.9 120.3L274.8 120.7L276.8 121.6L278.8 121.9L280.8 122.2L325.8 131.2L325.8 -41.3Z" fill="url(#an0)" filter="url(#bl3)"/><use href="#ar0" y="1.7" stroke="#5fb8ae" stroke-opacity="0.16" stroke-width="2.4" filter="url(#bl1)"/><use href="#ar0" stroke="#5fb8ae" stroke-opacity="0.35" stroke-width="1.0"/><use href="#ar0" transform="matrix(1 0 0 1.1183 0 -45.08)" stroke="#5fb8ae" stroke-opacity="0.25" stroke-width="0.9"/><use href="#ar0" transform="matrix(1 0 0 1.0888 0 -33.81)" stroke="#5fb8ae" stroke-opacity="0.4" stroke-width="0.9"/><use href="#ar0" transform="matrix(1 0 0 1.0769 0 -29.3)" stroke="#5fb8ae" stroke-opacity="0.25" stroke-width="0.9"/><use href="#ar0" transform="matrix(1 0 0 1.0503 0 -19.16)" stroke="#5fb8ae" stroke-opacity="0.5" stroke-width="1"/><use href="#ar0" transform="matrix(1 0 0 1.0414 0 -15.78)" stroke="#5fb8ae" stroke-opacity="0.3" stroke-width="0.9"/><use href="#ar0" transform="matrix(1 0 0 1.0178 0 -6.76)" stroke="#5fb8ae" stroke-opacity="0.5" stroke-width="1"/><use href="#ar0" transform="matrix(1 0 0 1.1479 0 -56.35)" stroke="#5fb8ae" stroke-opacity="0.2" stroke-width="0.9"/><use href="#ar0" transform="matrix(1 0 0 1.1686 0 -64.23)" stroke="#5fb8ae" stroke-opacity="0.15" stroke-width="0.9"/><use href="#ar0" transform="matrix(1 0 0 1.2209 0 -84.12)" stroke="#5fb8ae" stroke-opacity="0.22" stroke-width="0.9"/><use href="#ar0" transform="matrix(1 0 0 1.2609 0 -99.37)" stroke="#5fb8ae" stroke-opacity="0.25" stroke-width="0.9"/><use href="#ar0" transform="matrix(1 0 0 1.2795 0 -106.47)" stroke="#5fb8ae" stroke-opacity="0.22" stroke-width="0.9"/><use href="#ar0" transform="matrix(1 0 0 1.3329 0 -126.82)" stroke="#5fb8ae" stroke-opacity="0.15" stroke-width="0.9"/><use href="#ar0" transform="matrix(1 0 0 1.3765 0 -143.4)" stroke="#5fb8ae" stroke-opacity="0.2" stroke-width="0.9"/><use href="#ar0" transform="matrix(1 0 0 1.4 0 -152.36)" stroke="#5fb8ae" stroke-opacity="0.18" stroke-width="0.9"/><use href="#ar0" transform="matrix(1 0 0 1.4285 0 -163.22)" stroke="#5fb8ae" stroke-opacity="0.18" stroke-width="0.9"/></g>
<g transform="translate(316.8,0)" clip-path="url(#cp0)"><rect x="0" y="0" width="286.3" height="196.7" fill="url(#ab1)"/><use href="#ar1" y="8.4" stroke="#c4e8b5" stroke-opacity="0.65" stroke-width="24" filter="url(#bl6)"/><path d="M-38.2 -41.3L-38.2 51.6L6.8 60.6L8.8 61.2L10.8 61.8L12.8 61.6L14.7 61.7L16.7 64.6L18.7 66.2L20.7 66.1L22.7 66.6L24.7 67.4L26.7 68.2L28.6 69L30.6 68.7L32.6 68.5L34.6 69.2L36.6 71.5L38.6 72.5L40.6 73.1L42.5 73.5L44.5 73.4L46.5 73.7L48.5 73.7L50.5 74L52.5 74.4L54.5 74.7L56.4 74L58.4 73.4L60.4 74.9L62.4 77L64.4 81.3L66.4 83L68.4 82.7L70.3 82.8L72.3 83.2L74.3 82.6L76.3 82.6L78.3 83.8L80.3 85L82.2 85.4L84.2 85.1L86.2 85.1L88.2 86.2L90.2 87.1L92.2 89L94.2 89.7L96.1 90.3L98.1 91L100.1 91L102.1 90.9L104.1 90.9L106.1 92.4L108.1 93.3L110 93.2L112 92.3L114 91.8L116 92.4L118 93.1L120 93.6L122 93.9L123.9 94.9L125.9 96L127.9 96.3L129.9 96.2L131.9 97.1L133.9 97.9L135.9 97.9L137.8 101.9L139.8 103.7L141.8 104.2L143.8 105.1L145.8 105.5L147.8 104.9L149.8 104.2L151.7 104.3L153.7 104.7L155.7 105.8L157.7 106.6L159.7 106.4L161.7 105.1L163.7 106.5L165.6 107.8L167.6 108L169.6 107.6L171.6 107.4L173.6 109.1L175.6 110.2L177.6 111L179.5 111.2L181.5 110.8L183.5 110.4L185.5 111.5L187.5 112.8L189.5 112.4L191.5 114.3L193.4 115.7L195.4 116.9L197.4 117.4L199.4 116.5L201.4 116.2L203.4 117.1L205.4 117.2L207.3 117.9L209.3 118.2L211.3 118.2L213.3 120.3L215.3 122.1L217.3 122.9L219.2 123.6L221.2 123.4L223.2 122.9L225.2 122.9L227.2 123.3L229.2 123.2L231.2 124L233.1 124.5L235.1 127.5L237.1 129.4L239.1 129.5L241.1 129.2L243.1 128.9L245.1 128.6L247 128.7L249 128.7L251 129.2L253 129.5L255 130.4L257 131.4L259 131.7L260.9 132.3L262.9 132.6L264.9 132.9L266.9 133L268.9 133.1L270.9 133.2L272.9 133.4L274.8 133.8L276.8 134.8L278.8 135.1L280.8 135.4L325.8 144.4L325.8 -41.3Z" fill="url(#an1)"/><use href="#ar1" y="1.7" stroke="#5fb8ae" stroke-opacity="0.23" stroke-width="3.1" filter="url(#bl1)"/><use href="#ar1" stroke="#5fb8ae" stroke-opacity="0.5" stroke-width="1.3"/><use href="#ar1" transform="matrix(1 0 0 1.1473 0 -56.09)" stroke="#fcfedc" stroke-opacity="0.36" stroke-width="2.5513515498855552"/><use href="#ar1" transform="matrix(1 0 0 1.1362 0 -51.87)" stroke="#5fb8ae" stroke-opacity="0.36" stroke-width="0.9"/><use href="#ar1" transform="matrix(1 0 0 1.1297 0 -49.39)" stroke="#fcfedc" stroke-opacity="0.37" stroke-width="1.5103747493367368"/><use href="#ar1" transform="matrix(1 0 0 1.1241 0 -47.26)" stroke="#5fb8ae" stroke-opacity="0.46" stroke-width="0.9"/><use href="#ar1" transform="matrix(1 0 0 1.1162 0 -44.25)" stroke="#fcfedc" stroke-opacity="0.78" stroke-width="1.29849767802163"/><use href="#ar1" transform="matrix(1 0 0 1.1078 0 -41.07)" stroke="#5fb8ae" stroke-opacity="0.19" stroke-width="0.9"/><use href="#ar1" transform="matrix(1 0 0 1.095 0 -36.17)" stroke="#fcfedc" stroke-opacity="0.45" stroke-width="1.8603551693319464"/><use href="#ar1" transform="matrix(1 0 0 1.0899 0 -34.23)" stroke="#5fb8ae" stroke-opacity="0.44" stroke-width="0.9"/><use href="#ar1" transform="matrix(1 0 0 1.0808 0 -30.77)" stroke="#fcfedc" stroke-opacity="0.36" stroke-width="1.8022156510859886"/><use href="#ar1" transform="matrix(1 0 0 1.0731 0 -27.83)" stroke="#5fb8ae" stroke-opacity="0.2" stroke-width="0.9"/><use href="#ar1" transform="matrix(1 0 0 1.0606 0 -23.1)" stroke="#fcfedc" stroke-opacity="0.62" stroke-width="2.130707559007553"/><use href="#ar1" transform="matrix(1 0 0 1.0517 0 -19.7)" stroke="#5fb8ae" stroke-opacity="0.33" stroke-width="0.9"/><use href="#ar1" transform="matrix(1 0 0 1.0471 0 -17.93)" stroke="#fcfedc" stroke-opacity="0.48" stroke-width="1.766376205103521"/><use href="#ar1" transform="matrix(1 0 0 1.0364 0 -13.86)" stroke="#5fb8ae" stroke-opacity="0.15" stroke-width="0.9"/><use href="#ar1" transform="matrix(1 0 0 1.0295 0 -11.22)" stroke="#fcfedc" stroke-opacity="0.54" stroke-width="1.683719857885296"/><use href="#ar1" transform="matrix(1 0 0 1.0244 0 -9.28)" stroke="#5fb8ae" stroke-opacity="0.47" stroke-width="0.9"/><use href="#ar1" transform="matrix(1 0 0 1.016 0 -6.09)" stroke="#fcfedc" stroke-opacity="0.56" stroke-width="1.4147133900215567"/><use href="#ar1" transform="matrix(1 0 0 1.1952 0 -74.35)" stroke="#5fb8ae" stroke-opacity="0.2" stroke-width="0.9"/><use href="#ar1" transform="matrix(1 0 0 1.2203 0 -83.91)" stroke="#5fb8ae" stroke-opacity="0.2" stroke-width="0.9"/><use href="#ar1" transform="matrix(1 0 0 1.2309 0 -87.96)" stroke="#5fb8ae" stroke-opacity="0.2" stroke-width="0.9"/><use href="#ar1" transform="matrix(1 0 0 1.2676 0 -101.91)" stroke="#5fb8ae" stroke-opacity="0.2" stroke-width="0.9"/><use href="#ar1" transform="matrix(1 0 0 1.3003 0 -114.38)" stroke="#5fb8ae" stroke-opacity="0.2" stroke-width="0.9"/><use href="#ar1" transform="matrix(1 0 0 1.3179 0 -121.08)" stroke="#5fb8ae" stroke-opacity="0.2" stroke-width="0.9"/><use href="#ar1" transform="matrix(1 0 0 1.3657 0 -139.28)" stroke="#5fb8ae" stroke-opacity="0.2" stroke-width="0.9"/><use href="#ar1" transform="matrix(1 0 0 1.3822 0 -145.57)" stroke="#5fb8ae" stroke-opacity="0.2" stroke-width="0.9"/><use href="#ar1" transform="matrix(1 0 0 1.4254 0 -162.04)" stroke="#5fb8ae" stroke-opacity="0.2" stroke-width="0.9"/><use href="#ar1" transform="matrix(1 0 0 1.44 0 -167.59)" stroke="#5fb8ae" stroke-opacity="0.2" stroke-width="0.9"/><use href="#ar1" transform="matrix(1 0 0 1.4763 0 -181.42)" stroke="#5fb8ae" stroke-opacity="0.2" stroke-width="0.9"/><use href="#ar1" transform="matrix(1 0 0 1.5083 0 -193.62)" stroke="#5fb8ae" stroke-opacity="0.2" stroke-width="0.9"/><use href="#ar1" transform="matrix(1 0 0 1.5198 0 -197.99)" stroke="#5fb8ae" stroke-opacity="0.2" stroke-width="0.9"/><use href="#ar1" transform="matrix(1 0 0 1.1632 0 -62.18)" stroke="#5fb8ae" stroke-opacity="0.3" stroke-width="0.9"/><path d="M6.8 15.3L8.8 15.9L10.8 16.6L12.8 16.5L14.7 16.6L16.7 19.8L18.7 21.6L20.7 21.6L22.7 22.2L24.7 23L26.7 23.9L28.6 24.7L30.6 24.5L32.6 24.3L34.6 25.2L36.6 27.8L38.6 29L40.6 29.6L42.5 30L44.5 29.9L46.5 30.3L48.5 30.3L50.5 30.7L52.5 31.1L54.5 31.4L56.4 30.7L58.4 30.2L60.4 31.8L62.4 34.1L64.4 39L66.4 40.9L68.4 40.6L70.3 40.7" stroke="#fff" stroke-opacity="0.95" stroke-width="3.2" stroke-linecap="round" filter="url(#bl0)"/><path d="M18.7 26.8L20.7 26.7L22.7 27.3L24.7 28.1L26.7 28.9L28.6 29.8L30.6 29.6L32.6 29.4L34.6 30.2L36.6 32.8L38.6 34L40.6 34.6L42.5 35L44.5 34.9L46.5 35.3L48.5 35.3L50.5 35.7L52.5 36.1L54.5 36.4L56.4 35.7L58.4 35.1L60.4 36.7L62.4 39L64.4 43.8L66.4 45.7L68.4 45.5L70.3 45.5L72.3 46L74.3 45.4L76.3 45.4L78.3 46.6L80.3 47.8L82.2 48.4L84.2 48.2L86.2 48.2L88.2 49.3L90.2 50.3L92.2 52.4L94.2 53.3L96.1 53.9L98.1 54.6" stroke="#fff" stroke-opacity="0.75" stroke-width="2.0" stroke-linecap="round" filter="url(#bl0)"/><path d="M48.5 42.1L50.5 42.4L52.5 42.8L54.5 43.2L56.4 42.5L58.4 41.9L60.4 43.5L62.4 45.7L64.4 50.4L66.4 52.3L68.4 52L70.3 52.1L72.3 52.5L74.3 52L76.3 52L78.3 53.1L80.3 54.4L82.2 54.9L84.2 54.7L86.2 54.7L88.2 55.8L90.2 56.8L92.2 58.8L94.2 59.7L96.1 60.3L98.1 61L100.1 61.1L102.1 61.1L104.1 61L106.1 62.6L108.1 63.6L110 63.5L112 62.6L114 62.1L116 62.7L118 63.6L120 64L122 64.4L123.9 65.5L125.9 66.6L127.9 67L129.9 67" stroke="#fff" stroke-opacity="0.55" stroke-width="1.4" stroke-linecap="round" filter="url(#bl0)"/></g>
<g transform="translate(633.6,0)" clip-path="url(#cp0)"><rect x="0" y="0" width="286.3" height="196.7" fill="url(#ab2)"/><use href="#ar2" y="7.7" stroke="#b0e0b7" stroke-opacity="0.6" stroke-width="22" filter="url(#bl6)"/><path d="M-38.2 -41.3L-38.2 50.7L6.8 59.7L8.8 60.2L10.8 60.7L12.8 60.3L14.7 60.4L16.7 62.7L18.7 63.9L20.7 63.8L22.7 64.1L24.7 64.7L26.7 65.4L28.6 66.1L30.6 65.7L32.6 65.5L34.6 65.9L36.6 67.5L38.6 68.3L40.6 68.9L42.5 69.3L44.5 69.2L46.5 69.4L48.5 69.4L50.5 69.6L52.5 69.9L54.5 70.2L56.4 69.4L58.4 68.8L60.4 69.9L62.4 71.7L64.4 75.1L66.4 76.3L68.4 76L70.3 76L72.3 76.4L74.3 75.8L76.3 75.7L78.3 76.8L80.3 78L82.2 78.2L84.2 77.7L86.2 77.7L88.2 78.8L90.2 79.6L92.2 80.9L94.2 81.4L96.1 81.8L98.1 82.4L100.1 82.3L102.1 82.2L104.1 82.1L106.1 83.4L108.1 84.1L110 84L112 83.1L114 82.6L116 83L118 83.7L120 84.1L122 84.4L123.9 85.2L125.9 86L127.9 86.3L129.9 86.1L131.9 86.8L133.9 87.5L135.9 87.5L137.8 90.5L139.8 91.7L141.8 92.2L143.8 93.1L145.8 93.4L147.8 92.8L149.8 92.1L151.7 92.2L153.7 92.5L155.7 93.6L157.7 94.3L159.7 94L161.7 92.6L163.7 93.8L165.6 95L167.6 95.1L169.6 94.7L171.6 94.5L173.6 96L175.6 97.1L177.6 97.8L179.5 97.7L181.5 97.2L183.5 96.8L185.5 97.6L187.5 98.7L189.5 98.3L191.5 99.7L193.4 100.9L195.4 102.2L197.4 102.5L199.4 101.5L201.4 101.3L203.4 102.1L205.4 102.3L207.3 102.7L209.3 102.8L211.3 102.8L213.3 104.4L215.3 106L217.3 106.7L219.2 107.4L221.2 107.2L223.2 106.7L225.2 106.6L227.2 106.8L229.2 106.7L231.2 107.2L233.1 107.7L235.1 110.3L237.1 111.9L239.1 112L241.1 111.7L243.1 111.4L245.1 111L247 111.1L249 111.1L251 111.3L253 111.4L255 112.2L257 113.2L259 113.5L260.9 114L262.9 114.3L264.9 114.6L266.9 114.7L268.9 114.7L270.9 114.5L272.9 114.6L274.8 115.1L276.8 116L278.8 116.2L280.8 116.5L325.8 125.5L325.8 -41.3Z" fill="url(#an2)"/><use href="#ar2" y="1.7" stroke="#5fb8ae" stroke-opacity="0.19" stroke-width="3.1" filter="url(#bl1)"/><use href="#ar2" stroke="#5fb8ae" stroke-opacity="0.42" stroke-width="1.3"/><use href="#ar2" transform="matrix(1 0 0 1.1356 0 -51.63)" stroke="#fcfedc" stroke-opacity="0.47" stroke-width="1.437560151339934"/><use href="#ar2" transform="matrix(1 0 0 1.1206 0 -45.93)" stroke="#5fb8ae" stroke-opacity="0.34" stroke-width="0.9"/><use href="#ar2" transform="matrix(1 0 0 1.1136 0 -43.27)" stroke="#fcfedc" stroke-opacity="0.47" stroke-width="1.9927534119325796"/><use href="#ar2" transform="matrix(1 0 0 1.1067 0 -40.65)" stroke="#5fb8ae" stroke-opacity="0.31" stroke-width="0.9"/><use href="#ar2" transform="matrix(1 0 0 1.0916 0 -34.91)" stroke="#fcfedc" stroke-opacity="0.43" stroke-width="2.4312470783254887"/><use href="#ar2" transform="matrix(1 0 0 1.0807 0 -30.73)" stroke="#5fb8ae" stroke-opacity="0.26" stroke-width="0.9"/><use href="#ar2" transform="matrix(1 0 0 1.0753 0 -28.68)" stroke="#fcfedc" stroke-opacity="0.26" stroke-width="2.334282439008431"/><use href="#ar2" transform="matrix(1 0 0 1.0612 0 -23.33)" stroke="#5fb8ae" stroke-opacity="0.34" stroke-width="0.9"/><use href="#ar2" transform="matrix(1 0 0 1.0535 0 -20.39)" stroke="#fcfedc" stroke-opacity="0.42" stroke-width="1.5108345896004378"/><use href="#ar2" transform="matrix(1 0 0 1.0428 0 -16.31)" stroke="#5fb8ae" stroke-opacity="0.17" stroke-width="0.9"/><use href="#ar2" transform="matrix(1 0 0 1.0321 0 -12.22)" stroke="#fcfedc" stroke-opacity="0.48" stroke-width="2.1384101636401667"/><use href="#ar2" transform="matrix(1 0 0 1.0255 0 -9.71)" stroke="#5fb8ae" stroke-opacity="0.15" stroke-width="0.9"/><use href="#ar2" transform="matrix(1 0 0 1.0148 0 -5.64)" stroke="#fcfedc" stroke-opacity="0.5" stroke-width="1.9138795465109544"/><use href="#ar2" transform="matrix(1 0 0 1.2598 0 -98.97)" stroke="#5fb8ae" stroke-opacity="0.45" stroke-width="1"/><use href="#ar2" transform="matrix(1 0 0 1.3499 0 -133.29)" stroke="#5fb8ae" stroke-opacity="0.3" stroke-width="0.9"/><use href="#ar2" transform="matrix(1 0 0 1.398 0 -151.6)" stroke="#5fb8ae" stroke-opacity="0.2" stroke-width="0.9"/><use href="#ar2" transform="matrix(1 0 0 1.1584 0 -60.32)" stroke="#5fb8ae" stroke-opacity="0.2" stroke-width="0.9"/><path d="M6.8 14.4L8.8 14.9L10.8 15.5L12.8 15.2L14.7 15.3L16.7 17.8L18.7 19.2L20.7 19.1L22.7 19.4L24.7 20.1L26.7 20.9L28.6 21.6L30.6 21.3L32.6 21L34.6 21.6L36.6 23.4" stroke="#fff" stroke-opacity="0.9" stroke-width="3.0" stroke-linecap="round" filter="url(#bl0)"/><path d="M16.7 22.4L18.7 23.8L20.7 23.8L22.7 24.1L24.7 24.7L26.7 25.5L28.6 26.2L30.6 25.9L32.6 25.6L34.6 26.2L36.6 28L38.6 28.9L40.6 29.5L42.5 29.9L44.5 29.8L46.5 30.1L48.5 30L50.5 30.3" stroke="#fff" stroke-opacity="0.6" stroke-width="1.6" stroke-linecap="round" filter="url(#bl0)"/></g>
<g transform="translate(0,229)" clip-path="url(#cp0)"><rect x="0" y="0" width="286.3" height="196.7" fill="url(#ab3)"/></g>
<g transform="translate(316.8,229)" clip-path="url(#cp0)"><rect x="0" y="0" width="286.3" height="196.7" fill="url(#ab4)"/><path d="M-38.2 -41.3L-38.2 49.3L6.8 58.3L8.8 58.8L10.8 59.4L12.8 59.1L14.7 59.2L16.7 61.9L18.7 63.4L20.7 63.3L22.7 63.7L24.7 64.4L26.7 65.2L28.6 65.9L30.6 65.6L32.6 65.4L34.6 66L36.6 68L38.6 69L40.6 69.6L42.5 70L44.5 69.9L46.5 70.2L48.5 70.2L50.5 70.5L52.5 70.8L54.5 71.1L56.4 70.4L58.4 69.8L60.4 71.1L62.4 73.1L64.4 77.1L66.4 78.6L68.4 78.3L70.3 78.4L72.3 78.8L74.3 78.2L76.3 78.1L78.3 79.3L80.3 80.5L82.2 80.9L84.2 80.5L86.2 80.5L88.2 81.6L90.2 82.5L92.2 84.1L94.2 84.8L96.1 85.3L98.1 86L100.1 85.9L102.1 85.8L104.1 85.8L106.1 87.2L108.1 88.1L110 88L112 87.1L114 86.5L116 87.1L118 87.8L120 88.2L122 88.6L123.9 89.5L125.9 90.5L127.9 90.8L129.9 90.7L131.9 91.5L133.9 92.2L135.9 92.2L137.8 95.9L139.8 97.5L141.8 98L143.8 98.9L145.8 99.3L147.8 98.7L149.8 98L151.7 98.1L153.7 98.5L155.7 99.5L157.7 100.3L159.7 100.1L161.7 98.7L163.7 100.1L165.6 101.4L167.6 101.5L169.6 101.1L171.6 100.9L173.6 102.5L175.6 103.6L177.6 104.4L179.5 104.5L181.5 104.1L183.5 103.7L185.5 104.7L187.5 105.9L189.5 105.5L191.5 107.2L193.4 108.5L195.4 109.8L197.4 110.2L199.4 109.3L201.4 109.1L203.4 109.9L205.4 110L207.3 110.6L209.3 110.9L211.3 110.8L213.3 112.8L215.3 114.5L217.3 115.3L219.2 116L221.2 115.8L223.2 115.3L225.2 115.3L227.2 115.6L229.2 115.5L231.2 116.2L233.1 116.7L235.1 119.6L237.1 121.3L239.1 121.5L241.1 121.2L243.1 120.8L245.1 120.5L247 120.7L249 120.7L251 121.1L253 121.2L255 122.1L257 123.1L259 123.4L260.9 124L262.9 124.3L264.9 124.6L266.9 124.7L268.9 124.8L270.9 124.8L272.9 124.9L274.8 125.4L276.8 126.3L278.8 126.6L280.8 126.9L325.8 135.9L325.8 -41.3Z" fill="url(#an4)" filter="url(#bl3)"/><use href="#ar4" y="1.7" stroke="#5fb8ae" stroke-opacity="0.18" stroke-width="2.6" filter="url(#bl1)"/><use href="#ar4" stroke="#5fb8ae" stroke-opacity="0.4" stroke-width="1.1"/><use href="#ar4" transform="matrix(1 0 0 1.0978 0 -37.26)" stroke="#5fb8ae" stroke-opacity="0.3" stroke-width="0.9"/><use href="#ar4" transform="matrix(1 0 0 1.0453 0 -17.24)" stroke="#5fb8ae" stroke-opacity="0.2" stroke-width="0.9"/><use href="#ar4" transform="matrix(1 0 0 1.1387 0 -52.83)" stroke="#5fb8ae" stroke-opacity="0.15" stroke-width="0.9"/><use href="#ar4" transform="matrix(1 0 0 1.1941 0 -73.94)" stroke="#5fb8ae" stroke-opacity="0.17" stroke-width="0.9"/><use href="#ar4" transform="matrix(1 0 0 1.2459 0 -93.67)" stroke="#5fb8ae" stroke-opacity="0.17" stroke-width="0.9"/><use href="#ar4" transform="matrix(1 0 0 1.2779 0 -105.85)" stroke="#5fb8ae" stroke-opacity="0.17" stroke-width="0.9"/><use href="#ar4" transform="matrix(1 0 0 1.3047 0 -116.06)" stroke="#5fb8ae" stroke-opacity="0.17" stroke-width="0.9"/><use href="#ar4" transform="matrix(1 0 0 1.3512 0 -133.75)" stroke="#5fb8ae" stroke-opacity="0.17" stroke-width="0.9"/><use href="#ar4" transform="matrix(1 0 0 1.3974 0 -151.36)" stroke="#5fb8ae" stroke-opacity="0.17" stroke-width="0.9"/><use href="#ar4" transform="matrix(1 0 0 1.4478 0 -170.58)" stroke="#5fb8ae" stroke-opacity="0.17" stroke-width="0.9"/><use href="#ar4" transform="matrix(1 0 0 1.4667 0 -177.76)" stroke="#5fb8ae" stroke-opacity="0.17" stroke-width="0.9"/></g>
<g transform="translate(633.6,229)" clip-path="url(#cp0)"><rect x="0" y="0" width="286.3" height="196.7" fill="url(#ab5)"/><use href="#ar5" y="8.4" stroke="#c4e8b5" stroke-opacity="0.65" stroke-width="24" filter="url(#bl6)"/><path d="M-38.2 -41.3L-38.2 47.8L6.8 56.8L8.8 57.4L10.8 58.2L12.8 58.1L14.7 58.2L16.7 61.8L18.7 63.8L20.7 63.7L22.7 64.4L24.7 65.3L26.7 66.2L28.6 67.1L30.6 66.9L32.6 66.8L34.6 67.8L36.6 70.7L38.6 72L40.6 72.6L42.5 73L44.5 72.9L46.5 73.3L48.5 73.4L50.5 73.8L52.5 74.2L54.5 74.6L56.4 73.9L58.4 73.4L60.4 75.1L62.4 77.6L64.4 82.8L66.4 84.9L68.4 84.7L70.3 84.8L72.3 85.3L74.3 84.7L76.3 84.7L78.3 85.9L80.3 87.2L82.2 87.9L84.2 87.7L86.2 87.7L88.2 88.9L90.2 89.9L92.2 92.2L94.2 93.2L96.1 93.9L98.1 94.7L100.1 94.8L102.1 94.8L104.1 94.9L106.1 96.5L108.1 97.6L110 97.5L112 96.6L114 96.1L116 96.9L118 97.7L120 98.2L122 98.6L123.9 99.8L125.9 101.1L127.9 101.5L129.9 101.4L131.9 102.4L133.9 103.3L135.9 103.4L137.8 108.4L139.8 110.7L141.8 111.2L143.8 112.2L145.8 112.6L147.8 112L149.8 111.3L151.7 111.4L153.7 111.9L155.7 112.9L157.7 113.9L159.7 113.7L161.7 112.4L163.7 114.1L165.6 115.6L167.6 115.8L169.6 115.4L171.6 115.3L173.6 117.1L175.6 118.2L177.6 119.1L179.5 119.6L181.5 119.3L183.5 119L185.5 120.3L187.5 121.7L189.5 121.4L191.5 123.6L193.4 125.2L195.4 126.5L197.4 127L199.4 126.2L201.4 125.9L203.4 126.8L205.4 126.9L207.3 127.9L209.3 128.3L211.3 128.3L213.3 130.9L215.3 132.9L217.3 133.7L219.2 134.4L221.2 134.2L223.2 133.7L225.2 133.9L227.2 134.4L229.2 134.3L231.2 135.3L233.1 136L235.1 139.3L237.1 141.4L239.1 141.5L241.1 141.2L243.1 140.9L245.1 140.7L247 140.9L249 140.9L251 141.6L253 141.9L255 142.9L257 144L259 144.3L260.9 145L262.9 145.4L264.9 145.6L266.9 145.8L268.9 145.9L270.9 146.2L272.9 146.5L274.8 146.9L276.8 147.9L278.8 148.2L280.8 148.6L325.8 157.6L325.8 -41.3Z" fill="url(#an5)"/><use href="#ar5" y="1.7" stroke="#5fb8ae" stroke-opacity="0.25" stroke-width="3.1" filter="url(#bl1)"/><use href="#ar5" stroke="#5fb8ae" stroke-opacity="0.55" stroke-width="1.3"/><use href="#ar5" transform="matrix(1 0 0 1.1231 0 -46.89)" stroke="#fcfedc" stroke-opacity="0.44" stroke-width="2.307013123868396"/><use href="#ar5" transform="matrix(1 0 0 1.1144 0 -43.58)" stroke="#5fb8ae" stroke-opacity="0.29" stroke-width="0.9"/><use href="#ar5" transform="matrix(1 0 0 1.1076 0 -41)" stroke="#fcfedc" stroke-opacity="0.43" stroke-width="1.4293039678762711"/><use href="#ar5" transform="matrix(1 0 0 1.1026 0 -39.07)" stroke="#5fb8ae" stroke-opacity="0.49" stroke-width="0.9"/><use href="#ar5" transform="matrix(1 0 0 1.0959 0 -36.53)" stroke="#fcfedc" stroke-opacity="0.61" stroke-width="1.6917690150693458"/><use href="#ar5" transform="matrix(1 0 0 1.0876 0 -33.37)" stroke="#5fb8ae" stroke-opacity="0.34" stroke-width="0.9"/><use href="#ar5" transform="matrix(1 0 0 1.0779 0 -29.66)" stroke="#fcfedc" stroke-opacity="0.5" stroke-width="2.433574648355239"/><use href="#ar5" transform="matrix(1 0 0 1.0658 0 -25.07)" stroke="#5fb8ae" stroke-opacity="0.25" stroke-width="0.9"/><use href="#ar5" transform="matrix(1 0 0 1.0572 0 -21.78)" stroke="#fcfedc" stroke-opacity="0.59" stroke-width="2.543643642073088"/><use href="#ar5" transform="matrix(1 0 0 1.0503 0 -19.16)" stroke="#5fb8ae" stroke-opacity="0.39" stroke-width="0.9"/><use href="#ar5" transform="matrix(1 0 0 1.0463 0 -17.64)" stroke="#fcfedc" stroke-opacity="0.76" stroke-width="2.598800173059245"/><use href="#ar5" transform="matrix(1 0 0 1.0354 0 -13.49)" stroke="#5fb8ae" stroke-opacity="0.2" stroke-width="0.9"/><use href="#ar5" transform="matrix(1 0 0 1.0258 0 -9.84)" stroke="#fcfedc" stroke-opacity="0.67" stroke-width="2.4317166317986656"/><use href="#ar5" transform="matrix(1 0 0 1.0166 0 -6.31)" stroke="#5fb8ae" stroke-opacity="0.59" stroke-width="0.9"/><use href="#ar5" transform="matrix(1 0 0 1.0102 0 -3.88)" stroke="#fcfedc" stroke-opacity="0.47" stroke-width="1.9450820969854141"/><use href="#ar5" transform="matrix(1 0 0 1.1935 0 -73.7)" stroke="#5fb8ae" stroke-opacity="0.28" stroke-width="0.9"/><use href="#ar5" transform="matrix(1 0 0 1.227 0 -86.47)" stroke="#5fb8ae" stroke-opacity="0.28" stroke-width="0.9"/><use href="#ar5" transform="matrix(1 0 0 1.2839 0 -108.16)" stroke="#5fb8ae" stroke-opacity="0.28" stroke-width="0.9"/><use href="#ar5" transform="matrix(1 0 0 1.3275 0 -124.74)" stroke="#5fb8ae" stroke-opacity="0.28" stroke-width="0.9"/><use href="#ar5" transform="matrix(1 0 0 1.3996 0 -152.19)" stroke="#5fb8ae" stroke-opacity="0.28" stroke-width="0.9"/><use href="#ar5" transform="matrix(1 0 0 1.4296 0 -163.62)" stroke="#5fb8ae" stroke-opacity="0.28" stroke-width="0.9"/><use href="#ar5" transform="matrix(1 0 0 1.4928 0 -187.73)" stroke="#5fb8ae" stroke-opacity="0.28" stroke-width="0.9"/><use href="#ar5" transform="matrix(1 0 0 1.5601 0 -213.36)" stroke="#5fb8ae" stroke-opacity="0.28" stroke-width="0.9"/><use href="#ar5" transform="matrix(1 0 0 1.5947 0 -226.51)" stroke="#5fb8ae" stroke-opacity="0.28" stroke-width="0.9"/><use href="#ar5" transform="matrix(1 0 0 1.1483 0 -56.47)" stroke="#5fb8ae" stroke-opacity="0.3" stroke-width="0.9"/><path d="M6.8 16.3L8.8 16.8L10.8 17.8L12.8 17.7L14.7 17.9L16.7 21.8L18.7 24L20.7 24L22.7 24.9L24.7 25.8L26.7 26.7L28.6 27.7L30.6 27.6L32.6 27.5L34.6 28.6L36.6 32L38.6 33.4L40.6 34L42.5 34.4L44.5 34.4L46.5 34.8L48.5 34.9L50.5 35.4L52.5 35.9L54.5 36.2L56.4 35.6L58.4 35L60.4 37L62.4 39.7L64.4 45.5L66.4 47.9L68.4 47.7L70.3 47.8L72.3 48.3L74.3 47.8L76.3 47.8L78.3 49L80.3 50.3L82.2 51.2L84.2 51.1L86.2 51.1L88.2 52.3L90.2 53.4L92.2 56L94.2 57.2L96.1 58L98.1 58.8L100.1 59L102.1 59.1L104.1 59.1L106.1 60.9" stroke="#fff" stroke-opacity="0.95" stroke-width="2.8" stroke-linecap="round" filter="url(#bl0)"/><path d="M104.1 59.1L106.1 60.9L108.1 62L110 62L112 61.1L114 60.6L116 61.5L118 62.4L120 62.9L122 63.3L123.9 64.6L125.9 66L127.9 66.5L129.9 66.5L131.9 67.6L133.9 68.6L135.9 68.6L137.8 74.3L139.8 77L141.8 77.6L143.8 78.5L145.8 78.9L147.8 78.3L149.8 77.7L151.7 77.8L153.7 78.3L155.7 79.3" stroke="#fff" stroke-opacity="0.6" stroke-width="1.8" stroke-linecap="round" filter="url(#bl0)"/><path d="M6.8 21L8.8 21.6L10.8 22.5L12.8 22.4L14.7 22.6L16.7 26.4L18.7 28.6L20.7 28.6L22.7 29.5L24.7 30.4L26.7 31.3L28.6 32.3L30.6 32.2L32.6 32L34.6 33.2L36.6 36.5L38.6 37.9L40.6 38.5L42.5 38.9L44.5 38.8L46.5 39.3L48.5 39.4L50.5 39.8L52.5 40.3L54.5 40.7L56.4 40L58.4 39.5L60.4 41.4L62.4 44.1L64.4 49.8L66.4 52.2" stroke="#fff" stroke-opacity="0.8" stroke-width="2.2" stroke-linecap="round" filter="url(#bl0)"/><path d="M32.6 35.7L34.6 36.8L36.6 40.1L38.6 41.4L40.6 42.1L42.5 42.5L44.5 42.4L46.5 42.9L48.5 43L50.5 43.4L52.5 43.9L54.5 44.3L56.4 43.6L58.4 43.1L60.4 45L62.4 47.6L64.4 53.3L66.4 55.6L68.4 55.4L70.3 55.5L72.3 56L74.3 55.5L76.3 55.5L78.3 56.7L80.3 58L82.2 58.9L84.2 58.8L86.2 58.8L88.2 60L90.2 61L92.2 63.6L94.2 64.8L96.1 65.5L98.1 66.4L100.1 66.5L102.1 66.6L104.1 66.6L106.1 68.4L108.1 69.5L110 69.4L112 68.5L114 68L116 68.9L118 69.8L120 70.3" stroke="#fff" stroke-opacity="0.55" stroke-width="1.4" stroke-linecap="round" filter="url(#bl0)"/></g>
<g transform="translate(0,458.3)" clip-path="url(#cp2)"><rect x="0" y="0" width="286.3" height="234.3" fill="url(#ab6)"/><path d="M-38.2 -41.3L-38.2 37.9L6.8 46.9L8.8 47.5L10.8 48.4L12.8 48.3L14.7 48.5L16.7 52.4L18.7 54.6L20.7 54.5L22.7 55.4L24.7 56.3L26.7 57.2L28.6 58.2L30.6 58.1L32.6 58L34.6 59.2L36.6 62.5L38.6 63.8L40.6 64.5L42.5 64.9L44.5 64.8L46.5 65.3L48.5 65.4L50.5 65.8L52.5 66.3L54.5 66.7L56.4 66L58.4 65.5L60.4 67.5L62.4 70.1L64.4 75.9L66.4 78.3L68.4 78.1L70.3 78.2L72.3 78.7L74.3 78.2L76.3 78.2L78.3 79.5L80.3 80.8L82.2 81.6L84.2 81.6L86.2 81.6L88.2 82.8L90.2 83.9L92.2 86.5L94.2 87.7L96.1 88.5L98.1 89.3L100.1 89.5L102.1 89.6L104.1 89.6L106.1 91.4L108.1 92.5L110 92.5L112 91.6L114 91.1L116 92L118 92.9L120 93.4L122 93.8L123.9 95.1L125.9 96.6L127.9 97.1L129.9 97.1L131.9 98.2L133.9 99.1L135.9 99.2L137.8 104.9L139.8 107.6L141.8 108.2L143.8 109.1L145.8 109.6L147.8 109L149.8 108.4L151.7 108.5L153.7 108.9L155.7 110L157.7 111.1L159.7 111L161.7 109.6L163.7 111.6L165.6 113.2L167.6 113.4L169.6 113L171.6 112.9L173.6 114.8L175.6 116L177.6 116.9L179.5 117.6L181.5 117.5L183.5 117.1L185.5 118.7L187.5 120.2L189.5 119.9L191.5 122.4L193.4 124.2L195.4 125.5L197.4 126.1L199.4 125.3L201.4 125.1L203.4 125.9L205.4 126L207.3 127.3L209.3 127.8L211.3 127.8L213.3 130.7L215.3 133L217.3 133.8L219.2 134.5L221.2 134.3L223.2 133.8L225.2 134.2L227.2 134.8L229.2 134.7L231.2 135.8L233.1 136.6L235.1 140.3L237.1 142.5L239.1 142.7L241.1 142.4L243.1 142.2L245.1 141.9L247 142.2L249 142.2L251 143.1L253 143.5L255 144.7L257 145.8L259 146.1L260.9 146.8L262.9 147.2L264.9 147.5L266.9 147.7L268.9 147.9L270.9 148.3L272.9 148.7L274.8 149.2L276.8 150.3L278.8 150.6L280.8 150.9L325.8 159.9L325.8 -41.3Z" fill="url(#an6)" filter="url(#bl9)"/><path d="M6.8 16.4L8.8 17L10.8 18L12.8 18L14.7 18.1L16.7 22.3L18.7 24.6L20.7 24.6L22.7 25.6L24.7 26.6L26.7 27.5L28.6 28.5L30.6 28.5L32.6 28.3" stroke="#fff" stroke-opacity="0.95" stroke-width="4.2" stroke-linecap="round" filter="url(#bl0)"/><path d="M6.8 26.6L8.8 27.2L10.8 28.1L12.8 28.1L14.7 28.3L16.7 32.3L18.7 34.6L20.7 34.6L22.7 35.5L24.7 36.5L26.7 37.4L28.6 38.4L30.6 38.3L32.6 38.2L34.6 39.5L36.6 43L38.6 44.4L40.6 45.1L42.5 45.5L44.5 45.4L46.5 45.9L48.5 46L50.5 46.5L52.5 47L54.5 47.4L56.4 46.7L58.4 46.2L60.4 48.2L62.4 51L64.4 57.1L66.4 59.6" stroke="#fff" stroke-opacity="0.4" stroke-width="3" stroke-linecap="round" filter="url(#bl1)"/><path d="M6.8 35.6L8.8 36.2L10.8 37.1L12.8 37.1L14.7 37.2L16.7 41.2L18.7 43.5L20.7 43.5L22.7 44.3L24.7 45.3L26.7 46.2L28.6 47.2L30.6 47.1L32.6 47L34.6 48.2L36.6 51.6L38.6 53.1L40.6 53.7L42.5 54.1L44.5 54L46.5 54.5L48.5 54.6L50.5 55.1L52.5 55.6L54.5 56L56.4 55.3L58.4 54.8L60.4 56.8L62.4 59.5L64.4 65.4L66.4 67.9L68.4 67.7L70.3 67.8L72.3 68.3L74.3 67.8L76.3 67.9L78.3 69.1L80.3 70.4L82.2 71.3L84.2 71.3" stroke="#fff" stroke-opacity="0.33" stroke-width="3" stroke-linecap="round" filter="url(#bl1)"/><path d="M6.8 44.6L8.8 45.2L10.8 46.1L12.8 46.1L14.7 46.2L16.7 50.1L18.7 52.3L20.7 52.3L22.7 53.2L24.7 54.1L26.7 55L28.6 56L30.6 55.9L32.6 55.8L34.6 57L36.6 60.3L38.6 61.7L40.6 62.4L42.5 62.7L44.5 62.7L46.5 63.1L48.5 63.2L50.5 63.7L52.5 64.2L54.5 64.6L56.4 63.9L58.4 63.4L60.4 65.3L62.4 68L64.4 73.8L66.4 76.2L68.4 76L70.3 76.1L72.3 76.7L74.3 76.1L76.3 76.2L78.3 77.4L80.3 78.7L82.2 79.6L84.2 79.5L86.2 79.5L88.2 80.7L90.2 81.8L92.2 84.4L94.2 85.7L96.1 86.4" stroke="#fff" stroke-opacity="0.28" stroke-width="3" stroke-linecap="round" filter="url(#bl1)"/><path d="M6.8 53.7L8.8 54.2L10.8 55.1L12.8 55.1L14.7 55.2L16.7 59L18.7 61.2L20.7 61.2L22.7 62L24.7 63L26.7 63.9L28.6 64.8L30.6 64.7L32.6 64.6L34.6 65.7L36.6 69L38.6 70.3L40.6 71L42.5 71.4L44.5 71.3L46.5 71.7L48.5 71.8L50.5 72.3L52.5 72.8L54.5 73.2L56.4 72.5L58.4 72L60.4 73.9L62.4 76.5L64.4 82.2L66.4 84.6L68.4 84.4L70.3 84.5L72.3 85L74.3 84.5L76.3 84.5L78.3 85.7L80.3 87L82.2 87.8L84.2 87.7L86.2 87.8L88.2 89L90.2 90L92.2 92.6L94.2 93.8L96.1 94.5L98.1 95.4L100.1 95.6L102.1 95.6L104.1 95.7L106.1 97.4" stroke="#fff" stroke-opacity="0.22" stroke-width="3" stroke-linecap="round" filter="url(#bl1)"/><path d="M6.8 62.7L8.8 63.2L10.8 64.1L12.8 64.1L14.7 64.2L16.7 67.9L18.7 70.1L20.7 70.1L22.7 70.8L24.7 71.8L26.7 72.7L28.6 73.6L30.6 73.5L32.6 73.3L34.6 74.5L36.6 77.6L38.6 79L40.6 79.6L42.5 80L44.5 79.9L46.5 80.4L48.5 80.5L50.5 80.9L52.5 81.4L54.5 81.7L56.4 81.1L58.4 80.5L60.4 82.4L62.4 85L64.4 90.6L66.4 92.9L68.4 92.7L70.3 92.8L72.3 93.3L74.3 92.8L76.3 92.8L78.3 94L80.3 95.3L82.2 96.1L84.2 96L86.2 96L88.2 97.2L90.2 98.3L92.2 100.8L94.2 101.9L96.1 102.7L98.1 103.5L100.1 103.6L102.1 103.7L104.1 103.7L106.1 105.5L108.1 106.6L110 106.5" stroke="#fff" stroke-opacity="0.17" stroke-width="3" stroke-linecap="round" filter="url(#bl1)"/></g>
<g transform="translate(316.8,458.3)" clip-path="url(#cp2)"><rect x="0" y="0" width="286.3" height="234.3" fill="url(#ab7)"/><use href="#ar7" y="9.8" stroke="#c4e8b5" stroke-opacity="0.65" stroke-width="28" filter="url(#bl6)"/><path d="M-38.2 -41.3L-38.2 62.7L6.8 71.7L8.8 72.3L10.8 73.1L12.8 72.9L14.7 73.1L16.7 76.5L18.7 78.5L20.7 78.4L22.7 79.1L24.7 80L26.7 80.8L28.6 81.7L30.6 81.5L32.6 81.4L34.6 82.4L36.6 85.2L38.6 86.4L40.6 87.1L42.5 87.5L44.5 87.4L46.5 87.8L48.5 87.9L50.5 88.2L52.5 88.7L54.5 89L56.4 88.3L58.4 87.8L60.4 89.5L62.4 92L64.4 97.1L66.4 99.2L68.4 99L70.3 99L72.3 99.5L74.3 99L76.3 99L78.3 100.2L80.3 101.5L82.2 102.1L84.2 102L86.2 102L88.2 103.1L90.2 104.1L92.2 106.4L94.2 107.4L96.1 108.1L98.1 108.9L100.1 109L102.1 109L104.1 109L106.1 110.7L108.1 111.7L110 111.7L112 110.8L114 110.3L116 111L118 111.9L120 112.4L122 112.7L123.9 113.9L125.9 115.2L127.9 115.6L129.9 115.6L131.9 116.6L133.9 117.5L135.9 117.5L137.8 122.5L139.8 124.8L141.8 125.4L143.8 126.3L145.8 126.8L147.8 126.1L149.8 125.5L151.7 125.6L153.7 126L155.7 127.1L157.7 128.1L159.7 127.9L161.7 126.6L163.7 128.3L165.6 129.8L167.6 130L169.6 129.6L171.6 129.5L173.6 131.2L175.6 132.4L177.6 133.3L179.5 133.8L181.5 133.5L183.5 133.2L185.5 134.6L187.5 135.9L189.5 135.6L191.5 137.9L193.4 139.5L195.4 140.8L197.4 141.3L199.4 140.5L201.4 140.2L203.4 141.1L205.4 141.2L207.3 142.2L209.3 142.7L211.3 142.6L213.3 145.3L215.3 147.3L217.3 148.1L219.2 148.8L221.2 148.6L223.2 148.1L225.2 148.4L227.2 148.8L229.2 148.7L231.2 149.7L233.1 150.4L235.1 153.8L237.1 155.9L239.1 156L241.1 155.8L243.1 155.5L245.1 155.2L247 155.4L249 155.5L251 156.2L253 156.5L255 157.6L257 158.7L259 159L260.9 159.6L262.9 160L264.9 160.3L266.9 160.5L268.9 160.6L270.9 160.9L272.9 161.2L274.8 161.7L276.8 162.7L278.8 163L280.8 163.3L325.8 172.3L325.8 -41.3Z" fill="url(#an7)"/><use href="#ar7" y="1.7" stroke="#5fb8ae" stroke-opacity="0.23" stroke-width="3.1" filter="url(#bl1)"/><use href="#ar7" stroke="#5fb8ae" stroke-opacity="0.5" stroke-width="1.3"/><use href="#ar7" transform="matrix(1 0 0 1.1469 0 -66.81)" stroke="#fcfedc" stroke-opacity="0.57" stroke-width="2.5611934096959112"/><use href="#ar7" transform="matrix(1 0 0 1.1348 0 -61.31)" stroke="#5fb8ae" stroke-opacity="0.37" stroke-width="0.9"/><use href="#ar7" transform="matrix(1 0 0 1.1287 0 -58.56)" stroke="#fcfedc" stroke-opacity="0.33" stroke-width="2.5982355710981357"/><use href="#ar7" transform="matrix(1 0 0 1.1164 0 -52.93)" stroke="#5fb8ae" stroke-opacity="0.26" stroke-width="0.9"/><use href="#ar7" transform="matrix(1 0 0 1.1088 0 -49.5)" stroke="#fcfedc" stroke-opacity="0.64" stroke-width="2.469490420041411"/><use href="#ar7" transform="matrix(1 0 0 1.1025 0 -46.62)" stroke="#5fb8ae" stroke-opacity="0.29" stroke-width="0.9"/><use href="#ar7" transform="matrix(1 0 0 1.0944 0 -42.94)" stroke="#fcfedc" stroke-opacity="0.57" stroke-width="2.4907748923795907"/><use href="#ar7" transform="matrix(1 0 0 1.0812 0 -36.95)" stroke="#5fb8ae" stroke-opacity="0.21" stroke-width="0.9"/><use href="#ar7" transform="matrix(1 0 0 1.0753 0 -34.25)" stroke="#fcfedc" stroke-opacity="0.29" stroke-width="1.4252885661174395"/><use href="#ar7" transform="matrix(1 0 0 1.0655 0 -29.79)" stroke="#5fb8ae" stroke-opacity="0.22" stroke-width="0.9"/><use href="#ar7" transform="matrix(1 0 0 1.0584 0 -26.58)" stroke="#fcfedc" stroke-opacity="0.38" stroke-width="1.7914272383452334"/><use href="#ar7" transform="matrix(1 0 0 1.045 0 -20.46)" stroke="#5fb8ae" stroke-opacity="0.26" stroke-width="0.9"/><use href="#ar7" transform="matrix(1 0 0 1.0381 0 -17.32)" stroke="#fcfedc" stroke-opacity="0.47" stroke-width="1.6081150213508852"/><use href="#ar7" transform="matrix(1 0 0 1.0317 0 -14.44)" stroke="#5fb8ae" stroke-opacity="0.5" stroke-width="0.9"/><use href="#ar7" transform="matrix(1 0 0 1.0186 0 -8.46)" stroke="#fcfedc" stroke-opacity="0.65" stroke-width="2.4444209842403364"/><use href="#ar7" transform="matrix(1 0 0 1.0107 0 -4.86)" stroke="#5fb8ae" stroke-opacity="0.28" stroke-width="0.9"/><use href="#ar7" transform="matrix(1 0 0 1.1963 0 -89.31)" stroke="#5fb8ae" stroke-opacity="0.26" stroke-width="0.9"/><use href="#ar7" transform="matrix(1 0 0 1.2271 0 -103.31)" stroke="#5fb8ae" stroke-opacity="0.26" stroke-width="0.9"/><use href="#ar7" transform="matrix(1 0 0 1.2689 0 -122.34)" stroke="#5fb8ae" stroke-opacity="0.26" stroke-width="0.9"/><use href="#ar7" transform="matrix(1 0 0 1.3007 0 -136.79)" stroke="#5fb8ae" stroke-opacity="0.26" stroke-width="0.9"/><use href="#ar7" transform="matrix(1 0 0 1.3273 0 -148.91)" stroke="#5fb8ae" stroke-opacity="0.26" stroke-width="0.9"/><use href="#ar7" transform="matrix(1 0 0 1.3764 0 -171.22)" stroke="#5fb8ae" stroke-opacity="0.26" stroke-width="0.9"/><use href="#ar7" transform="matrix(1 0 0 1.4132 0 -187.97)" stroke="#5fb8ae" stroke-opacity="0.26" stroke-width="0.9"/><use href="#ar7" transform="matrix(1 0 0 1.4681 0 -212.95)" stroke="#5fb8ae" stroke-opacity="0.26" stroke-width="0.9"/><use href="#ar7" transform="matrix(1 0 0 1.5043 0 -229.42)" stroke="#5fb8ae" stroke-opacity="0.26" stroke-width="0.9"/><use href="#ar7" transform="matrix(1 0 0 1.5268 0 -239.62)" stroke="#5fb8ae" stroke-opacity="0.26" stroke-width="0.9"/><use href="#ar7" transform="matrix(1 0 0 1.1632 0 -74.26)" stroke="#5fb8ae" stroke-opacity="0.3" stroke-width="0.9"/><path d="M6.8 18.7L8.8 19.3L10.8 20.2L12.8 20.1L14.7 20.3L16.7 24.1L18.7 26.3L20.7 26.3L22.7 27.1L24.7 28.1L26.7 29L28.6 30L30.6 29.8L32.6 29.7L34.6 30.9L36.6 34.2L38.6 35.5L40.6 36.2L42.5 36.6L44.5 36.5L46.5 37L48.5 37.1L50.5 37.5L52.5 38L54.5 38.4L56.4 37.7L58.4 37.2L60.4 39.1L62.4 41.8L64.4 47.6L66.4 50L68.4 49.8L70.3 49.9L72.3 50.4L74.3 49.9L76.3 49.9L78.3 51.1" stroke="#fff" stroke-opacity="0.95" stroke-width="3.0" stroke-linecap="round" filter="url(#bl0)"/><path d="M18.7 33L20.7 32.9L22.7 33.8L24.7 34.7L26.7 35.6L28.6 36.6L30.6 36.4L32.6 36.3L34.6 37.4L36.6 40.7L38.6 42L40.6 42.7L42.5 43.1L44.5 43L46.5 43.5L48.5 43.5L50.5 44L52.5 44.5L54.5 44.9L56.4 44.2L58.4 43.7L60.4 45.6L62.4 48.2L64.4 53.9L66.4 56.3L68.4 56.1L70.3 56.1L72.3 56.7" stroke="#fff" stroke-opacity="0.7" stroke-width="1.8" stroke-linecap="round" filter="url(#bl0)"/></g>
<g transform="translate(633.6,458.3)" clip-path="url(#cp2)"><rect x="0" y="0" width="286.3" height="234.3" fill="url(#ab8)"/><use href="#ar8" y="9.1" stroke="#b0e0b7" stroke-opacity="0.6" stroke-width="26" filter="url(#bl6)"/><path d="M-38.2 -41.3L-38.2 62.7L6.8 71.7L8.8 72.3L10.8 73L12.8 72.8L14.7 72.9L16.7 76.1L18.7 77.9L20.7 77.9L22.7 78.5L24.7 79.3L26.7 80.1L28.6 81L30.6 80.8L32.6 80.6L34.6 81.5L36.6 84L38.6 85.2L40.6 85.8L42.5 86.2L44.5 86.1L46.5 86.5L48.5 86.5L50.5 86.9L52.5 87.3L54.5 87.6L56.4 86.9L58.4 86.4L60.4 88L62.4 90.3L64.4 95.1L66.4 97L68.4 96.7L70.3 96.8L72.3 97.3L74.3 96.7L76.3 96.7L78.3 97.9L80.3 99.1L82.2 99.7L84.2 99.5L86.2 99.5L88.2 100.6L90.2 101.6L92.2 103.7L94.2 104.6L96.1 105.2L98.1 106L100.1 106L102.1 106L104.1 106L106.1 107.6L108.1 108.6L110 108.5L112 107.6L114 107.1L116 107.8L118 108.6L120 109.1L122 109.4L123.9 110.5L125.9 111.7L127.9 112.1L129.9 112.1L131.9 113L133.9 113.8L135.9 113.9L137.8 118.5L139.8 120.6L141.8 121.1L143.8 122.1L145.8 122.5L147.8 121.9L149.8 121.2L151.7 121.3L153.7 121.7L155.7 122.8L157.7 123.7L159.7 123.5L161.7 122.2L163.7 123.8L165.6 125.2L167.6 125.4L169.6 125L171.6 124.9L173.6 126.6L175.6 127.8L177.6 128.6L179.5 129L181.5 128.7L183.5 128.3L185.5 129.6L187.5 130.9L189.5 130.6L191.5 132.7L193.4 134.2L195.4 135.5L197.4 136L199.4 135.1L201.4 134.9L203.4 135.7L205.4 135.9L207.3 136.8L209.3 137.2L211.3 137.1L213.3 139.6L215.3 141.5L217.3 142.3L219.2 143L221.2 142.8L223.2 142.3L225.2 142.5L227.2 143L229.2 142.8L231.2 143.8L233.1 144.4L235.1 147.6L237.1 149.7L239.1 149.8L241.1 149.5L243.1 149.2L245.1 148.9L247 149.1L249 149.1L251 149.8L253 150.1L255 151.1L257 152.1L259 152.5L260.9 153.1L262.9 153.5L264.9 153.7L266.9 153.9L268.9 154L270.9 154.2L272.9 154.5L274.8 154.9L276.8 156L278.8 156.3L280.8 156.6L325.8 165.6L325.8 -41.3Z" fill="url(#an8)"/><use href="#ar8" y="1.7" stroke="#5fb8ae" stroke-opacity="0.19" stroke-width="3.1" filter="url(#bl1)"/><use href="#ar8" stroke="#5fb8ae" stroke-opacity="0.42" stroke-width="1.3"/><use href="#ar8" transform="matrix(1 0 0 1.1479 0 -67.28)" stroke="#fcfedc" stroke-opacity="0.56" stroke-width="2.4326168993598896"/><use href="#ar8" transform="matrix(1 0 0 1.1355 0 -61.64)" stroke="#5fb8ae" stroke-opacity="0.22" stroke-width="0.9"/><use href="#ar8" transform="matrix(1 0 0 1.1271 0 -57.83)" stroke="#fcfedc" stroke-opacity="0.24" stroke-width="1.5007597539757818"/><use href="#ar8" transform="matrix(1 0 0 1.117 0 -53.22)" stroke="#5fb8ae" stroke-opacity="0.43" stroke-width="0.9"/><use href="#ar8" transform="matrix(1 0 0 1.107 0 -48.68)" stroke="#fcfedc" stroke-opacity="0.28" stroke-width="2.4990673823895815"/><use href="#ar8" transform="matrix(1 0 0 1.0903 0 -41.09)" stroke="#5fb8ae" stroke-opacity="0.16" stroke-width="0.9"/><use href="#ar8" transform="matrix(1 0 0 1.0856 0 -38.96)" stroke="#fcfedc" stroke-opacity="0.63" stroke-width="1.7467495925602416"/><use href="#ar8" transform="matrix(1 0 0 1.0728 0 -33.11)" stroke="#5fb8ae" stroke-opacity="0.37" stroke-width="0.9"/><use href="#ar8" transform="matrix(1 0 0 1.0625 0 -28.45)" stroke="#fcfedc" stroke-opacity="0.22" stroke-width="2.2121329113084633"/><use href="#ar8" transform="matrix(1 0 0 1.0509 0 -23.17)" stroke="#5fb8ae" stroke-opacity="0.28" stroke-width="0.9"/><use href="#ar8" transform="matrix(1 0 0 1.0451 0 -20.52)" stroke="#fcfedc" stroke-opacity="0.52" stroke-width="2.584940437302272"/><use href="#ar8" transform="matrix(1 0 0 1.0296 0 -13.46)" stroke="#5fb8ae" stroke-opacity="0.19" stroke-width="0.9"/><use href="#ar8" transform="matrix(1 0 0 1.0212 0 -9.63)" stroke="#fcfedc" stroke-opacity="0.42" stroke-width="2.581871831659748"/><use href="#ar8" transform="matrix(1 0 0 1.0092 0 -4.17)" stroke="#5fb8ae" stroke-opacity="0.29" stroke-width="0.9"/><use href="#ar8" transform="matrix(1 0 0 1.3139 0 -142.8)" stroke="#5fb8ae" stroke-opacity="0.15" stroke-width="0.9"/><use href="#ar8" transform="matrix(1 0 0 1.4413 0 -200.76)" stroke="#5fb8ae" stroke-opacity="0.15" stroke-width="0.9"/><path d="M6.8 17.6L8.8 18.1L10.8 19L12.8 18.9L14.7 19L16.7 22.6L18.7 24.6L20.7 24.6L22.7 25.3L24.7 26.2L26.7 27.1L28.6 28L30.6 27.8L32.6 27.7L34.6 28.7L36.6 31.7L38.6 33L40.6 33.7L42.5 34.1L44.5 34L46.5 34.4L48.5 34.5L50.5 34.9L52.5 35.3L54.5 35.7L56.4 35L58.4 34.5L60.4 36.3L62.4 38.8L64.4 44.2L66.4 46.4L68.4 46.2" stroke="#fff" stroke-opacity="0.9" stroke-width="2.8" stroke-linecap="round" filter="url(#bl0)"/><path d="M20.7 31.2L22.7 32L24.7 32.8L26.7 33.7L28.6 34.6L30.6 34.5L32.6 34.3L34.6 35.3L36.6 38.3L38.6 39.5L40.6 40.2L42.5 40.6L44.5 40.5L46.5 40.9L48.5 41L50.5 41.4L52.5 41.8L54.5 42.2L56.4 41.5L58.4 41L60.4 42.7L62.4 45.2L64.4 50.6L66.4 52.7L68.4 52.5L70.3 52.6L72.3 53.1L74.3 52.5L76.3 52.5" stroke="#fff" stroke-opacity="0.6" stroke-width="1.5" stroke-linecap="round" filter="url(#bl0)"/></g>
</g>
<rect x="298.5" y="109.3" width="469.3" height="37.1" fill="url(#gA)"/><path d="M374 109.3v7.4M374 146.4v-7.4" stroke="#fff" stroke-opacity=".75" stroke-width="1.3"/><path d="M450.6 109.3v7.4M450.6 146.4v-7.4" stroke="#fff" stroke-opacity=".75" stroke-width="1.3"/><path d="M527.1 109.3v7.4M527.1 146.4v-7.4" stroke="#fff" stroke-opacity=".75" stroke-width="1.3"/><path d="M603.7 109.3v7.4M603.7 146.4v-7.4" stroke="#fff" stroke-opacity=".75" stroke-width="1.3"/><path d="M680 109.3v7.4M680 146.4v-7.4" stroke="#fff" stroke-opacity=".75" stroke-width="1.3"/><path d="M756.4 109.3v7.4M756.4 146.4v-7.4" stroke="#fff" stroke-opacity=".75" stroke-width="1.3"/>
<rect x="1390.5" y="98" width="353.3" height="45.9" fill="url(#gB)"/><path d="M1484.2 98v7.4M1484.2 143.9v-7.4" stroke="#fff" stroke-opacity=".75" stroke-width="1.3"/><path d="M1567.8 98v7.4M1567.8 143.9v-7.4" stroke="#fff" stroke-opacity=".75" stroke-width="1.3"/><path d="M1651.5 98v7.4M1651.5 143.9v-7.4" stroke="#fff" stroke-opacity=".75" stroke-width="1.3"/><path d="M1735.2 98v7.4M1735.2 143.9v-7.4" stroke="#fff" stroke-opacity=".75" stroke-width="1.3"/>
<rect x="834" y="1109.7" width="458" height="34" fill="url(#gC)"/><path d="M844.1 1109.7v7.4M844.1 1143.7v-7.4" stroke="#fff" stroke-opacity=".75" stroke-width="1.3"/><path d="M917.2 1109.7v7.4M917.2 1143.7v-7.4" stroke="#fff" stroke-opacity=".75" stroke-width="1.3"/><path d="M990 1109.7v7.4M990 1143.7v-7.4" stroke="#fff" stroke-opacity=".75" stroke-width="1.3"/><path d="M1062.8 1109.7v7.4M1062.8 1143.7v-7.4" stroke="#fff" stroke-opacity=".75" stroke-width="1.3"/><path d="M1135 1109.7v7.4M1135 1143.7v-7.4" stroke="#fff" stroke-opacity=".75" stroke-width="1.3"/><path d="M1207.7 1109.7v7.4M1207.7 1143.7v-7.4" stroke="#fff" stroke-opacity=".75" stroke-width="1.3"/><path d="M1280.2 1109.7v7.4M1280.2 1143.7v-7.4" stroke="#fff" stroke-opacity=".75" stroke-width="1.3"/>
<text x="369.2" y="100.4" font-size="26.5" text-anchor="middle" textLength="46.6" lengthAdjust="spacingAndGlyphs" fill="#000">400</text>
<text x="447.1" y="100.4" font-size="26.5" text-anchor="middle" textLength="46.6" lengthAdjust="spacingAndGlyphs" fill="#000">500</text>
<text x="525" y="100.4" font-size="26.5" text-anchor="middle" textLength="46.6" lengthAdjust="spacingAndGlyphs" fill="#000">600</text>
<text x="603" y="100.4" font-size="26.5" text-anchor="middle" textLength="46.6" lengthAdjust="spacingAndGlyphs" fill="#000">700</text>
<text x="687" y="100.4" font-size="26.5" text-anchor="middle" textLength="46.6" lengthAdjust="spacingAndGlyphs" fill="#000">800</text>
<text x="757.8" y="100.4" font-size="26.5" text-anchor="middle" textLength="46.6" lengthAdjust="spacingAndGlyphs" fill="#000">900</text>
<text x="1400" y="90.3" font-size="26.5" text-anchor="middle" textLength="39.8" lengthAdjust="spacingAndGlyphs" fill="#000">-40</text>
<text x="1478.3" y="90.3" font-size="26.5" text-anchor="middle" textLength="40.2" lengthAdjust="spacingAndGlyphs" fill="#000">-30</text>
<text x="1564.5" y="90.3" font-size="26.5" text-anchor="middle" textLength="40.2" lengthAdjust="spacingAndGlyphs" fill="#000">-20</text>
<text x="1643" y="90.3" font-size="26.5" text-anchor="middle" textLength="40.2" lengthAdjust="spacingAndGlyphs" fill="#000">-10</text>
<text x="1730.6" y="90.3" font-size="26.5" text-anchor="middle" textLength="13.6" lengthAdjust="spacingAndGlyphs" fill="#000">0</text>
<text x="844.3" y="1085.8" font-size="29.5" text-anchor="middle" textLength="45.1" lengthAdjust="spacingAndGlyphs" fill="#000">-15</text>
<text x="920.6" y="1085.8" font-size="29.5" text-anchor="middle" textLength="33.3" lengthAdjust="spacingAndGlyphs" fill="#000">10</text>
<text x="989.4" y="1085.8" font-size="29.5" text-anchor="middle" textLength="16" lengthAdjust="spacingAndGlyphs" fill="#000">5</text>
<text x="1057.9" y="1085.8" font-size="29.5" text-anchor="middle" textLength="16.4" lengthAdjust="spacingAndGlyphs" fill="#000">0</text>
<text x="1135" y="1085.8" font-size="29.5" text-anchor="middle" textLength="16" lengthAdjust="spacingAndGlyphs" fill="#000">5</text>
<text x="1205.3" y="1085.8" font-size="29.5" text-anchor="middle" textLength="33.3" lengthAdjust="spacingAndGlyphs" fill="#000">10</text>
<text x="1274.8" y="1085.8" font-size="29.5" text-anchor="middle" textLength="33.4" lengthAdjust="spacingAndGlyphs" fill="#000">15</text>
<text x="353.5" y="46.7" font-size="33.5" textLength="457.1" lengthAdjust="spacingAndGlyphs" fill="#000">Firn density at Summit (kg m</text>
<text x="814.7" y="34.9" font-size="22.5" textLength="18.3" lengthAdjust="spacingAndGlyphs" fill="#000">-3</text>
<text x="837.1" y="46.7" font-size="33.5" textLength="7.4" lengthAdjust="spacingAndGlyphs" fill="#000">)</text>
<text x="1291.3" y="45.2" font-size="33.5" textLength="468.1" lengthAdjust="spacingAndGlyphs" fill="#000">Firn temperature at Summit (</text>
<text x="1763" y="33.4" font-size="23.5" textLength="12.2" lengthAdjust="spacingAndGlyphs" fill="#000">o</text>
<text x="1777.2" y="45.2" font-size="33.5" textLength="30.1" lengthAdjust="spacingAndGlyphs" fill="#000">C)</text>
<text x="647.7" y="1038.4" font-size="33.5" textLength="795.3" lengthAdjust="spacingAndGlyphs" fill="#000">Modeled - observed firn temperature at Summit (</text>
<text x="1446" y="1026.6" font-size="23.5" textLength="11.8" lengthAdjust="spacingAndGlyphs" fill="#000">o</text>
<text x="1460.8" y="1038.4" font-size="33.5" textLength="29.6" lengthAdjust="spacingAndGlyphs" fill="#000">C)</text>
<text x="92.9" y="146.3" font-size="40" textLength="44.4" lengthAdjust="spacingAndGlyphs" fill="#000">(a)</text>
<text x="1120.6" y="150.9" font-size="40" textLength="47" lengthAdjust="spacingAndGlyphs" fill="#000">(b)</text>
<text x="585.7" y="1156.6" font-size="40" textLength="42.4" lengthAdjust="spacingAndGlyphs" fill="#000">(c)</text>
<g transform="translate(86.4,168.5)">
<path d="M-5.6 3.7H1" stroke="#333333" stroke-width="2.1"/>
<text x="-11.6" y="11.6" font-size="22.4" text-anchor="end" fill="#4d4d4d">0</text>
<path d="M-5.6 50.9H1" stroke="#333333" stroke-width="2.1"/>
<text x="-11.6" y="58.8" font-size="22.4" text-anchor="end" fill="#4d4d4d">5</text>
<path d="M-5.6 98H1" stroke="#333333" stroke-width="2.1"/>
<text x="-11.6" y="105.9" font-size="22.4" text-anchor="end" fill="#4d4d4d">10</text>
<path d="M-5.6 145.1H1" stroke="#333333" stroke-width="2.1"/>
<text x="-11.6" y="153" font-size="22.4" text-anchor="end" fill="#4d4d4d">15</text>
<path d="M-5.6 192.3H1" stroke="#333333" stroke-width="2.1"/>
<text x="-11.6" y="200.2" font-size="22.4" text-anchor="end" fill="#4d4d4d">20</text>
<path d="M90.4 195.7V202.5" stroke="#333333" stroke-width="2.1"/>
<path d="M183.6 195.7V202.5" stroke="#333333" stroke-width="2.1"/>
<path d="M276.8 195.7V202.5" stroke="#333333" stroke-width="2.1"/>
<rect x="1.6" y="1.6" width="283.1" height="193.5" fill="none" stroke="#000" stroke-width="3.2"/>
<path d="M311.2 3.7H317.8" stroke="#333333" stroke-width="2.1"/>
<path d="M311.2 50.9H317.8" stroke="#333333" stroke-width="2.1"/>
<path d="M311.2 98H317.8" stroke="#333333" stroke-width="2.1"/>
<path d="M311.2 145.1H317.8" stroke="#333333" stroke-width="2.1"/>
<path d="M311.2 192.3H317.8" stroke="#333333" stroke-width="2.1"/>
<path d="M407.2 195.7V202.5" stroke="#333333" stroke-width="2.1"/>
<path d="M500.4 195.7V202.5" stroke="#333333" stroke-width="2.1"/>
<path d="M593.6 195.7V202.5" stroke="#333333" stroke-width="2.1"/>
<rect x="318.4" y="1.6" width="283.1" height="193.5" fill="none" stroke="#000" stroke-width="3.2"/>
<path d="M628 3.7H634.6" stroke="#333333" stroke-width="2.1"/>
<path d="M628 50.9H634.6" stroke="#333333" stroke-width="2.1"/>
<path d="M628 98H634.6" stroke="#333333" stroke-width="2.1"/>
<path d="M628 145.1H634.6" stroke="#333333" stroke-width="2.1"/>
<path d="M628 192.3H634.6" stroke="#333333" stroke-width="2.1"/>
<path d="M724 195.7V202.5" stroke="#333333" stroke-width="2.1"/>
<path d="M817.2 195.7V202.5" stroke="#333333" stroke-width="2.1"/>
<path d="M910.4 195.7V202.5" stroke="#333333" stroke-width="2.1"/>
<rect x="635.2" y="1.6" width="283.1" height="193.5" fill="none" stroke="#000" stroke-width="3.2"/>
<path d="M-5.6 232.7H1" stroke="#333333" stroke-width="2.1"/>
<text x="-11.6" y="240.6" font-size="22.4" text-anchor="end" fill="#4d4d4d">0</text>
<path d="M-5.6 279.8H1" stroke="#333333" stroke-width="2.1"/>
<text x="-11.6" y="287.7" font-size="22.4" text-anchor="end" fill="#4d4d4d">5</text>
<path d="M-5.6 327H1" stroke="#333333" stroke-width="2.1"/>
<text x="-11.6" y="334.9" font-size="22.4" text-anchor="end" fill="#4d4d4d">10</text>
<path d="M-5.6 374.1H1" stroke="#333333" stroke-width="2.1"/>
<text x="-11.6" y="382" font-size="22.4" text-anchor="end" fill="#4d4d4d">15</text>
<path d="M-5.6 421.3H1" stroke="#333333" stroke-width="2.1"/>
<text x="-11.6" y="429.2" font-size="22.4" text-anchor="end" fill="#4d4d4d">20</text>
<path d="M90.4 424.7V431.5" stroke="#333333" stroke-width="2.1"/>
<path d="M183.6 424.7V431.5" stroke="#333333" stroke-width="2.1"/>
<path d="M276.8 424.7V431.5" stroke="#333333" stroke-width="2.1"/>
<rect x="1.6" y="230.6" width="283.1" height="193.5" fill="none" stroke="#000" stroke-width="3.2"/>
<path d="M311.2 232.7H317.8" stroke="#333333" stroke-width="2.1"/>
<path d="M311.2 279.8H317.8" stroke="#333333" stroke-width="2.1"/>
<path d="M311.2 327H317.8" stroke="#333333" stroke-width="2.1"/>
<path d="M311.2 374.1H317.8" stroke="#333333" stroke-width="2.1"/>
<path d="M311.2 421.3H317.8" stroke="#333333" stroke-width="2.1"/>
<path d="M407.2 424.7V431.5" stroke="#333333" stroke-width="2.1"/>
<path d="M500.4 424.7V431.5" stroke="#333333" stroke-width="2.1"/>
<path d="M593.6 424.7V431.5" stroke="#333333" stroke-width="2.1"/>
<rect x="318.4" y="230.6" width="283.1" height="193.5" fill="none" stroke="#000" stroke-width="3.2"/>
<path d="M628 232.7H634.6" stroke="#333333" stroke-width="2.1"/>
<path d="M628 279.8H634.6" stroke="#333333" stroke-width="2.1"/>
<path d="M628 327H634.6" stroke="#333333" stroke-width="2.1"/>
<path d="M628 374.1H634.6" stroke="#333333" stroke-width="2.1"/>
<path d="M628 421.3H634.6" stroke="#333333" stroke-width="2.1"/>
<path d="M724 424.7V431.5" stroke="#333333" stroke-width="2.1"/>
<path d="M817.2 424.7V431.5" stroke="#333333" stroke-width="2.1"/>
<path d="M910.4 424.7V431.5" stroke="#333333" stroke-width="2.1"/>
<rect x="635.2" y="230.6" width="283.1" height="193.5" fill="none" stroke="#000" stroke-width="3.2"/>
<path d="M-5.6 462H1" stroke="#333333" stroke-width="2.1"/>
<text x="-11.6" y="469.9" font-size="22.4" text-anchor="end" fill="#4d4d4d">0</text>
<path d="M-5.6 518.4H1" stroke="#333333" stroke-width="2.1"/>
<text x="-11.6" y="526.3" font-size="22.4" text-anchor="end" fill="#4d4d4d">5</text>
<path d="M-5.6 574.8H1" stroke="#333333" stroke-width="2.1"/>
<text x="-11.6" y="582.7" font-size="22.4" text-anchor="end" fill="#4d4d4d">10</text>
<path d="M-5.6 631.2H1" stroke="#333333" stroke-width="2.1"/>
<text x="-11.6" y="639.1" font-size="22.4" text-anchor="end" fill="#4d4d4d">15</text>
<path d="M-5.6 687.6H1" stroke="#333333" stroke-width="2.1"/>
<text x="-11.6" y="695.5" font-size="22.4" text-anchor="end" fill="#4d4d4d">20</text>
<path d="M90.4 691.6V698.4" stroke="#333333" stroke-width="2.1"/>
<text x="90.4" y="718" font-size="22.4" text-anchor="middle" fill="#4d4d4d">2005</text>
<path d="M183.6 691.6V698.4" stroke="#333333" stroke-width="2.1"/>
<text x="183.6" y="718" font-size="22.4" text-anchor="middle" fill="#4d4d4d">2010</text>
<path d="M276.8 691.6V698.4" stroke="#333333" stroke-width="2.1"/>
<text x="276.8" y="718" font-size="22.4" text-anchor="middle" fill="#4d4d4d">2015</text>
<rect x="1.6" y="459.9" width="283.1" height="231.1" fill="none" stroke="#000" stroke-width="3.2"/>
<path d="M311.2 462H317.8" stroke="#333333" stroke-width="2.1"/>
<path d="M311.2 518.4H317.8" stroke="#333333" stroke-width="2.1"/>
<path d="M311.2 574.8H317.8" stroke="#333333" stroke-width="2.1"/>
<path d="M311.2 631.2H317.8" stroke="#333333" stroke-width="2.1"/>
<path d="M311.2 687.6H317.8" stroke="#333333" stroke-width="2.1"/>
<path d="M407.2 691.6V698.4" stroke="#333333" stroke-width="2.1"/>
<text x="407.2" y="718" font-size="22.4" text-anchor="middle" fill="#4d4d4d">2005</text>
<path d="M500.4 691.6V698.4" stroke="#333333" stroke-width="2.1"/>
<text x="500.4" y="718" font-size="22.4" text-anchor="middle" fill="#4d4d4d">2010</text>
<path d="M593.6 691.6V698.4" stroke="#333333" stroke-width="2.1"/>
<text x="593.6" y="718" font-size="22.4" text-anchor="middle" fill="#4d4d4d">2015</text>
<rect x="318.4" y="459.9" width="283.1" height="231.1" fill="none" stroke="#000" stroke-width="3.2"/>
<path d="M628 462H634.6" stroke="#333333" stroke-width="2.1"/>
<path d="M628 518.4H634.6" stroke="#333333" stroke-width="2.1"/>
<path d="M628 574.8H634.6" stroke="#333333" stroke-width="2.1"/>
<path d="M628 631.2H634.6" stroke="#333333" stroke-width="2.1"/>
<path d="M628 687.6H634.6" stroke="#333333" stroke-width="2.1"/>
<path d="M724 691.6V698.4" stroke="#333333" stroke-width="2.1"/>
<text x="724" y="718" font-size="22.4" text-anchor="middle" fill="#4d4d4d">2005</text>
<path d="M817.2 691.6V698.4" stroke="#333333" stroke-width="2.1"/>
<text x="817.2" y="718" font-size="22.4" text-anchor="middle" fill="#4d4d4d">2010</text>
<path d="M910.4 691.6V698.4" stroke="#333333" stroke-width="2.1"/>
<text x="910.4" y="718" font-size="22.4" text-anchor="middle" fill="#4d4d4d">2015</text>
<rect x="635.2" y="459.9" width="283.1" height="231.1" fill="none" stroke="#000" stroke-width="3.2"/>
<text x="454.2" y="776.5" font-size="30.8" text-anchor="middle" fill="#000">Year</text>
<text transform="translate(-45.3,371.2) rotate(-90)" font-size="30.8" text-anchor="middle" fill="#000">Depth (m)</text>
</g>
<g transform="translate(1105.5,168.5)">
<path d="M-5.6 3.7H1" stroke="#333333" stroke-width="2.1"/>
<text x="-11.6" y="11.6" font-size="22.4" text-anchor="end" fill="#4d4d4d">0</text>
<path d="M-5.6 50.9H1" stroke="#333333" stroke-width="2.1"/>
<text x="-11.6" y="58.8" font-size="22.4" text-anchor="end" fill="#4d4d4d">5</text>
<path d="M-5.6 98H1" stroke="#333333" stroke-width="2.1"/>
<text x="-11.6" y="105.9" font-size="22.4" text-anchor="end" fill="#4d4d4d">10</text>
<path d="M-5.6 145.1H1" stroke="#333333" stroke-width="2.1"/>
<text x="-11.6" y="153" font-size="22.4" text-anchor="end" fill="#4d4d4d">15</text>
<path d="M-5.6 192.3H1" stroke="#333333" stroke-width="2.1"/>
<text x="-11.6" y="200.2" font-size="22.4" text-anchor="end" fill="#4d4d4d">20</text>
<path d="M90.4 195.7V202.5" stroke="#333333" stroke-width="2.1"/>
<path d="M183.6 195.7V202.5" stroke="#333333" stroke-width="2.1"/>
<path d="M276.8 195.7V202.5" stroke="#333333" stroke-width="2.1"/>
<rect x="1.6" y="1.6" width="283.1" height="193.5" fill="none" stroke="#000" stroke-width="3.2"/>
<path d="M311.2 3.7H317.8" stroke="#333333" stroke-width="2.1"/>
<path d="M311.2 50.9H317.8" stroke="#333333" stroke-width="2.1"/>
<path d="M311.2 98H317.8" stroke="#333333" stroke-width="2.1"/>
<path d="M311.2 145.1H317.8" stroke="#333333" stroke-width="2.1"/>
<path d="M311.2 192.3H317.8" stroke="#333333" stroke-width="2.1"/>
<path d="M407.2 195.7V202.5" stroke="#333333" stroke-width="2.1"/>
<path d="M500.4 195.7V202.5" stroke="#333333" stroke-width="2.1"/>
<path d="M593.6 195.7V202.5" stroke="#333333" stroke-width="2.1"/>
<rect x="318.4" y="1.6" width="283.1" height="193.5" fill="none" stroke="#000" stroke-width="3.2"/>
<path d="M628 3.7H634.6" stroke="#333333" stroke-width="2.1"/>
<path d="M628 50.9H634.6" stroke="#333333" stroke-width="2.1"/>
<path d="M628 98H634.6" stroke="#333333" stroke-width="2.1"/>
<path d="M628 145.1H634.6" stroke="#333333" stroke-width="2.1"/>
<path d="M628 192.3H634.6" stroke="#333333" stroke-width="2.1"/>
<path d="M724 195.7V202.5" stroke="#333333" stroke-width="2.1"/>
<path d="M817.2 195.7V202.5" stroke="#333333" stroke-width="2.1"/>
<path d="M910.4 195.7V202.5" stroke="#333333" stroke-width="2.1"/>
<rect x="635.2" y="1.6" width="283.1" height="193.5" fill="none" stroke="#000" stroke-width="3.2"/>
<path d="M-5.6 232.7H1" stroke="#333333" stroke-width="2.1"/>
<text x="-11.6" y="240.6" font-size="22.4" text-anchor="end" fill="#4d4d4d">0</text>
<path d="M-5.6 279.8H1" stroke="#333333" stroke-width="2.1"/>
<text x="-11.6" y="287.7" font-size="22.4" text-anchor="end" fill="#4d4d4d">5</text>
<path d="M-5.6 327H1" stroke="#333333" stroke-width="2.1"/>
<text x="-11.6" y="334.9" font-size="22.4" text-anchor="end" fill="#4d4d4d">10</text>
<path d="M-5.6 374.1H1" stroke="#333333" stroke-width="2.1"/>
<text x="-11.6" y="382" font-size="22.4" text-anchor="end" fill="#4d4d4d">15</text>
<path d="M-5.6 421.3H1" stroke="#333333" stroke-width="2.1"/>
<text x="-11.6" y="429.2" font-size="22.4" text-anchor="end" fill="#4d4d4d">20</text>
<path d="M90.4 424.7V431.5" stroke="#333333" stroke-width="2.1"/>
<path d="M183.6 424.7V431.5" stroke="#333333" stroke-width="2.1"/>
<path d="M276.8 424.7V431.5" stroke="#333333" stroke-width="2.1"/>
<rect x="1.6" y="230.6" width="283.1" height="193.5" fill="none" stroke="#000" stroke-width="3.2"/>
<path d="M311.2 232.7H317.8" stroke="#333333" stroke-width="2.1"/>
<path d="M311.2 279.8H317.8" stroke="#333333" stroke-width="2.1"/>
<path d="M311.2 327H317.8" stroke="#333333" stroke-width="2.1"/>
<path d="M311.2 374.1H317.8" stroke="#333333" stroke-width="2.1"/>
<path d="M311.2 421.3H317.8" stroke="#333333" stroke-width="2.1"/>
<path d="M407.2 424.7V431.5" stroke="#333333" stroke-width="2.1"/>
<path d="M500.4 424.7V431.5" stroke="#333333" stroke-width="2.1"/>
<path d="M593.6 424.7V431.5" stroke="#333333" stroke-width="2.1"/>
<rect x="318.4" y="230.6" width="283.1" height="193.5" fill="none" stroke="#000" stroke-width="3.2"/>
<path d="M628 232.7H634.6" stroke="#333333" stroke-width="2.1"/>
<path d="M628 279.8H634.6" stroke="#333333" stroke-width="2.1"/>
<path d="M628 327H634.6" stroke="#333333" stroke-width="2.1"/>
<path d="M628 374.1H634.6" stroke="#333333" stroke-width="2.1"/>
<path d="M628 421.3H634.6" stroke="#333333" stroke-width="2.1"/>
<path d="M724 424.7V431.5" stroke="#333333" stroke-width="2.1"/>
<path d="M817.2 424.7V431.5" stroke="#333333" stroke-width="2.1"/>
<path d="M910.4 424.7V431.5" stroke="#333333" stroke-width="2.1"/>
<rect x="635.2" y="230.6" width="283.1" height="193.5" fill="none" stroke="#000" stroke-width="3.2"/>
<path d="M-5.6 462H1" stroke="#333333" stroke-width="2.1"/>
<text x="-11.6" y="469.9" font-size="22.4" text-anchor="end" fill="#4d4d4d">0</text>
<path d="M-5.6 518.4H1" stroke="#333333" stroke-width="2.1"/>
<text x="-11.6" y="526.3" font-size="22.4" text-anchor="end" fill="#4d4d4d">5</text>
<path d="M-5.6 574.8H1" stroke="#333333" stroke-width="2.1"/>
<text x="-11.6" y="582.7" font-size="22.4" text-anchor="end" fill="#4d4d4d">10</text>
<path d="M-5.6 631.2H1" stroke="#333333" stroke-width="2.1"/>
<text x="-11.6" y="639.1" font-size="22.4" text-anchor="end" fill="#4d4d4d">15</text>
<path d="M-5.6 687.6H1" stroke="#333333" stroke-width="2.1"/>
<text x="-11.6" y="695.5" font-size="22.4" text-anchor="end" fill="#4d4d4d">20</text>
<path d="M90.4 691.6V698.4" stroke="#333333" stroke-width="2.1"/>
<text x="90.4" y="718" font-size="22.4" text-anchor="middle" fill="#4d4d4d">2005</text>
<path d="M183.6 691.6V698.4" stroke="#333333" stroke-width="2.1"/>
<text x="183.6" y="718" font-size="22.4" text-anchor="middle" fill="#4d4d4d">2010</text>
<path d="M276.8 691.6V698.4" stroke="#333333" stroke-width="2.1"/>
<text x="276.8" y="718" font-size="22.4" text-anchor="middle" fill="#4d4d4d">2015</text>
<rect x="1.6" y="459.9" width="283.1" height="231.1" fill="none" stroke="#000" stroke-width="3.2"/>
<path d="M311.2 462H317.8" stroke="#333333" stroke-width="2.1"/>
<path d="M311.2 518.4H317.8" stroke="#333333" stroke-width="2.1"/>
<path d="M311.2 574.8H317.8" stroke="#333333" stroke-width="2.1"/>
<path d="M311.2 631.2H317.8" stroke="#333333" stroke-width="2.1"/>
<path d="M311.2 687.6H317.8" stroke="#333333" stroke-width="2.1"/>
<path d="M407.2 691.6V698.4" stroke="#333333" stroke-width="2.1"/>
<text x="407.2" y="718" font-size="22.4" text-anchor="middle" fill="#4d4d4d">2005</text>
<path d="M500.4 691.6V698.4" stroke="#333333" stroke-width="2.1"/>
<text x="500.4" y="718" font-size="22.4" text-anchor="middle" fill="#4d4d4d">2010</text>
<path d="M593.6 691.6V698.4" stroke="#333333" stroke-width="2.1"/>
<text x="593.6" y="718" font-size="22.4" text-anchor="middle" fill="#4d4d4d">2015</text>
<rect x="318.4" y="459.9" width="283.1" height="231.1" fill="none" stroke="#000" stroke-width="3.2"/>
<path d="M628 462H634.6" stroke="#333333" stroke-width="2.1"/>
<path d="M628 518.4H634.6" stroke="#333333" stroke-width="2.1"/>
<path d="M628 574.8H634.6" stroke="#333333" stroke-width="2.1"/>
<path d="M628 631.2H634.6" stroke="#333333" stroke-width="2.1"/>
<path d="M628 687.6H634.6" stroke="#333333" stroke-width="2.1"/>
<path d="M724 691.6V698.4" stroke="#333333" stroke-width="2.1"/>
<text x="724" y="718" font-size="22.4" text-anchor="middle" fill="#4d4d4d">2005</text>
<path d="M817.2 691.6V698.4" stroke="#333333" stroke-width="2.1"/>
<text x="817.2" y="718" font-size="22.4" text-anchor="middle" fill="#4d4d4d">2010</text>
<path d="M910.4 691.6V698.4" stroke="#333333" stroke-width="2.1"/>
<text x="910.4" y="718" font-size="22.4" text-anchor="middle" fill="#4d4d4d">2015</text>
<rect x="635.2" y="459.9" width="283.1" height="231.1" fill="none" stroke="#000" stroke-width="3.2"/>
<text x="454.2" y="776.5" font-size="30.8" text-anchor="middle" fill="#000">Year</text>
<text transform="translate(-45.3,371.2) rotate(-90)" font-size="30.8" text-anchor="middle" fill="#000">Depth (m)</text>
</g>
<g transform="translate(584.2,1184.3)">
<path d="M-5.6 3.7H1" stroke="#333333" stroke-width="2.1"/>
<text x="-11.6" y="11.6" font-size="22.4" text-anchor="end" fill="#4d4d4d">0</text>
<path d="M-5.6 50.9H1" stroke="#333333" stroke-width="2.1"/>
<text x="-11.6" y="58.8" font-size="22.4" text-anchor="end" fill="#4d4d4d">5</text>
<path d="M-5.6 98H1" stroke="#333333" stroke-width="2.1"/>
<text x="-11.6" y="105.9" font-size="22.4" text-anchor="end" fill="#4d4d4d">10</text>
<path d="M-5.6 145.1H1" stroke="#333333" stroke-width="2.1"/>
<text x="-11.6" y="153" font-size="22.4" text-anchor="end" fill="#4d4d4d">15</text>
<path d="M-5.6 192.3H1" stroke="#333333" stroke-width="2.1"/>
<text x="-11.6" y="200.2" font-size="22.4" text-anchor="end" fill="#4d4d4d">20</text>
<path d="M90.4 195.7V202.5" stroke="#333333" stroke-width="2.1"/>
<path d="M183.6 195.7V202.5" stroke="#333333" stroke-width="2.1"/>
<path d="M276.8 195.7V202.5" stroke="#333333" stroke-width="2.1"/>
<rect x="1.6" y="1.6" width="283.1" height="193.5" fill="none" stroke="#000" stroke-width="3.2"/>
<path d="M311.2 3.7H317.8" stroke="#333333" stroke-width="2.1"/>
<path d="M311.2 50.9H317.8" stroke="#333333" stroke-width="2.1"/>
<path d="M311.2 98H317.8" stroke="#333333" stroke-width="2.1"/>
<path d="M311.2 145.1H317.8" stroke="#333333" stroke-width="2.1"/>
<path d="M311.2 192.3H317.8" stroke="#333333" stroke-width="2.1"/>
<path d="M407.2 195.7V202.5" stroke="#333333" stroke-width="2.1"/>
<path d="M500.4 195.7V202.5" stroke="#333333" stroke-width="2.1"/>
<path d="M593.6 195.7V202.5" stroke="#333333" stroke-width="2.1"/>
<rect x="318.4" y="1.6" width="283.1" height="193.5" fill="none" stroke="#000" stroke-width="3.2"/>
<path d="M628 3.7H634.6" stroke="#333333" stroke-width="2.1"/>
<path d="M628 50.9H634.6" stroke="#333333" stroke-width="2.1"/>
<path d="M628 98H634.6" stroke="#333333" stroke-width="2.1"/>
<path d="M628 145.1H634.6" stroke="#333333" stroke-width="2.1"/>
<path d="M628 192.3H634.6" stroke="#333333" stroke-width="2.1"/>
<path d="M724 195.7V202.5" stroke="#333333" stroke-width="2.1"/>
<path d="M817.2 195.7V202.5" stroke="#333333" stroke-width="2.1"/>
<path d="M910.4 195.7V202.5" stroke="#333333" stroke-width="2.1"/>
<rect x="635.2" y="1.6" width="283.1" height="193.5" fill="none" stroke="#000" stroke-width="3.2"/>
<path d="M-5.6 232.7H1" stroke="#333333" stroke-width="2.1"/>
<text x="-11.6" y="240.6" font-size="22.4" text-anchor="end" fill="#4d4d4d">0</text>
<path d="M-5.6 279.8H1" stroke="#333333" stroke-width="2.1"/>
<text x="-11.6" y="287.7" font-size="22.4" text-anchor="end" fill="#4d4d4d">5</text>
<path d="M-5.6 327H1" stroke="#333333" stroke-width="2.1"/>
<text x="-11.6" y="334.9" font-size="22.4" text-anchor="end" fill="#4d4d4d">10</text>
<path d="M-5.6 374.1H1" stroke="#333333" stroke-width="2.1"/>
<text x="-11.6" y="382" font-size="22.4" text-anchor="end" fill="#4d4d4d">15</text>
<path d="M-5.6 421.3H1" stroke="#333333" stroke-width="2.1"/>
<text x="-11.6" y="429.2" font-size="22.4" text-anchor="end" fill="#4d4d4d">20</text>
<path d="M90.4 424.7V431.5" stroke="#333333" stroke-width="2.1"/>
<path d="M183.6 424.7V431.5" stroke="#333333" stroke-width="2.1"/>
<path d="M276.8 424.7V431.5" stroke="#333333" stroke-width="2.1"/>
<rect x="1.6" y="230.6" width="283.1" height="193.5" fill="none" stroke="#000" stroke-width="3.2"/>
<path d="M311.2 232.7H317.8" stroke="#333333" stroke-width="2.1"/>
<path d="M311.2 279.8H317.8" stroke="#333333" stroke-width="2.1"/>
<path d="M311.2 327H317.8" stroke="#333333" stroke-width="2.1"/>
<path d="M311.2 374.1H317.8" stroke="#333333" stroke-width="2.1"/>
<path d="M311.2 421.3H317.8" stroke="#333333" stroke-width="2.1"/>
<path d="M407.2 424.7V431.5" stroke="#333333" stroke-width="2.1"/>
<path d="M500.4 424.7V431.5" stroke="#333333" stroke-width="2.1"/>
<path d="M593.6 424.7V431.5" stroke="#333333" stroke-width="2.1"/>
<rect x="318.4" y="230.6" width="283.1" height="193.5" fill="none" stroke="#000" stroke-width="3.2"/>
<path d="M628 232.7H634.6" stroke="#333333" stroke-width="2.1"/>
<path d="M628 279.8H634.6" stroke="#333333" stroke-width="2.1"/>
<path d="M628 327H634.6" stroke="#333333" stroke-width="2.1"/>
<path d="M628 374.1H634.6" stroke="#333333" stroke-width="2.1"/>
<path d="M628 421.3H634.6" stroke="#333333" stroke-width="2.1"/>
<path d="M724 424.7V431.5" stroke="#333333" stroke-width="2.1"/>
<path d="M817.2 424.7V431.5" stroke="#333333" stroke-width="2.1"/>
<path d="M910.4 424.7V431.5" stroke="#333333" stroke-width="2.1"/>
<rect x="635.2" y="230.6" width="283.1" height="193.5" fill="none" stroke="#000" stroke-width="3.2"/>
<path d="M-5.6 462H1" stroke="#333333" stroke-width="2.1"/>
<text x="-11.6" y="469.9" font-size="22.4" text-anchor="end" fill="#4d4d4d">0</text>
<path d="M-5.6 518.4H1" stroke="#333333" stroke-width="2.1"/>
<text x="-11.6" y="526.3" font-size="22.4" text-anchor="end" fill="#4d4d4d">5</text>
<path d="M-5.6 574.8H1" stroke="#333333" stroke-width="2.1"/>
<text x="-11.6" y="582.7" font-size="22.4" text-anchor="end" fill="#4d4d4d">10</text>
<path d="M-5.6 631.2H1" stroke="#333333" stroke-width="2.1"/>
<text x="-11.6" y="639.1" font-size="22.4" text-anchor="end" fill="#4d4d4d">15</text>
<path d="M-5.6 687.6H1" stroke="#333333" stroke-width="2.1"/>
<text x="-11.6" y="695.5" font-size="22.4" text-anchor="end" fill="#4d4d4d">20</text>
<path d="M90.4 691.6V698.4" stroke="#333333" stroke-width="2.1"/>
<text x="90.4" y="718" font-size="22.4" text-anchor="middle" fill="#4d4d4d">2005</text>
<path d="M183.6 691.6V698.4" stroke="#333333" stroke-width="2.1"/>
<text x="183.6" y="718" font-size="22.4" text-anchor="middle" fill="#4d4d4d">2010</text>
<path d="M276.8 691.6V698.4" stroke="#333333" stroke-width="2.1"/>
<text x="276.8" y="718" font-size="22.4" text-anchor="middle" fill="#4d4d4d">2015</text>
<rect x="1.6" y="459.9" width="283.1" height="231.1" fill="none" stroke="#000" stroke-width="3.2"/>
<path d="M311.2 462H317.8" stroke="#333333" stroke-width="2.1"/>
<path d="M311.2 518.4H317.8" stroke="#333333" stroke-width="2.1"/>
<path d="M311.2 574.8H317.8" stroke="#333333" stroke-width="2.1"/>
<path d="M311.2 631.2H317.8" stroke="#333333" stroke-width="2.1"/>
<path d="M311.2 687.6H317.8" stroke="#333333" stroke-width="2.1"/>
<path d="M407.2 691.6V698.4" stroke="#333333" stroke-width="2.1"/>
<text x="407.2" y="718" font-size="22.4" text-anchor="middle" fill="#4d4d4d">2005</text>
<path d="M500.4 691.6V698.4" stroke="#333333" stroke-width="2.1"/>
<text x="500.4" y="718" font-size="22.4" text-anchor="middle" fill="#4d4d4d">2010</text>
<path d="M593.6 691.6V698.4" stroke="#333333" stroke-width="2.1"/>
<text x="593.6" y="718" font-size="22.4" text-anchor="middle" fill="#4d4d4d">2015</text>
<rect x="318.4" y="459.9" width="283.1" height="231.1" fill="none" stroke="#000" stroke-width="3.2"/>
<path d="M628 462H634.6" stroke="#333333" stroke-width="2.1"/>
<path d="M628 518.4H634.6" stroke="#333333" stroke-width="2.1"/>
<path d="M628 574.8H634.6" stroke="#333333" stroke-width="2.1"/>
<path d="M628 631.2H634.6" stroke="#333333" stroke-width="2.1"/>
<path d="M628 687.6H634.6" stroke="#333333" stroke-width="2.1"/>
<path d="M724 691.6V698.4" stroke="#333333" stroke-width="2.1"/>
<text x="724" y="718" font-size="22.4" text-anchor="middle" fill="#4d4d4d">2005</text>
<path d="M817.2 691.6V698.4" stroke="#333333" stroke-width="2.1"/>
<text x="817.2" y="718" font-size="22.4" text-anchor="middle" fill="#4d4d4d">2010</text>
<path d="M910.4 691.6V698.4" stroke="#333333" stroke-width="2.1"/>
<text x="910.4" y="718" font-size="22.4" text-anchor="middle" fill="#4d4d4d">2015</text>
<rect x="635.2" y="459.9" width="283.1" height="231.1" fill="none" stroke="#000" stroke-width="3.2"/>
<text x="454.2" y="776.5" font-size="30.8" text-anchor="middle" fill="#000">Year</text>
<text transform="translate(-45.3,371.2) rotate(-90)" font-size="30.8" text-anchor="middle" fill="#000">Depth (m)</text>
</g>
<g transform="translate(86.4,168.5)" font-weight="bold" font-size="24" text-anchor="middle">
<text x="143.5" y="183.6">CFM-Cr</text>
<text x="460.3" y="183.6">CFM-KM</text>
<text x="777" y="183.6">DTU</text>
<text x="143.5" y="412.6">DMIHH</text>
<text x="460.3" y="412.6">GEUS</text>
<text x="777" y="412.6">IMAUFDM</text>
<text x="143.5" y="674.7">MeyerHewitt</text>
<text x="460.3" y="674.7">UppsalaUniBucket</text>
<text x="777" y="674.7">UppsalaUniDeepPerc</text>
</g>
<g transform="translate(1105.5,168.5)" font-weight="bold" font-size="24" text-anchor="middle">
<text x="143.5" y="183.6">CFM-Cr</text>
<text x="460.3" y="183.6">CFM-KM</text>
<text x="777" y="183.6">DTU</text>
<text x="143.5" y="412.6">DMIHH</text>
<text x="460.3" y="412.6">GEUS</text>
<text x="777" y="412.6">IMAUFDM</text>
<text x="143.5" y="674.7">MeyerHewitt</text>
<text x="460.3" y="674.7">UppsalaUniBucket</text>
<text x="777" y="674.7">UppsalaUniDeepPerc</text>
</g>
<g transform="translate(584.2,1184.3)" font-weight="bold" font-size="24" text-anchor="middle">
<text x="143.5" y="188">CFM-Cr</text>
<text x="460.3" y="188">CFM-KM</text>
<text x="777" y="188">DTU</text>
<text x="143.5" y="417">DMIHH</text>
<text x="460.3" y="417">GEUS</text>
<text x="777" y="417">IMAUFDM</text>
<text x="143.5" y="680.5">MeyerHewitt</text>
<text x="460.3" y="680.5">UppsalaUniBucket</text>
<text x="777" y="680.5">UppsalaUniDeepPerc</text>
</g>
</svg>
</body></html>
